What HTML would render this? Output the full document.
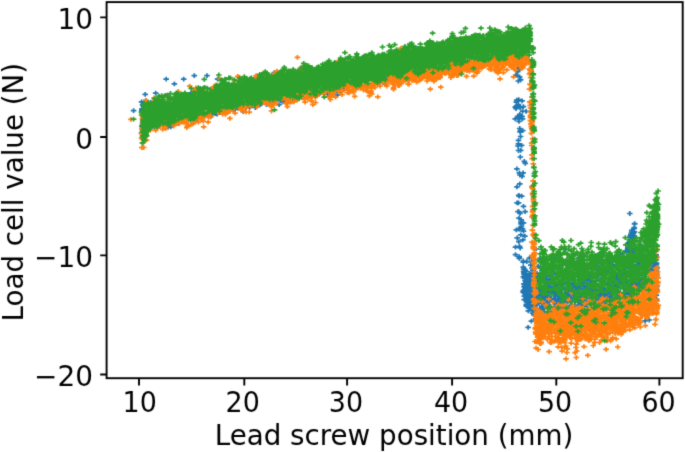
<!DOCTYPE html>
<html><head><meta charset="utf-8"><style>html,body{margin:0;padding:0;background:#fff}svg{display:block}</style></head>
<body><svg width="685" height="452" viewBox="0 0 685 452">
<defs><filter id="bl" color-interpolation-filters="sRGB" x="0" y="0" width="685" height="452" filterUnits="userSpaceOnUse"><feConvolveMatrix order="3" kernelMatrix="0.0169 0.0962 0.0169 0.0962 0.5476 0.0962 0.0169 0.0962 0.0169" edgeMode="duplicate"/></filter></defs>
<g filter="url(#bl)">
<rect width="685" height="452" fill="#fff"/>
<path d="M139.8 104.6h5.6m-2.8-2.4v4.8M168.0 126.9h5.6m-2.8-2.4v4.8M214.3 114.1h5.6m-2.8-2.4v4.8M139.6 126.2h5.6m-2.8-2.4v4.8M151.9 126.5h5.6m-2.8-2.4v4.8M300.8 97.7h5.6m-2.8-2.4v4.8M271.5 72.6h5.6m-2.8-2.4v4.8M252.1 80.3h5.6m-2.8-2.4v4.8M140.6 106.1h5.6m-2.8-2.4v4.8M173.4 123.2h5.6m-2.8-2.4v4.8M232.3 109.5h5.6m-2.8-2.4v4.8M230.9 109.3h5.6m-2.8-2.4v4.8M280.3 101.8h5.6m-2.8-2.4v4.8M240.5 111.7h5.6m-2.8-2.4v4.8M207.7 116.9h5.6m-2.8-2.4v4.8M272.1 101.5h5.6m-2.8-2.4v4.8M152.6 127.9h5.6m-2.8-2.4v4.8M169.8 124.4h5.6m-2.8-2.4v4.8M165.2 127.3h5.6m-2.8-2.4v4.8M246.9 107.3h5.6m-2.8-2.4v4.8M139.0 126.1h5.6m-2.8-2.4v4.8M377.6 82.4h5.6m-2.8-2.4v4.8M217.5 111.8h5.6m-2.8-2.4v4.8M189.1 93.3h5.6m-2.8-2.4v4.8M138.7 133.2h5.6m-2.8-2.4v4.8M324.9 94.3h5.6m-2.8-2.4v4.8M414.2 48.1h5.6m-2.8-2.4v4.8M258.1 103.8h5.6m-2.8-2.4v4.8M140.6 105.7h5.6m-2.8-2.4v4.8M143.0 100.4h5.6m-2.8-2.4v4.8M138.8 101.8h5.6m-2.8-2.4v4.8M334.5 95.1h5.6m-2.8-2.4v4.8M257.0 105.2h5.6m-2.8-2.4v4.8M296.3 71.0h5.6m-2.8-2.4v4.8M263.8 104.5h5.6m-2.8-2.4v4.8M433.6 45.7h5.6m-2.8-2.4v4.8M147.9 102.6h5.6m-2.8-2.4v4.8M382.3 84.5h5.6m-2.8-2.4v4.8M243.2 107.5h5.6m-2.8-2.4v4.8M178.6 95.0h5.6m-2.8-2.4v4.8M235.1 108.2h5.6m-2.8-2.4v4.8M141.9 103.2h5.6m-2.8-2.4v4.8M197.6 88.5h5.6m-2.8-2.4v4.8M280.7 100.1h5.6m-2.8-2.4v4.8M254.4 105.7h5.6m-2.8-2.4v4.8M140.8 106.2h5.6m-2.8-2.4v4.8M342.2 88.9h5.6m-2.8-2.4v4.8M337.7 91.4h5.6m-2.8-2.4v4.8M188.3 92.8h5.6m-2.8-2.4v4.8M164.6 95.1h5.6m-2.8-2.4v4.8M153.1 100.4h5.6m-2.8-2.4v4.8M248.8 105.5h5.6m-2.8-2.4v4.8M140.0 122.1h5.6m-2.8-2.4v4.8M199.7 115.8h5.6m-2.8-2.4v4.8M315.7 94.7h5.6m-2.8-2.4v4.8M152.1 127.2h5.6m-2.8-2.4v4.8M147.8 102.4h5.6m-2.8-2.4v4.8M276.3 104.7h5.6m-2.8-2.4v4.8M331.9 92.1h5.6m-2.8-2.4v4.8M186.9 95.3h5.6m-2.8-2.4v4.8M269.2 103.1h5.6m-2.8-2.4v4.8M208.8 114.6h5.6m-2.8-2.4v4.8M154.7 126.9h5.6m-2.8-2.4v4.8M231.7 108.3h5.6m-2.8-2.4v4.8M252.8 80.9h5.6m-2.8-2.4v4.8M275.3 99.1h5.6m-2.8-2.4v4.8M212.5 113.6h5.6m-2.8-2.4v4.8M280.5 98.9h5.6m-2.8-2.4v4.8M252.5 107.5h5.6m-2.8-2.4v4.8M194.4 118.8h5.6m-2.8-2.4v4.8M383.9 77.7h5.6m-2.8-2.4v4.8M248.7 79.3h5.6m-2.8-2.4v4.8M139.2 108.9h5.6m-2.8-2.4v4.8M335.6 88.7h5.6m-2.8-2.4v4.8M436.4 46.6h5.6m-2.8-2.4v4.8M232.4 107.0h5.6m-2.8-2.4v4.8M139.0 110.7h5.6m-2.8-2.4v4.8M260.8 76.7h5.6m-2.8-2.4v4.8M278.2 100.8h5.6m-2.8-2.4v4.8M289.7 100.9h5.6m-2.8-2.4v4.8M249.7 81.2h5.6m-2.8-2.4v4.8M334.9 90.2h5.6m-2.8-2.4v4.8M214.2 112.5h5.6m-2.8-2.4v4.8M163.4 79.2h5.6m-2.8-2.4v4.8M180.9 79.2h5.6m-2.8-2.4v4.8M191.5 75.7h5.6m-2.8-2.4v4.8M204.2 75.7h5.6m-2.8-2.4v4.8M171.6 83.9h5.6m-2.8-2.4v4.8M152.9 93.2h5.6m-2.8-2.4v4.8M142.4 94.4h5.6m-2.8-2.4v4.8M130.8 110.6h5.6m-2.8-2.4v4.8M214.8 79.2h5.6m-2.8-2.4v4.8M517.0 68.4h5.6m-2.8-2.4v4.8M514.9 71.6h5.6m-2.8-2.4v4.8M515.5 81.0h5.6m-2.8-2.4v4.8M516.2 67.4h5.6m-2.8-2.4v4.8M516.8 76.9h5.6m-2.8-2.4v4.8M517.8 79.6h5.6m-2.8-2.4v4.8M517.8 80.0h5.6m-2.8-2.4v4.8M513.2 75.2h5.6m-2.8-2.4v4.8M517.0 114.3h5.6m-2.8-2.4v4.8M514.0 100.2h5.6m-2.8-2.4v4.8M519.8 111.2h5.6m-2.8-2.4v4.8M523.3 111.3h5.6m-2.8-2.4v4.8M512.4 118.9h5.6m-2.8-2.4v4.8M517.8 130.8h5.6m-2.8-2.4v4.8M515.0 117.3h5.6m-2.8-2.4v4.8M516.2 121.4h5.6m-2.8-2.4v4.8M517.3 107.7h5.6m-2.8-2.4v4.8M513.2 108.6h5.6m-2.8-2.4v4.8M519.4 116.5h5.6m-2.8-2.4v4.8M516.9 128.5h5.6m-2.8-2.4v4.8M517.8 136.5h5.6m-2.8-2.4v4.8M520.6 106.6h5.6m-2.8-2.4v4.8M515.4 116.0h5.6m-2.8-2.4v4.8M512.5 106.8h5.6m-2.8-2.4v4.8M517.6 130.5h5.6m-2.8-2.4v4.8M515.6 104.5h5.6m-2.8-2.4v4.8M519.3 100.8h5.6m-2.8-2.4v4.8M514.0 106.1h5.6m-2.8-2.4v4.8M513.5 102.1h5.6m-2.8-2.4v4.8M515.5 117.9h5.6m-2.8-2.4v4.8M517.3 131.9h5.6m-2.8-2.4v4.8M515.9 99.6h5.6m-2.8-2.4v4.8M519.9 130.6h5.6m-2.8-2.4v4.8M519.7 118.8h5.6m-2.8-2.4v4.8M518.7 116.4h5.6m-2.8-2.4v4.8M516.7 117.5h5.6m-2.8-2.4v4.8M521.5 161.3h5.6m-2.8-2.4v4.8M522.5 163.4h5.6m-2.8-2.4v4.8M515.6 143.8h5.6m-2.8-2.4v4.8M515.7 140.4h5.6m-2.8-2.4v4.8M515.7 150.5h5.6m-2.8-2.4v4.8M515.2 146.0h5.6m-2.8-2.4v4.8M518.8 145.3h5.6m-2.8-2.4v4.8M517.5 157.0h5.6m-2.8-2.4v4.8M514.1 168.8h5.6m-2.8-2.4v4.8M517.9 150.3h5.6m-2.8-2.4v4.8M516.7 246.4h5.6m-2.8-2.4v4.8M522.3 211.6h5.6m-2.8-2.4v4.8M513.5 229.9h5.6m-2.8-2.4v4.8M517.4 248.0h5.6m-2.8-2.4v4.8M516.6 172.8h5.6m-2.8-2.4v4.8M520.7 222.8h5.6m-2.8-2.4v4.8M514.4 237.8h5.6m-2.8-2.4v4.8M518.3 223.8h5.6m-2.8-2.4v4.8M516.0 241.7h5.6m-2.8-2.4v4.8M518.9 196.2h5.6m-2.8-2.4v4.8M516.0 211.7h5.6m-2.8-2.4v4.8M518.4 219.9h5.6m-2.8-2.4v4.8M518.0 234.8h5.6m-2.8-2.4v4.8M517.0 183.9h5.6m-2.8-2.4v4.8M516.5 256.7h5.6m-2.8-2.4v4.8M517.0 229.0h5.6m-2.8-2.4v4.8M512.7 254.6h5.6m-2.8-2.4v4.8M518.2 222.1h5.6m-2.8-2.4v4.8M519.3 176.4h5.6m-2.8-2.4v4.8M519.7 228.8h5.6m-2.8-2.4v4.8M515.2 211.6h5.6m-2.8-2.4v4.8M514.2 186.8h5.6m-2.8-2.4v4.8M520.7 231.1h5.6m-2.8-2.4v4.8M515.7 202.9h5.6m-2.8-2.4v4.8M515.7 229.2h5.6m-2.8-2.4v4.8M512.7 247.1h5.6m-2.8-2.4v4.8M514.3 202.8h5.6m-2.8-2.4v4.8M516.5 258.3h5.6m-2.8-2.4v4.8M522.1 236.2h5.6m-2.8-2.4v4.8M516.2 218.2h5.6m-2.8-2.4v4.8M520.7 206.3h5.6m-2.8-2.4v4.8M515.9 195.3h5.6m-2.8-2.4v4.8M516.5 196.1h5.6m-2.8-2.4v4.8M517.2 213.4h5.6m-2.8-2.4v4.8M520.3 172.9h5.6m-2.8-2.4v4.8M517.1 175.0h5.6m-2.8-2.4v4.8M520.1 239.8h5.6m-2.8-2.4v4.8M518.6 226.3h5.6m-2.8-2.4v4.8M617.9 287.9h5.6m-2.8-2.4v4.8M521.5 296.1h5.6m-2.8-2.4v4.8M599.5 275.8h5.6m-2.8-2.4v4.8M584.6 280.7h5.6m-2.8-2.4v4.8M521.4 290.1h5.6m-2.8-2.4v4.8M551.9 303.7h5.6m-2.8-2.4v4.8M637.5 244.3h5.6m-2.8-2.4v4.8M522.5 287.6h5.6m-2.8-2.4v4.8M529.1 268.0h5.6m-2.8-2.4v4.8M533.3 248.9h5.6m-2.8-2.4v4.8M537.5 267.2h5.6m-2.8-2.4v4.8M607.8 262.1h5.6m-2.8-2.4v4.8M653.5 266.8h5.6m-2.8-2.4v4.8M531.7 287.7h5.6m-2.8-2.4v4.8M528.9 274.3h5.6m-2.8-2.4v4.8M597.0 253.3h5.6m-2.8-2.4v4.8M547.6 299.8h5.6m-2.8-2.4v4.8M595.8 272.3h5.6m-2.8-2.4v4.8M527.1 281.5h5.6m-2.8-2.4v4.8M626.6 293.5h5.6m-2.8-2.4v4.8M520.5 267.2h5.6m-2.8-2.4v4.8M525.5 310.8h5.6m-2.8-2.4v4.8M526.4 308.0h5.6m-2.8-2.4v4.8M522.5 270.4h5.6m-2.8-2.4v4.8M604.8 297.6h5.6m-2.8-2.4v4.8M526.7 308.2h5.6m-2.8-2.4v4.8M532.7 319.5h5.6m-2.8-2.4v4.8M626.3 259.5h5.6m-2.8-2.4v4.8M536.3 276.6h5.6m-2.8-2.4v4.8M555.0 299.4h5.6m-2.8-2.4v4.8M531.0 287.2h5.6m-2.8-2.4v4.8M653.8 299.3h5.6m-2.8-2.4v4.8M590.0 277.1h5.6m-2.8-2.4v4.8M556.4 300.1h5.6m-2.8-2.4v4.8M527.2 306.2h5.6m-2.8-2.4v4.8M575.1 271.9h5.6m-2.8-2.4v4.8M526.8 279.0h5.6m-2.8-2.4v4.8M597.4 295.1h5.6m-2.8-2.4v4.8M553.0 295.9h5.6m-2.8-2.4v4.8M624.6 293.9h5.6m-2.8-2.4v4.8M598.7 272.4h5.6m-2.8-2.4v4.8M528.3 281.6h5.6m-2.8-2.4v4.8M534.2 305.0h5.6m-2.8-2.4v4.8M526.8 276.2h5.6m-2.8-2.4v4.8M615.4 291.4h5.6m-2.8-2.4v4.8M528.0 285.1h5.6m-2.8-2.4v4.8M625.3 296.0h5.6m-2.8-2.4v4.8M535.3 266.4h5.6m-2.8-2.4v4.8M586.2 275.4h5.6m-2.8-2.4v4.8M604.9 293.2h5.6m-2.8-2.4v4.8M530.8 270.9h5.6m-2.8-2.4v4.8M558.2 265.8h5.6m-2.8-2.4v4.8M539.0 270.5h5.6m-2.8-2.4v4.8M647.6 263.7h5.6m-2.8-2.4v4.8M599.0 294.7h5.6m-2.8-2.4v4.8M533.3 304.0h5.6m-2.8-2.4v4.8M653.6 295.1h5.6m-2.8-2.4v4.8M651.1 265.8h5.6m-2.8-2.4v4.8M616.5 282.4h5.6m-2.8-2.4v4.8M525.3 327.3h5.6m-2.8-2.4v4.8M529.8 313.1h5.6m-2.8-2.4v4.8M631.8 253.7h5.6m-2.8-2.4v4.8M653.8 263.2h5.6m-2.8-2.4v4.8M522.2 275.9h5.6m-2.8-2.4v4.8M523.5 306.2h5.6m-2.8-2.4v4.8M522.9 294.8h5.6m-2.8-2.4v4.8M614.7 279.4h5.6m-2.8-2.4v4.8M576.4 296.7h5.6m-2.8-2.4v4.8M554.7 301.2h5.6m-2.8-2.4v4.8M520.8 271.3h5.6m-2.8-2.4v4.8M587.6 300.4h5.6m-2.8-2.4v4.8M625.2 292.2h5.6m-2.8-2.4v4.8M605.3 270.0h5.6m-2.8-2.4v4.8M543.5 276.7h5.6m-2.8-2.4v4.8M601.5 303.2h5.6m-2.8-2.4v4.8M554.9 294.7h5.6m-2.8-2.4v4.8M634.7 285.3h5.6m-2.8-2.4v4.8M521.4 287.0h5.6m-2.8-2.4v4.8M524.5 294.8h5.6m-2.8-2.4v4.8M571.4 261.6h5.6m-2.8-2.4v4.8M596.5 294.7h5.6m-2.8-2.4v4.8M613.0 277.4h5.6m-2.8-2.4v4.8M567.3 305.8h5.6m-2.8-2.4v4.8M524.0 281.5h5.6m-2.8-2.4v4.8M551.6 293.0h5.6m-2.8-2.4v4.8M601.4 301.1h5.6m-2.8-2.4v4.8M526.7 294.8h5.6m-2.8-2.4v4.8M521.7 293.4h5.6m-2.8-2.4v4.8M576.4 301.9h5.6m-2.8-2.4v4.8M520.9 269.0h5.6m-2.8-2.4v4.8M520.3 292.2h5.6m-2.8-2.4v4.8M523.2 283.0h5.6m-2.8-2.4v4.8M531.1 275.9h5.6m-2.8-2.4v4.8M551.6 306.7h5.6m-2.8-2.4v4.8M521.6 269.2h5.6m-2.8-2.4v4.8M540.5 298.1h5.6m-2.8-2.4v4.8M521.4 291.7h5.6m-2.8-2.4v4.8M637.1 312.9h5.6m-2.8-2.4v4.8M653.4 266.9h5.6m-2.8-2.4v4.8M557.5 307.0h5.6m-2.8-2.4v4.8M635.8 283.8h5.6m-2.8-2.4v4.8M532.7 318.9h5.6m-2.8-2.4v4.8M520.6 276.9h5.6m-2.8-2.4v4.8M604.6 273.4h5.6m-2.8-2.4v4.8M521.4 299.6h5.6m-2.8-2.4v4.8M521.4 286.7h5.6m-2.8-2.4v4.8M530.4 309.5h5.6m-2.8-2.4v4.8M546.5 296.7h5.6m-2.8-2.4v4.8M599.4 294.3h5.6m-2.8-2.4v4.8M615.2 284.6h5.6m-2.8-2.4v4.8M546.2 301.4h5.6m-2.8-2.4v4.8M524.2 294.1h5.6m-2.8-2.4v4.8M552.4 299.7h5.6m-2.8-2.4v4.8M653.4 254.8h5.6m-2.8-2.4v4.8M616.9 293.5h5.6m-2.8-2.4v4.8M637.3 287.8h5.6m-2.8-2.4v4.8M586.9 280.0h5.6m-2.8-2.4v4.8M597.5 293.4h5.6m-2.8-2.4v4.8M522.4 276.0h5.6m-2.8-2.4v4.8M598.0 292.0h5.6m-2.8-2.4v4.8M622.2 293.9h5.6m-2.8-2.4v4.8M555.9 294.5h5.6m-2.8-2.4v4.8M615.3 287.6h5.6m-2.8-2.4v4.8M549.0 291.6h5.6m-2.8-2.4v4.8M587.3 263.5h5.6m-2.8-2.4v4.8M607.2 286.7h5.6m-2.8-2.4v4.8M529.5 275.3h5.6m-2.8-2.4v4.8M601.2 294.0h5.6m-2.8-2.4v4.8M546.2 297.6h5.6m-2.8-2.4v4.8M568.1 307.2h5.6m-2.8-2.4v4.8M593.0 296.0h5.6m-2.8-2.4v4.8M527.4 286.2h5.6m-2.8-2.4v4.8M524.0 278.3h5.6m-2.8-2.4v4.8M540.9 295.7h5.6m-2.8-2.4v4.8M550.5 289.1h5.6m-2.8-2.4v4.8M544.9 296.6h5.6m-2.8-2.4v4.8M534.3 273.5h5.6m-2.8-2.4v4.8M602.8 273.0h5.6m-2.8-2.4v4.8M520.5 262.2h5.6m-2.8-2.4v4.8M557.2 295.5h5.6m-2.8-2.4v4.8M575.6 259.0h5.6m-2.8-2.4v4.8M550.3 268.8h5.6m-2.8-2.4v4.8M538.9 306.0h5.6m-2.8-2.4v4.8M650.2 272.4h5.6m-2.8-2.4v4.8M609.2 293.1h5.6m-2.8-2.4v4.8M530.8 306.3h5.6m-2.8-2.4v4.8M605.8 291.5h5.6m-2.8-2.4v4.8M539.6 309.5h5.6m-2.8-2.4v4.8M546.8 279.7h5.6m-2.8-2.4v4.8M587.6 282.9h5.6m-2.8-2.4v4.8M599.5 292.7h5.6m-2.8-2.4v4.8M520.6 290.5h5.6m-2.8-2.4v4.8M524.4 286.2h5.6m-2.8-2.4v4.8M592.5 305.8h5.6m-2.8-2.4v4.8M634.1 262.5h5.6m-2.8-2.4v4.8M606.2 262.2h5.6m-2.8-2.4v4.8M612.8 299.2h5.6m-2.8-2.4v4.8M599.4 298.5h5.6m-2.8-2.4v4.8M575.6 287.2h5.6m-2.8-2.4v4.8M602.0 294.8h5.6m-2.8-2.4v4.8M653.6 264.7h5.6m-2.8-2.4v4.8M528.8 280.5h5.6m-2.8-2.4v4.8M630.3 264.5h5.6m-2.8-2.4v4.8M524.7 301.1h5.6m-2.8-2.4v4.8M528.5 262.4h5.6m-2.8-2.4v4.8M533.6 302.9h5.6m-2.8-2.4v4.8M537.2 258.3h5.6m-2.8-2.4v4.8M598.0 291.8h5.6m-2.8-2.4v4.8M597.3 299.4h5.6m-2.8-2.4v4.8M604.0 294.1h5.6m-2.8-2.4v4.8M555.4 304.1h5.6m-2.8-2.4v4.8M543.5 302.3h5.6m-2.8-2.4v4.8M578.3 286.2h5.6m-2.8-2.4v4.8M651.6 268.3h5.6m-2.8-2.4v4.8M582.2 288.3h5.6m-2.8-2.4v4.8M541.3 308.1h5.6m-2.8-2.4v4.8M548.0 292.9h5.6m-2.8-2.4v4.8M545.1 304.4h5.6m-2.8-2.4v4.8M524.6 286.5h5.6m-2.8-2.4v4.8M572.4 286.7h5.6m-2.8-2.4v4.8M648.8 265.9h5.6m-2.8-2.4v4.8M651.6 269.9h5.6m-2.8-2.4v4.8M521.8 278.4h5.6m-2.8-2.4v4.8M532.4 307.8h5.6m-2.8-2.4v4.8M623.8 281.2h5.6m-2.8-2.4v4.8M541.1 296.9h5.6m-2.8-2.4v4.8M652.1 266.4h5.6m-2.8-2.4v4.8M633.5 287.3h5.6m-2.8-2.4v4.8M631.0 285.9h5.6m-2.8-2.4v4.8M594.5 293.0h5.6m-2.8-2.4v4.8M528.6 321.1h5.6m-2.8-2.4v4.8M601.6 289.5h5.6m-2.8-2.4v4.8M627.5 296.1h5.6m-2.8-2.4v4.8M526.6 258.2h5.6m-2.8-2.4v4.8M632.6 274.0h5.6m-2.8-2.4v4.8M549.9 270.7h5.6m-2.8-2.4v4.8M565.1 302.2h5.6m-2.8-2.4v4.8M623.4 290.2h5.6m-2.8-2.4v4.8M608.4 294.1h5.6m-2.8-2.4v4.8M653.9 273.5h5.6m-2.8-2.4v4.8M531.2 289.5h5.6m-2.8-2.4v4.8M608.2 283.5h5.6m-2.8-2.4v4.8M616.9 281.8h5.6m-2.8-2.4v4.8M526.5 277.9h5.6m-2.8-2.4v4.8M602.3 289.5h5.6m-2.8-2.4v4.8M530.7 310.9h5.6m-2.8-2.4v4.8M581.7 280.4h5.6m-2.8-2.4v4.8M563.7 299.0h5.6m-2.8-2.4v4.8M552.2 257.5h5.6m-2.8-2.4v4.8M539.7 303.5h5.6m-2.8-2.4v4.8M537.6 309.3h5.6m-2.8-2.4v4.8M597.7 288.0h5.6m-2.8-2.4v4.8M526.4 291.7h5.6m-2.8-2.4v4.8M602.7 300.3h5.6m-2.8-2.4v4.8M522.3 280.6h5.6m-2.8-2.4v4.8M598.6 290.9h5.6m-2.8-2.4v4.8M546.0 305.2h5.6m-2.8-2.4v4.8M569.2 305.3h5.6m-2.8-2.4v4.8M628.5 284.2h5.6m-2.8-2.4v4.8M521.3 274.5h5.6m-2.8-2.4v4.8M608.7 303.2h5.6m-2.8-2.4v4.8M549.3 279.7h5.6m-2.8-2.4v4.8M579.6 270.3h5.6m-2.8-2.4v4.8M643.5 285.7h5.6m-2.8-2.4v4.8M589.5 292.5h5.6m-2.8-2.4v4.8M561.8 302.1h5.6m-2.8-2.4v4.8M630.3 282.8h5.6m-2.8-2.4v4.8M596.5 298.5h5.6m-2.8-2.4v4.8M525.8 284.1h5.6m-2.8-2.4v4.8M534.7 312.6h5.6m-2.8-2.4v4.8M591.7 299.1h5.6m-2.8-2.4v4.8M523.3 283.5h5.6m-2.8-2.4v4.8M632.7 283.5h5.6m-2.8-2.4v4.8M561.3 298.2h5.6m-2.8-2.4v4.8M612.2 277.4h5.6m-2.8-2.4v4.8M521.1 272.8h5.6m-2.8-2.4v4.8M532.0 306.8h5.6m-2.8-2.4v4.8M562.7 249.4h5.6m-2.8-2.4v4.8M546.2 298.1h5.6m-2.8-2.4v4.8M572.1 301.3h5.6m-2.8-2.4v4.8M586.0 277.6h5.6m-2.8-2.4v4.8M618.9 282.4h5.6m-2.8-2.4v4.8M621.6 293.8h5.6m-2.8-2.4v4.8M560.4 301.6h5.6m-2.8-2.4v4.8M523.5 304.4h5.6m-2.8-2.4v4.8M598.1 291.1h5.6m-2.8-2.4v4.8M581.3 259.5h5.6m-2.8-2.4v4.8M539.9 309.2h5.6m-2.8-2.4v4.8M636.3 263.9h5.6m-2.8-2.4v4.8M563.9 291.9h5.6m-2.8-2.4v4.8M551.6 293.7h5.6m-2.8-2.4v4.8M582.5 288.5h5.6m-2.8-2.4v4.8M648.2 269.2h5.6m-2.8-2.4v4.8M529.9 270.2h5.6m-2.8-2.4v4.8M638.2 287.3h5.6m-2.8-2.4v4.8M575.5 293.7h5.6m-2.8-2.4v4.8M583.1 284.6h5.6m-2.8-2.4v4.8M557.0 297.4h5.6m-2.8-2.4v4.8M526.1 278.1h5.6m-2.8-2.4v4.8M653.6 270.6h5.6m-2.8-2.4v4.8M616.4 293.0h5.6m-2.8-2.4v4.8M523.1 298.1h5.6m-2.8-2.4v4.8M608.8 295.4h5.6m-2.8-2.4v4.8M592.8 289.5h5.6m-2.8-2.4v4.8M577.6 303.7h5.6m-2.8-2.4v4.8M544.1 298.9h5.6m-2.8-2.4v4.8M561.2 276.6h5.6m-2.8-2.4v4.8M602.5 297.2h5.6m-2.8-2.4v4.8M636.8 261.2h5.6m-2.8-2.4v4.8M624.4 282.0h5.6m-2.8-2.4v4.8M521.7 293.0h5.6m-2.8-2.4v4.8M585.9 289.0h5.6m-2.8-2.4v4.8M654.0 290.3h5.6m-2.8-2.4v4.8M570.3 287.2h5.6m-2.8-2.4v4.8M557.8 285.2h5.6m-2.8-2.4v4.8M535.4 274.8h5.6m-2.8-2.4v4.8M528.0 265.2h5.6m-2.8-2.4v4.8M563.1 293.3h5.6m-2.8-2.4v4.8M540.0 303.3h5.6m-2.8-2.4v4.8M532.4 279.5h5.6m-2.8-2.4v4.8M650.4 297.0h5.6m-2.8-2.4v4.8M646.5 263.1h5.6m-2.8-2.4v4.8M595.9 274.4h5.6m-2.8-2.4v4.8M602.6 297.7h5.6m-2.8-2.4v4.8M550.6 292.7h5.6m-2.8-2.4v4.8M523.4 286.4h5.6m-2.8-2.4v4.8M547.8 307.9h5.6m-2.8-2.4v4.8M627.4 286.2h5.6m-2.8-2.4v4.8M609.6 294.2h5.6m-2.8-2.4v4.8M546.4 298.6h5.6m-2.8-2.4v4.8M579.6 298.3h5.6m-2.8-2.4v4.8M554.8 292.3h5.6m-2.8-2.4v4.8M557.5 288.0h5.6m-2.8-2.4v4.8M572.1 279.5h5.6m-2.8-2.4v4.8M561.4 281.8h5.6m-2.8-2.4v4.8M526.6 294.6h5.6m-2.8-2.4v4.8M538.1 300.8h5.6m-2.8-2.4v4.8M595.7 291.7h5.6m-2.8-2.4v4.8M586.8 303.8h5.6m-2.8-2.4v4.8M622.2 252.2h5.6m-2.8-2.4v4.8M534.3 291.0h5.6m-2.8-2.4v4.8M594.7 265.1h5.6m-2.8-2.4v4.8M531.3 279.8h5.6m-2.8-2.4v4.8M536.4 295.2h5.6m-2.8-2.4v4.8M600.8 292.9h5.6m-2.8-2.4v4.8M529.4 273.5h5.6m-2.8-2.4v4.8M584.0 286.5h5.6m-2.8-2.4v4.8M522.1 278.3h5.6m-2.8-2.4v4.8M573.5 284.3h5.6m-2.8-2.4v4.8M564.1 277.3h5.6m-2.8-2.4v4.8M654.0 286.7h5.6m-2.8-2.4v4.8M598.2 257.8h5.6m-2.8-2.4v4.8M530.1 306.3h5.6m-2.8-2.4v4.8M567.7 307.5h5.6m-2.8-2.4v4.8M598.5 263.2h5.6m-2.8-2.4v4.8M565.1 286.1h5.6m-2.8-2.4v4.8M552.1 286.6h5.6m-2.8-2.4v4.8M559.5 287.6h5.6m-2.8-2.4v4.8M584.6 277.8h5.6m-2.8-2.4v4.8M610.2 265.1h5.6m-2.8-2.4v4.8M591.8 300.8h5.6m-2.8-2.4v4.8M566.5 283.5h5.6m-2.8-2.4v4.8M527.3 274.3h5.6m-2.8-2.4v4.8M592.9 290.8h5.6m-2.8-2.4v4.8M528.4 293.5h5.6m-2.8-2.4v4.8M571.5 284.1h5.6m-2.8-2.4v4.8M603.9 298.9h5.6m-2.8-2.4v4.8M523.3 274.3h5.6m-2.8-2.4v4.8M653.7 288.8h5.6m-2.8-2.4v4.8M536.9 292.8h5.6m-2.8-2.4v4.8M614.5 274.3h5.6m-2.8-2.4v4.8M570.3 283.0h5.6m-2.8-2.4v4.8M641.8 290.4h5.6m-2.8-2.4v4.8M570.4 280.2h5.6m-2.8-2.4v4.8M543.5 297.8h5.6m-2.8-2.4v4.8M651.9 269.9h5.6m-2.8-2.4v4.8M532.7 296.1h5.6m-2.8-2.4v4.8M537.1 308.3h5.6m-2.8-2.4v4.8M607.7 301.6h5.6m-2.8-2.4v4.8M533.1 297.9h5.6m-2.8-2.4v4.8M646.5 320.0h5.6m-2.8-2.4v4.8M571.0 295.5h5.6m-2.8-2.4v4.8M619.9 274.0h5.6m-2.8-2.4v4.8M630.5 273.9h5.6m-2.8-2.4v4.8M586.2 300.2h5.6m-2.8-2.4v4.8M521.6 286.8h5.6m-2.8-2.4v4.8M542.9 278.8h5.6m-2.8-2.4v4.8M561.2 283.7h5.6m-2.8-2.4v4.8M600.1 254.6h5.6m-2.8-2.4v4.8M654.0 257.3h5.6m-2.8-2.4v4.8M589.0 297.8h5.6m-2.8-2.4v4.8M525.5 288.5h5.6m-2.8-2.4v4.8M558.5 280.6h5.6m-2.8-2.4v4.8M569.4 298.8h5.6m-2.8-2.4v4.8M609.1 297.7h5.6m-2.8-2.4v4.8M537.7 289.5h5.6m-2.8-2.4v4.8M558.7 309.7h5.6m-2.8-2.4v4.8M529.7 280.6h5.6m-2.8-2.4v4.8M577.1 294.2h5.6m-2.8-2.4v4.8M545.2 282.8h5.6m-2.8-2.4v4.8M547.5 299.1h5.6m-2.8-2.4v4.8M526.0 300.0h5.6m-2.8-2.4v4.8M569.6 293.7h5.6m-2.8-2.4v4.8M619.1 275.5h5.6m-2.8-2.4v4.8M601.4 274.4h5.6m-2.8-2.4v4.8M528.2 291.5h5.6m-2.8-2.4v4.8M568.0 301.4h5.6m-2.8-2.4v4.8M642.3 320.8h5.6m-2.8-2.4v4.8M569.3 284.5h5.6m-2.8-2.4v4.8M526.1 305.2h5.6m-2.8-2.4v4.8M544.7 304.4h5.6m-2.8-2.4v4.8M524.8 286.9h5.6m-2.8-2.4v4.8M524.0 261.5h5.6m-2.8-2.4v4.8M582.8 306.4h5.6m-2.8-2.4v4.8M530.5 290.5h5.6m-2.8-2.4v4.8M564.1 291.3h5.6m-2.8-2.4v4.8M529.3 294.2h5.6m-2.8-2.4v4.8M616.4 294.5h5.6m-2.8-2.4v4.8M593.6 270.0h5.6m-2.8-2.4v4.8M552.7 290.8h5.6m-2.8-2.4v4.8M654.2 268.5h5.6m-2.8-2.4v4.8M536.3 281.1h5.6m-2.8-2.4v4.8M546.6 306.8h5.6m-2.8-2.4v4.8M553.9 307.9h5.6m-2.8-2.4v4.8M626.4 291.8h5.6m-2.8-2.4v4.8M566.2 294.9h5.6m-2.8-2.4v4.8M653.4 286.4h5.6m-2.8-2.4v4.8M562.7 302.5h5.6m-2.8-2.4v4.8M626.6 267.6h5.6m-2.8-2.4v4.8M531.1 314.9h5.6m-2.8-2.4v4.8M524.2 302.1h5.6m-2.8-2.4v4.8M526.7 273.5h5.6m-2.8-2.4v4.8M555.7 302.7h5.6m-2.8-2.4v4.8M527.5 300.4h5.6m-2.8-2.4v4.8M527.1 297.1h5.6m-2.8-2.4v4.8M603.7 304.7h5.6m-2.8-2.4v4.8M542.1 304.6h5.6m-2.8-2.4v4.8M632.8 286.5h5.6m-2.8-2.4v4.8M562.4 263.9h5.6m-2.8-2.4v4.8M638.9 278.0h5.6m-2.8-2.4v4.8M631.6 288.9h5.6m-2.8-2.4v4.8M546.6 287.5h5.6m-2.8-2.4v4.8M545.7 286.1h5.6m-2.8-2.4v4.8M579.4 296.3h5.6m-2.8-2.4v4.8M565.1 292.0h5.6m-2.8-2.4v4.8M564.9 295.8h5.6m-2.8-2.4v4.8M530.6 305.7h5.6m-2.8-2.4v4.8M520.5 261.0h5.6m-2.8-2.4v4.8M526.8 296.6h5.6m-2.8-2.4v4.8M597.1 281.0h5.6m-2.8-2.4v4.8M591.3 288.6h5.6m-2.8-2.4v4.8M538.2 293.6h5.6m-2.8-2.4v4.8M551.2 298.4h5.6m-2.8-2.4v4.8M598.4 302.1h5.6m-2.8-2.4v4.8M544.0 279.1h5.6m-2.8-2.4v4.8M539.8 312.8h5.6m-2.8-2.4v4.8M535.6 277.2h5.6m-2.8-2.4v4.8M580.3 276.1h5.6m-2.8-2.4v4.8M578.2 282.9h5.6m-2.8-2.4v4.8M578.7 293.5h5.6m-2.8-2.4v4.8M607.0 271.8h5.6m-2.8-2.4v4.8M521.1 283.9h5.6m-2.8-2.4v4.8M533.0 293.1h5.6m-2.8-2.4v4.8M565.8 291.4h5.6m-2.8-2.4v4.8M628.2 280.9h5.6m-2.8-2.4v4.8M560.5 282.8h5.6m-2.8-2.4v4.8M618.9 295.7h5.6m-2.8-2.4v4.8M542.1 294.5h5.6m-2.8-2.4v4.8M538.3 290.2h5.6m-2.8-2.4v4.8M547.0 275.7h5.6m-2.8-2.4v4.8M569.2 307.1h5.6m-2.8-2.4v4.8M577.4 300.1h5.6m-2.8-2.4v4.8M554.5 273.6h5.6m-2.8-2.4v4.8M564.3 289.2h5.6m-2.8-2.4v4.8M595.4 299.6h5.6m-2.8-2.4v4.8M604.3 290.5h5.6m-2.8-2.4v4.8M576.7 271.8h5.6m-2.8-2.4v4.8M611.7 285.9h5.6m-2.8-2.4v4.8M564.9 291.2h5.6m-2.8-2.4v4.8M618.6 296.2h5.6m-2.8-2.4v4.8M651.9 262.8h5.6m-2.8-2.4v4.8M537.7 279.7h5.6m-2.8-2.4v4.8M608.6 287.3h5.6m-2.8-2.4v4.8M527.9 284.0h5.6m-2.8-2.4v4.8M551.3 286.1h5.6m-2.8-2.4v4.8M608.3 297.5h5.6m-2.8-2.4v4.8M578.3 288.8h5.6m-2.8-2.4v4.8M530.5 298.0h5.6m-2.8-2.4v4.8M544.3 291.8h5.6m-2.8-2.4v4.8M525.3 306.2h5.6m-2.8-2.4v4.8M621.6 304.8h5.6m-2.8-2.4v4.8M610.1 282.4h5.6m-2.8-2.4v4.8M582.4 287.0h5.6m-2.8-2.4v4.8M588.9 281.9h5.6m-2.8-2.4v4.8M573.1 299.5h5.6m-2.8-2.4v4.8M538.1 293.1h5.6m-2.8-2.4v4.8M545.9 283.1h5.6m-2.8-2.4v4.8M524.6 301.8h5.6m-2.8-2.4v4.8M624.3 276.7h5.6m-2.8-2.4v4.8M587.0 279.3h5.6m-2.8-2.4v4.8M551.4 310.9h5.6m-2.8-2.4v4.8M541.6 299.0h5.6m-2.8-2.4v4.8M613.9 287.5h5.6m-2.8-2.4v4.8M571.9 305.8h5.6m-2.8-2.4v4.8M550.4 272.7h5.6m-2.8-2.4v4.8M581.4 300.7h5.6m-2.8-2.4v4.8M564.8 308.4h5.6m-2.8-2.4v4.8M654.2 275.7h5.6m-2.8-2.4v4.8M589.0 290.8h5.6m-2.8-2.4v4.8M611.9 266.2h5.6m-2.8-2.4v4.8M544.1 301.5h5.6m-2.8-2.4v4.8M578.3 305.2h5.6m-2.8-2.4v4.8M607.6 297.9h5.6m-2.8-2.4v4.8M522.3 278.0h5.6m-2.8-2.4v4.8M554.9 307.3h5.6m-2.8-2.4v4.8M523.1 281.2h5.6m-2.8-2.4v4.8M587.4 290.6h5.6m-2.8-2.4v4.8M526.4 302.2h5.6m-2.8-2.4v4.8M606.3 298.1h5.6m-2.8-2.4v4.8M561.0 307.7h5.6m-2.8-2.4v4.8M527.7 294.6h5.6m-2.8-2.4v4.8M630.0 295.1h5.6m-2.8-2.4v4.8M622.9 293.5h5.6m-2.8-2.4v4.8M635.6 281.3h5.6m-2.8-2.4v4.8M579.5 294.5h5.6m-2.8-2.4v4.8M565.3 289.1h5.6m-2.8-2.4v4.8M522.3 285.0h5.6m-2.8-2.4v4.8M633.1 266.5h5.6m-2.8-2.4v4.8M647.0 272.6h5.6m-2.8-2.4v4.8M604.4 289.8h5.6m-2.8-2.4v4.8M547.9 312.8h5.6m-2.8-2.4v4.8M523.4 271.5h5.6m-2.8-2.4v4.8M637.3 281.0h5.6m-2.8-2.4v4.8M651.3 276.8h5.6m-2.8-2.4v4.8M530.9 260.1h5.6m-2.8-2.4v4.8M618.1 254.2h5.6m-2.8-2.4v4.8M556.4 291.2h5.6m-2.8-2.4v4.8M535.1 290.4h5.6m-2.8-2.4v4.8M614.9 295.4h5.6m-2.8-2.4v4.8M569.0 290.4h5.6m-2.8-2.4v4.8M605.0 283.4h5.6m-2.8-2.4v4.8M575.2 305.1h5.6m-2.8-2.4v4.8M652.6 270.5h5.6m-2.8-2.4v4.8M576.0 287.4h5.6m-2.8-2.4v4.8M639.9 280.0h5.6m-2.8-2.4v4.8M623.4 273.1h5.6m-2.8-2.4v4.8M530.8 291.7h5.6m-2.8-2.4v4.8M538.3 295.4h5.6m-2.8-2.4v4.8M568.1 298.4h5.6m-2.8-2.4v4.8M560.2 288.6h5.6m-2.8-2.4v4.8M587.9 287.4h5.6m-2.8-2.4v4.8M553.9 301.5h5.6m-2.8-2.4v4.8M555.4 310.7h5.6m-2.8-2.4v4.8M639.1 287.9h5.6m-2.8-2.4v4.8M542.2 274.9h5.6m-2.8-2.4v4.8M627.7 266.5h5.6m-2.8-2.4v4.8M583.8 303.7h5.6m-2.8-2.4v4.8M650.4 276.7h5.6m-2.8-2.4v4.8M556.6 292.8h5.6m-2.8-2.4v4.8M553.6 284.8h5.6m-2.8-2.4v4.8M629.4 273.8h5.6m-2.8-2.4v4.8M532.0 287.0h5.6m-2.8-2.4v4.8M580.7 293.2h5.6m-2.8-2.4v4.8M553.0 274.7h5.6m-2.8-2.4v4.8M603.3 305.6h5.6m-2.8-2.4v4.8M621.3 288.4h5.6m-2.8-2.4v4.8M551.9 284.1h5.6m-2.8-2.4v4.8M616.8 297.7h5.6m-2.8-2.4v4.8M586.3 273.2h5.6m-2.8-2.4v4.8M600.4 284.9h5.6m-2.8-2.4v4.8M536.9 299.4h5.6m-2.8-2.4v4.8M557.7 296.0h5.6m-2.8-2.4v4.8M537.5 290.7h5.6m-2.8-2.4v4.8M610.7 279.3h5.6m-2.8-2.4v4.8M579.8 283.4h5.6m-2.8-2.4v4.8M533.2 301.3h5.6m-2.8-2.4v4.8M534.9 303.1h5.6m-2.8-2.4v4.8M584.1 297.5h5.6m-2.8-2.4v4.8M590.5 295.7h5.6m-2.8-2.4v4.8M570.2 290.2h5.6m-2.8-2.4v4.8M541.5 311.9h5.6m-2.8-2.4v4.8M629.6 299.8h5.6m-2.8-2.4v4.8M527.5 304.5h5.6m-2.8-2.4v4.8M596.9 289.7h5.6m-2.8-2.4v4.8M639.4 285.8h5.6m-2.8-2.4v4.8M599.4 289.0h5.6m-2.8-2.4v4.8M545.8 300.1h5.6m-2.8-2.4v4.8M623.5 284.8h5.6m-2.8-2.4v4.8M622.7 268.5h5.6m-2.8-2.4v4.8M592.8 280.5h5.6m-2.8-2.4v4.8M584.2 289.9h5.6m-2.8-2.4v4.8M526.4 289.1h5.6m-2.8-2.4v4.8M522.1 289.4h5.6m-2.8-2.4v4.8M550.9 292.5h5.6m-2.8-2.4v4.8M537.1 277.7h5.6m-2.8-2.4v4.8M523.9 289.6h5.6m-2.8-2.4v4.8M528.4 300.9h5.6m-2.8-2.4v4.8M588.5 288.6h5.6m-2.8-2.4v4.8M585.2 291.8h5.6m-2.8-2.4v4.8M638.5 280.7h5.6m-2.8-2.4v4.8M573.9 289.7h5.6m-2.8-2.4v4.8M557.5 298.6h5.6m-2.8-2.4v4.8M593.2 283.5h5.6m-2.8-2.4v4.8M631.9 223.9h5.6m-2.8-2.4v4.8M629.0 230.4h5.6m-2.8-2.4v4.8M630.8 250.8h5.6m-2.8-2.4v4.8M631.7 224.0h5.6m-2.8-2.4v4.8M629.3 230.4h5.6m-2.8-2.4v4.8M628.2 235.8h5.6m-2.8-2.4v4.8M626.0 242.8h5.6m-2.8-2.4v4.8M624.7 244.1h5.6m-2.8-2.4v4.8M631.8 241.2h5.6m-2.8-2.4v4.8M630.3 250.5h5.6m-2.8-2.4v4.8M625.0 247.6h5.6m-2.8-2.4v4.8M627.4 236.4h5.6m-2.8-2.4v4.8M626.8 241.7h5.6m-2.8-2.4v4.8M631.2 228.6h5.6m-2.8-2.4v4.8M629.2 251.3h5.6m-2.8-2.4v4.8M631.6 241.7h5.6m-2.8-2.4v4.8M627.3 243.8h5.6m-2.8-2.4v4.8M626.5 250.9h5.6m-2.8-2.4v4.8M629.4 248.3h5.6m-2.8-2.4v4.8M624.3 250.7h5.6m-2.8-2.4v4.8M627.3 237.3h5.6m-2.8-2.4v4.8M631.2 235.9h5.6m-2.8-2.4v4.8M628.1 240.4h5.6m-2.8-2.4v4.8M631.6 231.9h5.6m-2.8-2.4v4.8M628.0 234.3h5.6m-2.8-2.4v4.8M625.9 244.2h5.6m-2.8-2.4v4.8M630.7 233.2h5.6m-2.8-2.4v4.8M630.8 237.4h5.6m-2.8-2.4v4.8M624.9 248.9h5.6m-2.8-2.4v4.8M629.4 250.9h5.6m-2.8-2.4v4.8M630.7 232.3h5.6m-2.8-2.4v4.8M629.3 249.1h5.6m-2.8-2.4v4.8M631.9 223.7h5.6m-2.8-2.4v4.8M631.5 227.6h5.6m-2.8-2.4v4.8M626.7 247.2h5.6m-2.8-2.4v4.8M630.4 237.9h5.6m-2.8-2.4v4.8M625.9 248.6h5.6m-2.8-2.4v4.8M628.9 236.7h5.6m-2.8-2.4v4.8M630.2 234.0h5.6m-2.8-2.4v4.8M629.7 237.5h5.6m-2.8-2.4v4.8M628.8 232.4h5.6m-2.8-2.4v4.8M625.3 250.1h5.6m-2.8-2.4v4.8M627.0 213.5h5.6m-2.8-2.4v4.8" stroke="#1f77b4" stroke-width="1.7" fill="none"/>
<path d="M164.3 126.0h5.6m-2.8-2.4v4.8M190.9 90.4h5.6m-2.8-2.4v4.8M279.6 99.2h5.6m-2.8-2.4v4.8M242.0 106.5h5.6m-2.8-2.4v4.8M312.4 97.3h5.6m-2.8-2.4v4.8M261.5 102.5h5.6m-2.8-2.4v4.8M195.6 122.2h5.6m-2.8-2.4v4.8M451.1 64.2h5.6m-2.8-2.4v4.8M236.7 107.7h5.6m-2.8-2.4v4.8M232.2 113.1h5.6m-2.8-2.4v4.8M500.2 66.8h5.6m-2.8-2.4v4.8M195.0 116.1h5.6m-2.8-2.4v4.8M498.9 65.1h5.6m-2.8-2.4v4.8M360.7 90.0h5.6m-2.8-2.4v4.8M479.2 68.2h5.6m-2.8-2.4v4.8M245.4 106.5h5.6m-2.8-2.4v4.8M464.1 70.7h5.6m-2.8-2.4v4.8M192.9 90.9h5.6m-2.8-2.4v4.8M522.8 53.2h5.6m-2.8-2.4v4.8M413.7 81.0h5.6m-2.8-2.4v4.8M270.8 74.4h5.6m-2.8-2.4v4.8M446.0 73.3h5.6m-2.8-2.4v4.8M320.9 93.8h5.6m-2.8-2.4v4.8M232.6 80.9h5.6m-2.8-2.4v4.8M184.6 126.1h5.6m-2.8-2.4v4.8M415.5 77.2h5.6m-2.8-2.4v4.8M383.9 86.2h5.6m-2.8-2.4v4.8M339.1 90.4h5.6m-2.8-2.4v4.8M217.2 79.2h5.6m-2.8-2.4v4.8M175.1 123.7h5.6m-2.8-2.4v4.8M427.5 89.1h5.6m-2.8-2.4v4.8M457.9 72.1h5.6m-2.8-2.4v4.8M167.2 97.7h5.6m-2.8-2.4v4.8M205.3 122.1h5.6m-2.8-2.4v4.8M406.0 84.1h5.6m-2.8-2.4v4.8M328.8 95.3h5.6m-2.8-2.4v4.8M231.8 107.2h5.6m-2.8-2.4v4.8M446.4 73.9h5.6m-2.8-2.4v4.8M291.5 72.8h5.6m-2.8-2.4v4.8M380.5 78.7h5.6m-2.8-2.4v4.8M351.9 96.3h5.6m-2.8-2.4v4.8M314.0 96.2h5.6m-2.8-2.4v4.8M390.4 83.1h5.6m-2.8-2.4v4.8M461.9 70.0h5.6m-2.8-2.4v4.8M286.0 100.0h5.6m-2.8-2.4v4.8M434.0 76.3h5.6m-2.8-2.4v4.8M302.3 102.2h5.6m-2.8-2.4v4.8M200.6 115.0h5.6m-2.8-2.4v4.8M268.7 111.0h5.6m-2.8-2.4v4.8M438.9 73.9h5.6m-2.8-2.4v4.8M176.4 123.7h5.6m-2.8-2.4v4.8M441.4 72.9h5.6m-2.8-2.4v4.8M288.6 101.9h5.6m-2.8-2.4v4.8M496.2 64.5h5.6m-2.8-2.4v4.8M396.4 83.7h5.6m-2.8-2.4v4.8M240.5 110.9h5.6m-2.8-2.4v4.8M439.9 72.4h5.6m-2.8-2.4v4.8M454.2 66.9h5.6m-2.8-2.4v4.8M242.5 105.6h5.6m-2.8-2.4v4.8M230.7 108.1h5.6m-2.8-2.4v4.8M449.1 76.2h5.6m-2.8-2.4v4.8M140.9 147.5h5.6m-2.8-2.4v4.8M344.7 92.6h5.6m-2.8-2.4v4.8M139.6 118.5h5.6m-2.8-2.4v4.8M285.8 99.2h5.6m-2.8-2.4v4.8M159.9 129.3h5.6m-2.8-2.4v4.8M374.8 84.2h5.6m-2.8-2.4v4.8M428.6 79.3h5.6m-2.8-2.4v4.8M283.4 99.0h5.6m-2.8-2.4v4.8M482.8 65.6h5.6m-2.8-2.4v4.8M198.0 119.7h5.6m-2.8-2.4v4.8M403.7 80.0h5.6m-2.8-2.4v4.8M260.3 102.4h5.6m-2.8-2.4v4.8M413.7 82.0h5.6m-2.8-2.4v4.8M238.1 109.8h5.6m-2.8-2.4v4.8M503.0 63.7h5.6m-2.8-2.4v4.8M344.5 89.4h5.6m-2.8-2.4v4.8M346.9 91.4h5.6m-2.8-2.4v4.8M413.5 76.7h5.6m-2.8-2.4v4.8M139.4 132.8h5.6m-2.8-2.4v4.8M264.7 103.9h5.6m-2.8-2.4v4.8M284.4 100.2h5.6m-2.8-2.4v4.8M199.8 118.9h5.6m-2.8-2.4v4.8M423.7 70.3h5.6m-2.8-2.4v4.8M455.2 75.3h5.6m-2.8-2.4v4.8M253.7 77.6h5.6m-2.8-2.4v4.8M291.2 101.3h5.6m-2.8-2.4v4.8M440.8 72.5h5.6m-2.8-2.4v4.8M501.1 63.4h5.6m-2.8-2.4v4.8M190.0 123.8h5.6m-2.8-2.4v4.8M509.4 62.9h5.6m-2.8-2.4v4.8M344.7 89.9h5.6m-2.8-2.4v4.8M282.1 97.0h5.6m-2.8-2.4v4.8M308.4 100.8h5.6m-2.8-2.4v4.8M297.8 68.0h5.6m-2.8-2.4v4.8M262.3 78.4h5.6m-2.8-2.4v4.8M272.0 100.9h5.6m-2.8-2.4v4.8M274.2 71.1h5.6m-2.8-2.4v4.8M255.2 78.8h5.6m-2.8-2.4v4.8M364.3 90.9h5.6m-2.8-2.4v4.8M139.6 123.5h5.6m-2.8-2.4v4.8M523.2 63.6h5.6m-2.8-2.4v4.8M151.4 125.6h5.6m-2.8-2.4v4.8M468.7 70.0h5.6m-2.8-2.4v4.8M175.5 91.5h5.6m-2.8-2.4v4.8M509.3 58.3h5.6m-2.8-2.4v4.8M510.8 76.9h5.6m-2.8-2.4v4.8M193.2 88.0h5.6m-2.8-2.4v4.8M475.2 68.5h5.6m-2.8-2.4v4.8M424.0 78.3h5.6m-2.8-2.4v4.8M470.9 76.2h5.6m-2.8-2.4v4.8M384.1 75.3h5.6m-2.8-2.4v4.8M336.4 60.3h5.6m-2.8-2.4v4.8M398.0 82.0h5.6m-2.8-2.4v4.8M345.2 90.1h5.6m-2.8-2.4v4.8M144.8 102.2h5.6m-2.8-2.4v4.8M260.8 73.2h5.6m-2.8-2.4v4.8M197.8 113.1h5.6m-2.8-2.4v4.8M502.5 62.5h5.6m-2.8-2.4v4.8M226.9 111.5h5.6m-2.8-2.4v4.8M520.4 65.4h5.6m-2.8-2.4v4.8M339.2 94.6h5.6m-2.8-2.4v4.8M181.2 122.4h5.6m-2.8-2.4v4.8M443.4 72.9h5.6m-2.8-2.4v4.8M400.5 79.9h5.6m-2.8-2.4v4.8M240.8 108.5h5.6m-2.8-2.4v4.8M238.4 108.1h5.6m-2.8-2.4v4.8M503.9 62.3h5.6m-2.8-2.4v4.8M143.4 135.6h5.6m-2.8-2.4v4.8M225.2 111.9h5.6m-2.8-2.4v4.8M162.9 128.5h5.6m-2.8-2.4v4.8M396.5 85.7h5.6m-2.8-2.4v4.8M377.0 82.7h5.6m-2.8-2.4v4.8M236.3 77.2h5.6m-2.8-2.4v4.8M171.0 126.0h5.6m-2.8-2.4v4.8M222.6 114.3h5.6m-2.8-2.4v4.8M512.9 70.0h5.6m-2.8-2.4v4.8M500.6 62.5h5.6m-2.8-2.4v4.8M379.3 81.8h5.6m-2.8-2.4v4.8M418.9 77.4h5.6m-2.8-2.4v4.8M294.2 100.3h5.6m-2.8-2.4v4.8M475.7 71.4h5.6m-2.8-2.4v4.8M284.6 106.7h5.6m-2.8-2.4v4.8M299.0 92.6h5.6m-2.8-2.4v4.8M430.8 76.8h5.6m-2.8-2.4v4.8M501.3 61.7h5.6m-2.8-2.4v4.8M449.1 64.0h5.6m-2.8-2.4v4.8M205.7 117.2h5.6m-2.8-2.4v4.8M380.8 82.4h5.6m-2.8-2.4v4.8M236.1 106.9h5.6m-2.8-2.4v4.8M308.9 97.5h5.6m-2.8-2.4v4.8M250.1 104.6h5.6m-2.8-2.4v4.8M406.3 80.7h5.6m-2.8-2.4v4.8M462.8 66.8h5.6m-2.8-2.4v4.8M289.0 96.2h5.6m-2.8-2.4v4.8M456.7 68.4h5.6m-2.8-2.4v4.8M201.8 117.3h5.6m-2.8-2.4v4.8M448.8 74.6h5.6m-2.8-2.4v4.8M211.2 86.9h5.6m-2.8-2.4v4.8M506.3 65.5h5.6m-2.8-2.4v4.8M490.2 60.1h5.6m-2.8-2.4v4.8M339.2 91.6h5.6m-2.8-2.4v4.8M152.8 130.4h5.6m-2.8-2.4v4.8M140.6 120.8h5.6m-2.8-2.4v4.8M392.1 85.4h5.6m-2.8-2.4v4.8M315.0 94.3h5.6m-2.8-2.4v4.8M430.3 79.1h5.6m-2.8-2.4v4.8M254.0 106.9h5.6m-2.8-2.4v4.8M292.1 97.9h5.6m-2.8-2.4v4.8M486.2 65.3h5.6m-2.8-2.4v4.8M522.9 57.0h5.6m-2.8-2.4v4.8M355.5 88.1h5.6m-2.8-2.4v4.8M229.8 83.9h5.6m-2.8-2.4v4.8M156.9 126.7h5.6m-2.8-2.4v4.8M223.6 112.9h5.6m-2.8-2.4v4.8M161.2 125.2h5.6m-2.8-2.4v4.8M410.9 80.1h5.6m-2.8-2.4v4.8M417.8 79.8h5.6m-2.8-2.4v4.8M503.3 61.3h5.6m-2.8-2.4v4.8M497.2 61.2h5.6m-2.8-2.4v4.8M277.9 72.0h5.6m-2.8-2.4v4.8M488.1 62.8h5.6m-2.8-2.4v4.8M200.4 121.1h5.6m-2.8-2.4v4.8M351.0 86.0h5.6m-2.8-2.4v4.8M518.1 59.1h5.6m-2.8-2.4v4.8M284.4 96.9h5.6m-2.8-2.4v4.8M307.5 97.0h5.6m-2.8-2.4v4.8M327.2 96.7h5.6m-2.8-2.4v4.8M390.5 82.2h5.6m-2.8-2.4v4.8M432.3 72.9h5.6m-2.8-2.4v4.8M524.1 57.9h5.6m-2.8-2.4v4.8M168.2 97.9h5.6m-2.8-2.4v4.8M304.4 95.9h5.6m-2.8-2.4v4.8M456.1 72.1h5.6m-2.8-2.4v4.8M474.2 73.1h5.6m-2.8-2.4v4.8M188.0 124.8h5.6m-2.8-2.4v4.8M171.9 123.0h5.6m-2.8-2.4v4.8M332.8 97.1h5.6m-2.8-2.4v4.8M491.7 69.1h5.6m-2.8-2.4v4.8M430.9 79.0h5.6m-2.8-2.4v4.8M504.9 61.1h5.6m-2.8-2.4v4.8M221.8 112.1h5.6m-2.8-2.4v4.8M358.0 88.2h5.6m-2.8-2.4v4.8M391.1 81.1h5.6m-2.8-2.4v4.8M497.4 70.0h5.6m-2.8-2.4v4.8M420.6 77.1h5.6m-2.8-2.4v4.8M273.8 103.6h5.6m-2.8-2.4v4.8M365.1 90.9h5.6m-2.8-2.4v4.8M516.5 60.7h5.6m-2.8-2.4v4.8M520.1 58.2h5.6m-2.8-2.4v4.8M359.9 85.7h5.6m-2.8-2.4v4.8M255.7 104.0h5.6m-2.8-2.4v4.8M492.6 57.7h5.6m-2.8-2.4v4.8M171.8 124.2h5.6m-2.8-2.4v4.8M398.2 48.1h5.6m-2.8-2.4v4.8M320.1 92.6h5.6m-2.8-2.4v4.8M325.9 96.8h5.6m-2.8-2.4v4.8M373.0 83.7h5.6m-2.8-2.4v4.8M363.1 87.9h5.6m-2.8-2.4v4.8M224.3 112.2h5.6m-2.8-2.4v4.8M215.3 112.9h5.6m-2.8-2.4v4.8M234.9 76.4h5.6m-2.8-2.4v4.8M434.2 70.1h5.6m-2.8-2.4v4.8M139.0 147.6h5.6m-2.8-2.4v4.8M302.7 97.1h5.6m-2.8-2.4v4.8M463.0 62.9h5.6m-2.8-2.4v4.8M395.0 82.4h5.6m-2.8-2.4v4.8M285.3 98.9h5.6m-2.8-2.4v4.8M154.8 99.4h5.6m-2.8-2.4v4.8M385.9 76.6h5.6m-2.8-2.4v4.8M451.4 75.3h5.6m-2.8-2.4v4.8M197.5 112.6h5.6m-2.8-2.4v4.8M428.1 78.6h5.6m-2.8-2.4v4.8M284.0 103.7h5.6m-2.8-2.4v4.8M518.7 68.5h5.6m-2.8-2.4v4.8M487.9 69.3h5.6m-2.8-2.4v4.8M336.6 91.4h5.6m-2.8-2.4v4.8M493.0 70.6h5.6m-2.8-2.4v4.8M457.9 65.8h5.6m-2.8-2.4v4.8M301.7 98.7h5.6m-2.8-2.4v4.8M463.2 67.3h5.6m-2.8-2.4v4.8M518.6 68.0h5.6m-2.8-2.4v4.8M328.9 92.4h5.6m-2.8-2.4v4.8M430.8 70.7h5.6m-2.8-2.4v4.8M140.2 123.8h5.6m-2.8-2.4v4.8M140.0 143.0h5.6m-2.8-2.4v4.8M365.1 87.6h5.6m-2.8-2.4v4.8M447.1 61.9h5.6m-2.8-2.4v4.8M466.6 71.4h5.6m-2.8-2.4v4.8M386.4 81.4h5.6m-2.8-2.4v4.8M500.6 63.1h5.6m-2.8-2.4v4.8M394.4 80.3h5.6m-2.8-2.4v4.8M430.1 71.0h5.6m-2.8-2.4v4.8M392.7 81.7h5.6m-2.8-2.4v4.8M515.4 60.9h5.6m-2.8-2.4v4.8M488.5 65.9h5.6m-2.8-2.4v4.8M274.3 73.1h5.6m-2.8-2.4v4.8M323.4 91.6h5.6m-2.8-2.4v4.8M262.1 100.9h5.6m-2.8-2.4v4.8M227.1 118.4h5.6m-2.8-2.4v4.8M265.9 104.2h5.6m-2.8-2.4v4.8M410.9 79.0h5.6m-2.8-2.4v4.8M466.5 63.3h5.6m-2.8-2.4v4.8M212.6 85.1h5.6m-2.8-2.4v4.8M205.5 115.9h5.6m-2.8-2.4v4.8M409.4 80.7h5.6m-2.8-2.4v4.8M370.7 83.0h5.6m-2.8-2.4v4.8M523.9 55.5h5.6m-2.8-2.4v4.8M409.1 79.0h5.6m-2.8-2.4v4.8M368.1 92.2h5.6m-2.8-2.4v4.8M418.6 78.5h5.6m-2.8-2.4v4.8M335.6 91.0h5.6m-2.8-2.4v4.8M395.0 81.3h5.6m-2.8-2.4v4.8M290.9 101.9h5.6m-2.8-2.4v4.8M395.0 79.1h5.6m-2.8-2.4v4.8M495.2 64.8h5.6m-2.8-2.4v4.8M191.7 119.4h5.6m-2.8-2.4v4.8M253.3 75.6h5.6m-2.8-2.4v4.8M295.6 97.4h5.6m-2.8-2.4v4.8M487.1 66.4h5.6m-2.8-2.4v4.8M139.7 119.5h5.6m-2.8-2.4v4.8M368.7 88.2h5.6m-2.8-2.4v4.8M277.5 72.1h5.6m-2.8-2.4v4.8M445.8 62.9h5.6m-2.8-2.4v4.8M172.0 121.6h5.6m-2.8-2.4v4.8M254.9 103.6h5.6m-2.8-2.4v4.8M219.9 114.2h5.6m-2.8-2.4v4.8M497.2 78.9h5.6m-2.8-2.4v4.8M344.5 88.6h5.6m-2.8-2.4v4.8M420.7 76.3h5.6m-2.8-2.4v4.8M368.2 90.5h5.6m-2.8-2.4v4.8M488.7 69.6h5.6m-2.8-2.4v4.8M433.5 79.4h5.6m-2.8-2.4v4.8M457.9 71.4h5.6m-2.8-2.4v4.8M254.0 76.9h5.6m-2.8-2.4v4.8M375.5 82.2h5.6m-2.8-2.4v4.8M398.4 53.6h5.6m-2.8-2.4v4.8M487.6 65.6h5.6m-2.8-2.4v4.8M523.6 59.2h5.6m-2.8-2.4v4.8M351.2 88.5h5.6m-2.8-2.4v4.8M327.2 97.1h5.6m-2.8-2.4v4.8M155.1 127.2h5.6m-2.8-2.4v4.8M411.1 76.1h5.6m-2.8-2.4v4.8M241.0 104.7h5.6m-2.8-2.4v4.8M310.5 95.6h5.6m-2.8-2.4v4.8M444.9 70.9h5.6m-2.8-2.4v4.8M517.0 66.2h5.6m-2.8-2.4v4.8M468.3 67.9h5.6m-2.8-2.4v4.8M412.4 77.2h5.6m-2.8-2.4v4.8M452.0 70.5h5.6m-2.8-2.4v4.8M218.8 108.9h5.6m-2.8-2.4v4.8M294.6 57.4h5.6m-2.8-2.4v4.8M208.1 89.0h5.6m-2.8-2.4v4.8M382.4 82.2h5.6m-2.8-2.4v4.8M279.9 98.0h5.6m-2.8-2.4v4.8M306.5 93.0h5.6m-2.8-2.4v4.8M424.2 81.0h5.6m-2.8-2.4v4.8M265.5 99.3h5.6m-2.8-2.4v4.8M143.7 140.2h5.6m-2.8-2.4v4.8M246.4 112.1h5.6m-2.8-2.4v4.8M352.9 89.7h5.6m-2.8-2.4v4.8M479.5 65.2h5.6m-2.8-2.4v4.8M264.2 103.2h5.6m-2.8-2.4v4.8M442.1 72.0h5.6m-2.8-2.4v4.8M444.7 72.2h5.6m-2.8-2.4v4.8M440.7 71.3h5.6m-2.8-2.4v4.8M500.6 72.7h5.6m-2.8-2.4v4.8M463.7 76.3h5.6m-2.8-2.4v4.8M492.3 59.9h5.6m-2.8-2.4v4.8M139.1 113.0h5.6m-2.8-2.4v4.8M473.9 72.1h5.6m-2.8-2.4v4.8M493.7 61.9h5.6m-2.8-2.4v4.8M139.2 128.5h5.6m-2.8-2.4v4.8M185.7 120.1h5.6m-2.8-2.4v4.8M513.2 64.8h5.6m-2.8-2.4v4.8M307.0 91.6h5.6m-2.8-2.4v4.8M205.4 113.1h5.6m-2.8-2.4v4.8M506.4 56.7h5.6m-2.8-2.4v4.8M395.3 85.6h5.6m-2.8-2.4v4.8M367.8 85.2h5.6m-2.8-2.4v4.8M425.5 73.5h5.6m-2.8-2.4v4.8M408.6 76.0h5.6m-2.8-2.4v4.8M228.9 108.4h5.6m-2.8-2.4v4.8M449.2 65.3h5.6m-2.8-2.4v4.8M445.8 69.2h5.6m-2.8-2.4v4.8M405.0 78.1h5.6m-2.8-2.4v4.8M183.8 123.5h5.6m-2.8-2.4v4.8M299.2 97.8h5.6m-2.8-2.4v4.8M331.8 90.8h5.6m-2.8-2.4v4.8M380.3 78.3h5.6m-2.8-2.4v4.8M385.3 76.2h5.6m-2.8-2.4v4.8M509.1 55.8h5.6m-2.8-2.4v4.8M519.9 57.5h5.6m-2.8-2.4v4.8M515.5 58.2h5.6m-2.8-2.4v4.8M177.8 121.5h5.6m-2.8-2.4v4.8M435.9 77.0h5.6m-2.8-2.4v4.8M488.2 67.0h5.6m-2.8-2.4v4.8M437.2 77.7h5.6m-2.8-2.4v4.8M139.0 133.7h5.6m-2.8-2.4v4.8M193.0 121.9h5.6m-2.8-2.4v4.8M315.7 94.2h5.6m-2.8-2.4v4.8M268.8 106.9h5.6m-2.8-2.4v4.8M492.6 64.1h5.6m-2.8-2.4v4.8M481.1 66.7h5.6m-2.8-2.4v4.8M400.6 78.4h5.6m-2.8-2.4v4.8M402.1 80.4h5.6m-2.8-2.4v4.8M483.0 63.1h5.6m-2.8-2.4v4.8M518.3 63.6h5.6m-2.8-2.4v4.8M441.7 72.6h5.6m-2.8-2.4v4.8M140.0 116.7h5.6m-2.8-2.4v4.8M512.0 60.2h5.6m-2.8-2.4v4.8M372.2 87.3h5.6m-2.8-2.4v4.8M209.5 90.5h5.6m-2.8-2.4v4.8M139.9 116.5h5.6m-2.8-2.4v4.8M448.0 77.5h5.6m-2.8-2.4v4.8M467.6 67.3h5.6m-2.8-2.4v4.8M220.1 111.2h5.6m-2.8-2.4v4.8M429.4 74.8h5.6m-2.8-2.4v4.8M451.2 73.6h5.6m-2.8-2.4v4.8M408.7 70.7h5.6m-2.8-2.4v4.8M487.2 64.5h5.6m-2.8-2.4v4.8M175.1 119.9h5.6m-2.8-2.4v4.8M457.4 69.6h5.6m-2.8-2.4v4.8M188.1 119.7h5.6m-2.8-2.4v4.8M163.5 96.2h5.6m-2.8-2.4v4.8M304.1 94.1h5.6m-2.8-2.4v4.8M471.6 65.6h5.6m-2.8-2.4v4.8M370.5 84.5h5.6m-2.8-2.4v4.8M213.3 88.1h5.6m-2.8-2.4v4.8M425.4 77.2h5.6m-2.8-2.4v4.8M192.9 91.6h5.6m-2.8-2.4v4.8M507.1 54.7h5.6m-2.8-2.4v4.8M140.2 135.2h5.6m-2.8-2.4v4.8M376.7 81.5h5.6m-2.8-2.4v4.8M343.7 87.7h5.6m-2.8-2.4v4.8M423.8 72.3h5.6m-2.8-2.4v4.8M179.6 121.6h5.6m-2.8-2.4v4.8M470.9 68.0h5.6m-2.8-2.4v4.8M431.4 73.4h5.6m-2.8-2.4v4.8M229.5 109.4h5.6m-2.8-2.4v4.8M287.7 102.2h5.6m-2.8-2.4v4.8M504.0 69.9h5.6m-2.8-2.4v4.8M393.2 79.8h5.6m-2.8-2.4v4.8M457.9 64.9h5.6m-2.8-2.4v4.8M476.1 61.9h5.6m-2.8-2.4v4.8M260.4 99.2h5.6m-2.8-2.4v4.8M450.4 74.2h5.6m-2.8-2.4v4.8M307.2 97.2h5.6m-2.8-2.4v4.8M369.5 81.2h5.6m-2.8-2.4v4.8M388.6 76.4h5.6m-2.8-2.4v4.8M243.2 112.1h5.6m-2.8-2.4v4.8M434.6 78.1h5.6m-2.8-2.4v4.8M139.2 129.3h5.6m-2.8-2.4v4.8M510.2 53.1h5.6m-2.8-2.4v4.8M326.2 91.7h5.6m-2.8-2.4v4.8M454.8 72.7h5.6m-2.8-2.4v4.8M467.8 66.5h5.6m-2.8-2.4v4.8M429.4 72.2h5.6m-2.8-2.4v4.8M517.2 63.6h5.6m-2.8-2.4v4.8M403.1 79.0h5.6m-2.8-2.4v4.8M516.3 64.3h5.6m-2.8-2.4v4.8M350.4 89.6h5.6m-2.8-2.4v4.8M364.5 86.9h5.6m-2.8-2.4v4.8M399.7 77.1h5.6m-2.8-2.4v4.8M522.6 60.6h5.6m-2.8-2.4v4.8M138.8 138.5h5.6m-2.8-2.4v4.8M185.8 119.2h5.6m-2.8-2.4v4.8M348.0 84.9h5.6m-2.8-2.4v4.8M520.2 57.3h5.6m-2.8-2.4v4.8M403.8 73.1h5.6m-2.8-2.4v4.8M511.7 54.0h5.6m-2.8-2.4v4.8M437.5 73.0h5.6m-2.8-2.4v4.8M502.9 58.9h5.6m-2.8-2.4v4.8M442.5 73.6h5.6m-2.8-2.4v4.8M484.9 64.0h5.6m-2.8-2.4v4.8M365.8 79.9h5.6m-2.8-2.4v4.8M506.4 62.4h5.6m-2.8-2.4v4.8M459.2 70.5h5.6m-2.8-2.4v4.8M160.6 124.7h5.6m-2.8-2.4v4.8M301.4 99.0h5.6m-2.8-2.4v4.8M434.9 73.9h5.6m-2.8-2.4v4.8M289.7 95.8h5.6m-2.8-2.4v4.8M500.0 68.0h5.6m-2.8-2.4v4.8M162.3 123.5h5.6m-2.8-2.4v4.8M517.0 62.3h5.6m-2.8-2.4v4.8M224.6 111.6h5.6m-2.8-2.4v4.8M352.6 85.5h5.6m-2.8-2.4v4.8M468.5 62.0h5.6m-2.8-2.4v4.8M380.4 79.6h5.6m-2.8-2.4v4.8M225.3 108.5h5.6m-2.8-2.4v4.8M472.3 71.9h5.6m-2.8-2.4v4.8M508.6 67.4h5.6m-2.8-2.4v4.8M332.0 90.6h5.6m-2.8-2.4v4.8M319.1 88.6h5.6m-2.8-2.4v4.8M323.6 90.4h5.6m-2.8-2.4v4.8M283.0 102.9h5.6m-2.8-2.4v4.8M373.9 82.6h5.6m-2.8-2.4v4.8M408.0 72.7h5.6m-2.8-2.4v4.8M495.6 63.7h5.6m-2.8-2.4v4.8M392.1 77.6h5.6m-2.8-2.4v4.8M397.3 77.1h5.6m-2.8-2.4v4.8M456.7 63.9h5.6m-2.8-2.4v4.8M390.6 87.8h5.6m-2.8-2.4v4.8M425.6 78.0h5.6m-2.8-2.4v4.8M415.8 81.1h5.6m-2.8-2.4v4.8M369.6 85.6h5.6m-2.8-2.4v4.8M218.7 107.9h5.6m-2.8-2.4v4.8M465.7 65.1h5.6m-2.8-2.4v4.8M470.2 63.8h5.6m-2.8-2.4v4.8M406.2 73.8h5.6m-2.8-2.4v4.8M249.7 104.8h5.6m-2.8-2.4v4.8M424.0 69.6h5.6m-2.8-2.4v4.8M450.4 75.7h5.6m-2.8-2.4v4.8M452.1 64.4h5.6m-2.8-2.4v4.8M495.3 73.2h5.6m-2.8-2.4v4.8M426.2 75.7h5.6m-2.8-2.4v4.8M475.1 69.1h5.6m-2.8-2.4v4.8M179.4 122.2h5.6m-2.8-2.4v4.8M219.9 107.7h5.6m-2.8-2.4v4.8M366.6 95.8h5.6m-2.8-2.4v4.8M418.2 75.8h5.6m-2.8-2.4v4.8M470.1 68.7h5.6m-2.8-2.4v4.8M342.6 85.9h5.6m-2.8-2.4v4.8M184.0 127.7h5.6m-2.8-2.4v4.8M180.8 121.5h5.6m-2.8-2.4v4.8M190.7 122.8h5.6m-2.8-2.4v4.8M391.7 82.5h5.6m-2.8-2.4v4.8M389.4 82.0h5.6m-2.8-2.4v4.8M476.2 59.4h5.6m-2.8-2.4v4.8M492.6 63.4h5.6m-2.8-2.4v4.8M381.7 80.4h5.6m-2.8-2.4v4.8M359.2 84.0h5.6m-2.8-2.4v4.8M480.8 62.8h5.6m-2.8-2.4v4.8M410.1 73.1h5.6m-2.8-2.4v4.8M470.9 62.1h5.6m-2.8-2.4v4.8M507.4 60.1h5.6m-2.8-2.4v4.8M344.8 86.0h5.6m-2.8-2.4v4.8M459.2 68.0h5.6m-2.8-2.4v4.8M450.3 60.3h5.6m-2.8-2.4v4.8M452.4 65.8h5.6m-2.8-2.4v4.8M159.8 121.0h5.6m-2.8-2.4v4.8M508.7 65.1h5.6m-2.8-2.4v4.8M416.2 71.5h5.6m-2.8-2.4v4.8M421.2 73.9h5.6m-2.8-2.4v4.8M519.9 63.7h5.6m-2.8-2.4v4.8M271.5 103.8h5.6m-2.8-2.4v4.8M304.6 91.0h5.6m-2.8-2.4v4.8M439.7 71.2h5.6m-2.8-2.4v4.8M486.8 62.8h5.6m-2.8-2.4v4.8M350.6 92.4h5.6m-2.8-2.4v4.8M450.4 69.4h5.6m-2.8-2.4v4.8M437.2 73.7h5.6m-2.8-2.4v4.8M511.9 64.3h5.6m-2.8-2.4v4.8M205.2 114.0h5.6m-2.8-2.4v4.8M331.5 89.9h5.6m-2.8-2.4v4.8M461.0 67.6h5.6m-2.8-2.4v4.8M473.9 61.4h5.6m-2.8-2.4v4.8M466.5 60.4h5.6m-2.8-2.4v4.8M248.3 105.4h5.6m-2.8-2.4v4.8M404.3 76.7h5.6m-2.8-2.4v4.8M183.5 122.9h5.6m-2.8-2.4v4.8M377.1 86.2h5.6m-2.8-2.4v4.8M494.1 67.1h5.6m-2.8-2.4v4.8M413.0 76.1h5.6m-2.8-2.4v4.8M417.7 69.3h5.6m-2.8-2.4v4.8M509.8 58.1h5.6m-2.8-2.4v4.8M437.4 76.9h5.6m-2.8-2.4v4.8M398.4 83.7h5.6m-2.8-2.4v4.8M329.2 91.4h5.6m-2.8-2.4v4.8M391.5 82.8h5.6m-2.8-2.4v4.8M511.3 69.1h5.6m-2.8-2.4v4.8M511.0 57.2h5.6m-2.8-2.4v4.8M513.6 63.5h5.6m-2.8-2.4v4.8M183.4 118.3h5.6m-2.8-2.4v4.8M142.2 136.4h5.6m-2.8-2.4v4.8M198.4 118.5h5.6m-2.8-2.4v4.8M238.9 104.2h5.6m-2.8-2.4v4.8M513.6 56.6h5.6m-2.8-2.4v4.8M495.0 68.7h5.6m-2.8-2.4v4.8M521.7 64.9h5.6m-2.8-2.4v4.8M337.3 86.8h5.6m-2.8-2.4v4.8M448.8 71.1h5.6m-2.8-2.4v4.8M248.4 106.0h5.6m-2.8-2.4v4.8M139.0 137.7h5.6m-2.8-2.4v4.8M519.6 62.5h5.6m-2.8-2.4v4.8M348.5 87.2h5.6m-2.8-2.4v4.8M448.3 67.5h5.6m-2.8-2.4v4.8M151.8 101.1h5.6m-2.8-2.4v4.8M475.4 67.3h5.6m-2.8-2.4v4.8M422.5 68.3h5.6m-2.8-2.4v4.8M310.3 92.3h5.6m-2.8-2.4v4.8M439.6 70.4h5.6m-2.8-2.4v4.8M147.4 130.4h5.6m-2.8-2.4v4.8M252.7 104.1h5.6m-2.8-2.4v4.8M167.7 122.6h5.6m-2.8-2.4v4.8M465.9 70.2h5.6m-2.8-2.4v4.8M223.8 113.0h5.6m-2.8-2.4v4.8M334.7 61.8h5.6m-2.8-2.4v4.8M391.8 73.8h5.6m-2.8-2.4v4.8M461.3 65.9h5.6m-2.8-2.4v4.8M395.5 76.4h5.6m-2.8-2.4v4.8M309.5 96.9h5.6m-2.8-2.4v4.8M278.2 97.2h5.6m-2.8-2.4v4.8M446.6 70.5h5.6m-2.8-2.4v4.8M151.6 97.8h5.6m-2.8-2.4v4.8M449.9 74.3h5.6m-2.8-2.4v4.8M371.2 83.8h5.6m-2.8-2.4v4.8M470.0 62.8h5.6m-2.8-2.4v4.8M445.3 65.4h5.6m-2.8-2.4v4.8M446.7 69.6h5.6m-2.8-2.4v4.8M463.0 69.0h5.6m-2.8-2.4v4.8M507.9 63.8h5.6m-2.8-2.4v4.8M330.0 93.4h5.6m-2.8-2.4v4.8M304.6 94.3h5.6m-2.8-2.4v4.8M461.1 67.8h5.6m-2.8-2.4v4.8M411.4 73.2h5.6m-2.8-2.4v4.8M193.0 93.2h5.6m-2.8-2.4v4.8M259.5 98.9h5.6m-2.8-2.4v4.8M440.5 68.9h5.6m-2.8-2.4v4.8M346.5 92.9h5.6m-2.8-2.4v4.8M203.1 108.2h5.6m-2.8-2.4v4.8M454.0 75.7h5.6m-2.8-2.4v4.8M405.2 76.3h5.6m-2.8-2.4v4.8M405.3 84.1h5.6m-2.8-2.4v4.8M327.6 99.5h5.6m-2.8-2.4v4.8M424.8 74.8h5.6m-2.8-2.4v4.8M264.2 103.6h5.6m-2.8-2.4v4.8M390.8 89.3h5.6m-2.8-2.4v4.8M357.8 88.3h5.6m-2.8-2.4v4.8M345.6 85.8h5.6m-2.8-2.4v4.8M195.3 117.7h5.6m-2.8-2.4v4.8M395.6 82.5h5.6m-2.8-2.4v4.8M304.9 98.7h5.6m-2.8-2.4v4.8M329.0 91.7h5.6m-2.8-2.4v4.8M330.8 87.6h5.6m-2.8-2.4v4.8M499.4 60.4h5.6m-2.8-2.4v4.8M309.7 90.0h5.6m-2.8-2.4v4.8M345.1 84.1h5.6m-2.8-2.4v4.8M451.4 60.9h5.6m-2.8-2.4v4.8M298.1 71.0h5.6m-2.8-2.4v4.8M522.4 59.8h5.6m-2.8-2.4v4.8M195.6 89.9h5.6m-2.8-2.4v4.8M353.3 87.4h5.6m-2.8-2.4v4.8M399.0 55.5h5.6m-2.8-2.4v4.8M390.2 74.6h5.6m-2.8-2.4v4.8M179.6 119.9h5.6m-2.8-2.4v4.8M486.5 68.8h5.6m-2.8-2.4v4.8M384.2 84.0h5.6m-2.8-2.4v4.8M399.9 74.6h5.6m-2.8-2.4v4.8M419.3 75.7h5.6m-2.8-2.4v4.8M450.1 66.4h5.6m-2.8-2.4v4.8M184.1 118.1h5.6m-2.8-2.4v4.8M321.5 89.9h5.6m-2.8-2.4v4.8M495.7 69.6h5.6m-2.8-2.4v4.8M452.7 70.2h5.6m-2.8-2.4v4.8M475.8 63.7h5.6m-2.8-2.4v4.8M390.2 84.5h5.6m-2.8-2.4v4.8M507.4 62.9h5.6m-2.8-2.4v4.8M438.0 87.1h5.6m-2.8-2.4v4.8M230.1 108.1h5.6m-2.8-2.4v4.8M478.1 65.5h5.6m-2.8-2.4v4.8M400.5 78.2h5.6m-2.8-2.4v4.8M396.9 83.6h5.6m-2.8-2.4v4.8M387.4 79.8h5.6m-2.8-2.4v4.8M513.8 49.0h5.6m-2.8-2.4v4.8M479.1 68.1h5.6m-2.8-2.4v4.8M390.1 77.4h5.6m-2.8-2.4v4.8M512.3 59.4h5.6m-2.8-2.4v4.8M435.1 70.0h5.6m-2.8-2.4v4.8M306.4 97.2h5.6m-2.8-2.4v4.8M428.4 70.2h5.6m-2.8-2.4v4.8M415.1 76.1h5.6m-2.8-2.4v4.8M271.8 75.2h5.6m-2.8-2.4v4.8M492.1 56.1h5.6m-2.8-2.4v4.8M470.6 61.8h5.6m-2.8-2.4v4.8M271.9 99.6h5.6m-2.8-2.4v4.8M357.2 83.5h5.6m-2.8-2.4v4.8M500.6 59.2h5.6m-2.8-2.4v4.8M455.2 61.4h5.6m-2.8-2.4v4.8M446.5 64.9h5.6m-2.8-2.4v4.8M457.4 69.8h5.6m-2.8-2.4v4.8M341.3 85.5h5.6m-2.8-2.4v4.8M200.9 126.8h5.6m-2.8-2.4v4.8M375.0 96.8h5.6m-2.8-2.4v4.8M482.3 63.5h5.6m-2.8-2.4v4.8M313.7 92.8h5.6m-2.8-2.4v4.8M182.7 117.5h5.6m-2.8-2.4v4.8M510.2 63.3h5.6m-2.8-2.4v4.8M510.1 65.9h5.6m-2.8-2.4v4.8M431.3 73.2h5.6m-2.8-2.4v4.8M363.9 80.9h5.6m-2.8-2.4v4.8M214.2 85.9h5.6m-2.8-2.4v4.8M489.9 59.7h5.6m-2.8-2.4v4.8M208.0 116.3h5.6m-2.8-2.4v4.8M425.1 75.6h5.6m-2.8-2.4v4.8M431.2 81.3h5.6m-2.8-2.4v4.8M256.2 77.9h5.6m-2.8-2.4v4.8M186.9 86.1h5.6m-2.8-2.4v4.8M502.7 59.8h5.6m-2.8-2.4v4.8M158.2 122.4h5.6m-2.8-2.4v4.8M472.7 66.8h5.6m-2.8-2.4v4.8M434.5 73.0h5.6m-2.8-2.4v4.8M310.1 104.7h5.6m-2.8-2.4v4.8M293.5 94.6h5.6m-2.8-2.4v4.8M399.5 75.1h5.6m-2.8-2.4v4.8M493.9 71.8h5.6m-2.8-2.4v4.8M504.6 57.2h5.6m-2.8-2.4v4.8M429.8 68.7h5.6m-2.8-2.4v4.8M243.5 105.9h5.6m-2.8-2.4v4.8M474.4 66.2h5.6m-2.8-2.4v4.8M493.9 66.0h5.6m-2.8-2.4v4.8M386.7 77.2h5.6m-2.8-2.4v4.8M499.3 58.5h5.6m-2.8-2.4v4.8M362.9 86.4h5.6m-2.8-2.4v4.8M300.4 94.1h5.6m-2.8-2.4v4.8M472.4 57.9h5.6m-2.8-2.4v4.8M456.6 70.7h5.6m-2.8-2.4v4.8M352.7 87.4h5.6m-2.8-2.4v4.8M411.9 74.8h5.6m-2.8-2.4v4.8M496.8 69.3h5.6m-2.8-2.4v4.8M247.0 100.1h5.6m-2.8-2.4v4.8M478.0 59.7h5.6m-2.8-2.4v4.8M365.2 91.8h5.6m-2.8-2.4v4.8M285.4 97.4h5.6m-2.8-2.4v4.8M151.3 98.6h5.6m-2.8-2.4v4.8M268.7 105.2h5.6m-2.8-2.4v4.8M241.3 103.2h5.6m-2.8-2.4v4.8M323.3 89.1h5.6m-2.8-2.4v4.8M342.4 83.8h5.6m-2.8-2.4v4.8M330.5 92.9h5.6m-2.8-2.4v4.8M515.8 47.1h5.6m-2.8-2.4v4.8M520.2 67.7h5.6m-2.8-2.4v4.8M368.9 93.8h5.6m-2.8-2.4v4.8M219.7 113.1h5.6m-2.8-2.4v4.8M312.7 102.5h5.6m-2.8-2.4v4.8M202.2 91.7h5.6m-2.8-2.4v4.8M269.2 101.7h5.6m-2.8-2.4v4.8M504.4 57.9h5.6m-2.8-2.4v4.8M527.6 64.4h5.6m-2.8-2.4v4.8M527.8 77.5h5.6m-2.8-2.4v4.8M527.2 73.3h5.6m-2.8-2.4v4.8M525.7 61.7h5.6m-2.8-2.4v4.8M526.6 69.0h5.6m-2.8-2.4v4.8M527.1 61.6h5.6m-2.8-2.4v4.8M526.7 73.9h5.6m-2.8-2.4v4.8M528.6 71.5h5.6m-2.8-2.4v4.8M528.3 70.0h5.6m-2.8-2.4v4.8M527.8 84.7h5.6m-2.8-2.4v4.8M527.2 84.1h5.6m-2.8-2.4v4.8M527.3 70.5h5.6m-2.8-2.4v4.8M528.2 72.8h5.6m-2.8-2.4v4.8M527.6 102.4h5.6m-2.8-2.4v4.8M529.3 114.7h5.6m-2.8-2.4v4.8M527.0 101.8h5.6m-2.8-2.4v4.8M527.7 108.0h5.6m-2.8-2.4v4.8M528.1 123.8h5.6m-2.8-2.4v4.8M529.2 122.3h5.6m-2.8-2.4v4.8M529.5 125.2h5.6m-2.8-2.4v4.8M529.2 120.9h5.6m-2.8-2.4v4.8M529.6 121.4h5.6m-2.8-2.4v4.8M529.0 97.1h5.6m-2.8-2.4v4.8M529.4 128.9h5.6m-2.8-2.4v4.8M528.6 101.9h5.6m-2.8-2.4v4.8M527.6 120.6h5.6m-2.8-2.4v4.8M528.9 128.4h5.6m-2.8-2.4v4.8M527.5 105.4h5.6m-2.8-2.4v4.8M528.8 107.9h5.6m-2.8-2.4v4.8M527.8 117.6h5.6m-2.8-2.4v4.8M527.1 112.0h5.6m-2.8-2.4v4.8M527.9 115.3h5.6m-2.8-2.4v4.8M528.2 89.1h5.6m-2.8-2.4v4.8M527.6 116.0h5.6m-2.8-2.4v4.8M528.5 126.3h5.6m-2.8-2.4v4.8M526.7 89.1h5.6m-2.8-2.4v4.8M528.0 102.3h5.6m-2.8-2.4v4.8M530.5 163.9h5.6m-2.8-2.4v4.8M528.9 143.2h5.6m-2.8-2.4v4.8M529.2 154.8h5.6m-2.8-2.4v4.8M530.6 148.8h5.6m-2.8-2.4v4.8M529.4 158.6h5.6m-2.8-2.4v4.8M528.6 133.4h5.6m-2.8-2.4v4.8M529.9 138.7h5.6m-2.8-2.4v4.8M530.4 180.8h5.6m-2.8-2.4v4.8M529.5 130.3h5.6m-2.8-2.4v4.8M528.9 145.5h5.6m-2.8-2.4v4.8M530.7 201.5h5.6m-2.8-2.4v4.8M530.3 195.0h5.6m-2.8-2.4v4.8M530.1 209.8h5.6m-2.8-2.4v4.8M530.9 286.0h5.6m-2.8-2.4v4.8M531.9 237.0h5.6m-2.8-2.4v4.8M530.1 256.4h5.6m-2.8-2.4v4.8M531.8 248.8h5.6m-2.8-2.4v4.8M531.1 254.4h5.6m-2.8-2.4v4.8M529.9 215.0h5.6m-2.8-2.4v4.8M529.2 255.3h5.6m-2.8-2.4v4.8M531.3 217.3h5.6m-2.8-2.4v4.8M531.9 302.3h5.6m-2.8-2.4v4.8M530.3 257.5h5.6m-2.8-2.4v4.8M529.7 230.1h5.6m-2.8-2.4v4.8M530.5 248.7h5.6m-2.8-2.4v4.8M533.8 293.0h5.6m-2.8-2.4v4.8M530.1 194.7h5.6m-2.8-2.4v4.8M531.3 268.7h5.6m-2.8-2.4v4.8M530.9 300.1h5.6m-2.8-2.4v4.8M531.6 269.0h5.6m-2.8-2.4v4.8M531.3 255.6h5.6m-2.8-2.4v4.8M531.3 248.1h5.6m-2.8-2.4v4.8M531.7 274.8h5.6m-2.8-2.4v4.8M532.9 291.4h5.6m-2.8-2.4v4.8M532.0 258.9h5.6m-2.8-2.4v4.8M531.3 308.3h5.6m-2.8-2.4v4.8M529.8 206.3h5.6m-2.8-2.4v4.8M531.5 271.9h5.6m-2.8-2.4v4.8M531.7 285.2h5.6m-2.8-2.4v4.8M531.7 286.5h5.6m-2.8-2.4v4.8M531.9 204.7h5.6m-2.8-2.4v4.8M529.7 212.0h5.6m-2.8-2.4v4.8M529.2 242.2h5.6m-2.8-2.4v4.8M532.2 289.9h5.6m-2.8-2.4v4.8M531.2 234.1h5.6m-2.8-2.4v4.8M530.9 298.8h5.6m-2.8-2.4v4.8M531.6 243.7h5.6m-2.8-2.4v4.8M529.4 187.4h5.6m-2.8-2.4v4.8M530.3 215.6h5.6m-2.8-2.4v4.8M530.8 283.7h5.6m-2.8-2.4v4.8M529.7 193.4h5.6m-2.8-2.4v4.8M530.2 246.6h5.6m-2.8-2.4v4.8M531.2 293.2h5.6m-2.8-2.4v4.8M529.3 216.9h5.6m-2.8-2.4v4.8M531.3 284.3h5.6m-2.8-2.4v4.8M530.2 234.6h5.6m-2.8-2.4v4.8M532.2 283.0h5.6m-2.8-2.4v4.8M530.5 256.6h5.6m-2.8-2.4v4.8M530.1 188.8h5.6m-2.8-2.4v4.8M530.7 258.7h5.6m-2.8-2.4v4.8M530.8 299.7h5.6m-2.8-2.4v4.8M531.5 279.3h5.6m-2.8-2.4v4.8M530.2 225.3h5.6m-2.8-2.4v4.8M531.7 278.5h5.6m-2.8-2.4v4.8M529.0 187.1h5.6m-2.8-2.4v4.8M530.6 198.4h5.6m-2.8-2.4v4.8M530.6 217.3h5.6m-2.8-2.4v4.8M531.6 252.8h5.6m-2.8-2.4v4.8M529.6 186.2h5.6m-2.8-2.4v4.8M530.5 262.3h5.6m-2.8-2.4v4.8M529.5 230.2h5.6m-2.8-2.4v4.8M532.5 283.5h5.6m-2.8-2.4v4.8M531.8 262.9h5.6m-2.8-2.4v4.8M531.8 303.7h5.6m-2.8-2.4v4.8M531.4 282.4h5.6m-2.8-2.4v4.8M531.2 281.6h5.6m-2.8-2.4v4.8M531.2 264.0h5.6m-2.8-2.4v4.8M531.1 244.3h5.6m-2.8-2.4v4.8M532.2 294.6h5.6m-2.8-2.4v4.8M530.7 244.0h5.6m-2.8-2.4v4.8M530.9 267.2h5.6m-2.8-2.4v4.8M531.1 235.8h5.6m-2.8-2.4v4.8M532.5 292.7h5.6m-2.8-2.4v4.8M532.5 301.9h5.6m-2.8-2.4v4.8M530.3 211.5h5.6m-2.8-2.4v4.8M530.7 199.7h5.6m-2.8-2.4v4.8M530.9 278.1h5.6m-2.8-2.4v4.8M532.1 294.0h5.6m-2.8-2.4v4.8M531.6 241.7h5.6m-2.8-2.4v4.8M645.3 288.9h5.6m-2.8-2.4v4.8M574.1 334.4h5.6m-2.8-2.4v4.8M596.9 334.4h5.6m-2.8-2.4v4.8M534.4 311.8h5.6m-2.8-2.4v4.8M548.3 317.6h5.6m-2.8-2.4v4.8M532.9 313.5h5.6m-2.8-2.4v4.8M650.2 308.4h5.6m-2.8-2.4v4.8M561.4 309.5h5.6m-2.8-2.4v4.8M534.4 314.7h5.6m-2.8-2.4v4.8M650.1 313.5h5.6m-2.8-2.4v4.8M587.4 303.5h5.6m-2.8-2.4v4.8M637.7 298.9h5.6m-2.8-2.4v4.8M573.6 344.1h5.6m-2.8-2.4v4.8M619.4 304.1h5.6m-2.8-2.4v4.8M647.0 274.7h5.6m-2.8-2.4v4.8M615.0 319.2h5.6m-2.8-2.4v4.8M555.3 312.8h5.6m-2.8-2.4v4.8M618.1 294.3h5.6m-2.8-2.4v4.8M581.8 329.4h5.6m-2.8-2.4v4.8M654.0 292.2h5.6m-2.8-2.4v4.8M572.2 337.6h5.6m-2.8-2.4v4.8M567.4 312.4h5.6m-2.8-2.4v4.8M633.0 289.4h5.6m-2.8-2.4v4.8M640.4 300.1h5.6m-2.8-2.4v4.8M618.9 320.7h5.6m-2.8-2.4v4.8M588.4 311.2h5.6m-2.8-2.4v4.8M599.7 298.2h5.6m-2.8-2.4v4.8M591.7 312.9h5.6m-2.8-2.4v4.8M632.2 305.0h5.6m-2.8-2.4v4.8M548.7 342.6h5.6m-2.8-2.4v4.8M532.4 316.2h5.6m-2.8-2.4v4.8M605.0 316.5h5.6m-2.8-2.4v4.8M542.3 336.6h5.6m-2.8-2.4v4.8M562.2 340.2h5.6m-2.8-2.4v4.8M577.3 324.0h5.6m-2.8-2.4v4.8M546.2 333.6h5.6m-2.8-2.4v4.8M581.3 335.5h5.6m-2.8-2.4v4.8M624.7 305.6h5.6m-2.8-2.4v4.8M600.5 305.0h5.6m-2.8-2.4v4.8M644.4 288.7h5.6m-2.8-2.4v4.8M651.8 296.1h5.6m-2.8-2.4v4.8M606.5 328.3h5.6m-2.8-2.4v4.8M566.4 313.1h5.6m-2.8-2.4v4.8M651.6 288.6h5.6m-2.8-2.4v4.8M584.7 309.4h5.6m-2.8-2.4v4.8M597.5 328.2h5.6m-2.8-2.4v4.8M649.0 307.7h5.6m-2.8-2.4v4.8M568.9 293.0h5.6m-2.8-2.4v4.8M533.4 308.8h5.6m-2.8-2.4v4.8M597.5 305.9h5.6m-2.8-2.4v4.8M646.3 314.8h5.6m-2.8-2.4v4.8M585.0 355.3h5.6m-2.8-2.4v4.8M549.3 340.5h5.6m-2.8-2.4v4.8M551.9 319.2h5.6m-2.8-2.4v4.8M621.2 299.9h5.6m-2.8-2.4v4.8M581.1 321.7h5.6m-2.8-2.4v4.8M595.5 331.6h5.6m-2.8-2.4v4.8M571.9 310.8h5.6m-2.8-2.4v4.8M540.3 337.8h5.6m-2.8-2.4v4.8M608.2 313.3h5.6m-2.8-2.4v4.8M577.7 339.6h5.6m-2.8-2.4v4.8M562.8 322.6h5.6m-2.8-2.4v4.8M590.5 325.8h5.6m-2.8-2.4v4.8M551.3 331.9h5.6m-2.8-2.4v4.8M572.2 320.9h5.6m-2.8-2.4v4.8M555.6 304.5h5.6m-2.8-2.4v4.8M561.9 342.3h5.6m-2.8-2.4v4.8M598.7 308.6h5.6m-2.8-2.4v4.8M608.6 309.5h5.6m-2.8-2.4v4.8M650.3 310.4h5.6m-2.8-2.4v4.8M604.1 340.8h5.6m-2.8-2.4v4.8M537.5 338.9h5.6m-2.8-2.4v4.8M651.7 275.7h5.6m-2.8-2.4v4.8M614.0 319.0h5.6m-2.8-2.4v4.8M646.0 309.9h5.6m-2.8-2.4v4.8M628.0 306.7h5.6m-2.8-2.4v4.8M570.3 309.0h5.6m-2.8-2.4v4.8M604.3 334.6h5.6m-2.8-2.4v4.8M533.8 341.8h5.6m-2.8-2.4v4.8M583.5 329.3h5.6m-2.8-2.4v4.8M632.6 322.9h5.6m-2.8-2.4v4.8M625.5 297.6h5.6m-2.8-2.4v4.8M569.5 315.8h5.6m-2.8-2.4v4.8M538.6 312.3h5.6m-2.8-2.4v4.8M611.5 328.5h5.6m-2.8-2.4v4.8M630.1 327.1h5.6m-2.8-2.4v4.8M602.8 326.9h5.6m-2.8-2.4v4.8M538.2 313.5h5.6m-2.8-2.4v4.8M576.2 322.3h5.6m-2.8-2.4v4.8M552.8 307.8h5.6m-2.8-2.4v4.8M605.2 333.4h5.6m-2.8-2.4v4.8M588.2 307.3h5.6m-2.8-2.4v4.8M591.8 342.3h5.6m-2.8-2.4v4.8M603.5 300.4h5.6m-2.8-2.4v4.8M550.2 302.3h5.6m-2.8-2.4v4.8M575.3 310.0h5.6m-2.8-2.4v4.8M576.2 323.2h5.6m-2.8-2.4v4.8M642.5 308.4h5.6m-2.8-2.4v4.8M605.3 304.7h5.6m-2.8-2.4v4.8M635.3 318.4h5.6m-2.8-2.4v4.8M577.0 307.1h5.6m-2.8-2.4v4.8M534.9 313.1h5.6m-2.8-2.4v4.8M538.5 313.3h5.6m-2.8-2.4v4.8M536.3 300.4h5.6m-2.8-2.4v4.8M586.4 340.6h5.6m-2.8-2.4v4.8M574.7 307.7h5.6m-2.8-2.4v4.8M590.5 345.5h5.6m-2.8-2.4v4.8M627.0 323.2h5.6m-2.8-2.4v4.8M556.1 313.2h5.6m-2.8-2.4v4.8M644.0 289.2h5.6m-2.8-2.4v4.8M647.1 295.1h5.6m-2.8-2.4v4.8M608.1 304.5h5.6m-2.8-2.4v4.8M612.9 305.8h5.6m-2.8-2.4v4.8M559.3 351.2h5.6m-2.8-2.4v4.8M634.5 303.4h5.6m-2.8-2.4v4.8M634.4 299.2h5.6m-2.8-2.4v4.8M585.7 340.0h5.6m-2.8-2.4v4.8M613.4 306.8h5.6m-2.8-2.4v4.8M549.2 315.8h5.6m-2.8-2.4v4.8M544.7 305.9h5.6m-2.8-2.4v4.8M643.4 311.2h5.6m-2.8-2.4v4.8M649.5 291.9h5.6m-2.8-2.4v4.8M627.1 329.8h5.6m-2.8-2.4v4.8M583.3 318.0h5.6m-2.8-2.4v4.8M622.8 308.6h5.6m-2.8-2.4v4.8M550.5 313.0h5.6m-2.8-2.4v4.8M607.2 333.2h5.6m-2.8-2.4v4.8M643.6 306.4h5.6m-2.8-2.4v4.8M595.5 327.6h5.6m-2.8-2.4v4.8M566.7 335.0h5.6m-2.8-2.4v4.8M581.7 309.5h5.6m-2.8-2.4v4.8M565.0 322.6h5.6m-2.8-2.4v4.8M581.7 327.2h5.6m-2.8-2.4v4.8M603.7 298.7h5.6m-2.8-2.4v4.8M571.0 333.7h5.6m-2.8-2.4v4.8M562.4 305.2h5.6m-2.8-2.4v4.8M614.1 317.7h5.6m-2.8-2.4v4.8M643.5 285.2h5.6m-2.8-2.4v4.8M644.1 317.8h5.6m-2.8-2.4v4.8M595.9 330.9h5.6m-2.8-2.4v4.8M643.1 314.8h5.6m-2.8-2.4v4.8M534.8 337.1h5.6m-2.8-2.4v4.8M533.8 322.9h5.6m-2.8-2.4v4.8M546.9 339.2h5.6m-2.8-2.4v4.8M616.4 332.4h5.6m-2.8-2.4v4.8M566.0 315.5h5.6m-2.8-2.4v4.8M586.1 315.6h5.6m-2.8-2.4v4.8M647.7 311.8h5.6m-2.8-2.4v4.8M633.0 296.2h5.6m-2.8-2.4v4.8M603.4 329.8h5.6m-2.8-2.4v4.8M625.8 289.6h5.6m-2.8-2.4v4.8M614.9 310.4h5.6m-2.8-2.4v4.8M587.1 339.2h5.6m-2.8-2.4v4.8M575.6 324.7h5.6m-2.8-2.4v4.8M584.7 302.8h5.6m-2.8-2.4v4.8M649.7 280.1h5.6m-2.8-2.4v4.8M566.3 310.1h5.6m-2.8-2.4v4.8M558.7 312.2h5.6m-2.8-2.4v4.8M593.6 309.2h5.6m-2.8-2.4v4.8M596.8 342.5h5.6m-2.8-2.4v4.8M541.6 333.9h5.6m-2.8-2.4v4.8M626.5 317.8h5.6m-2.8-2.4v4.8M566.5 299.8h5.6m-2.8-2.4v4.8M646.7 272.5h5.6m-2.8-2.4v4.8M585.6 330.0h5.6m-2.8-2.4v4.8M628.8 324.2h5.6m-2.8-2.4v4.8M568.5 332.5h5.6m-2.8-2.4v4.8M547.4 342.6h5.6m-2.8-2.4v4.8M630.9 291.9h5.6m-2.8-2.4v4.8M630.4 315.3h5.6m-2.8-2.4v4.8M545.4 316.3h5.6m-2.8-2.4v4.8M610.0 304.5h5.6m-2.8-2.4v4.8M635.4 324.9h5.6m-2.8-2.4v4.8M561.9 313.2h5.6m-2.8-2.4v4.8M588.0 331.9h5.6m-2.8-2.4v4.8M532.2 341.5h5.6m-2.8-2.4v4.8M561.0 312.2h5.6m-2.8-2.4v4.8M612.7 325.5h5.6m-2.8-2.4v4.8M577.5 314.2h5.6m-2.8-2.4v4.8M595.3 334.5h5.6m-2.8-2.4v4.8M603.3 349.4h5.6m-2.8-2.4v4.8M615.3 310.9h5.6m-2.8-2.4v4.8M571.1 331.0h5.6m-2.8-2.4v4.8M549.8 308.5h5.6m-2.8-2.4v4.8M622.6 298.7h5.6m-2.8-2.4v4.8M533.1 328.8h5.6m-2.8-2.4v4.8M571.6 334.8h5.6m-2.8-2.4v4.8M654.2 267.7h5.6m-2.8-2.4v4.8M628.7 296.5h5.6m-2.8-2.4v4.8M637.5 327.0h5.6m-2.8-2.4v4.8M593.2 317.5h5.6m-2.8-2.4v4.8M621.1 327.6h5.6m-2.8-2.4v4.8M613.2 330.4h5.6m-2.8-2.4v4.8M652.0 272.5h5.6m-2.8-2.4v4.8M570.4 324.0h5.6m-2.8-2.4v4.8M534.3 340.6h5.6m-2.8-2.4v4.8M630.7 308.5h5.6m-2.8-2.4v4.8M608.6 339.3h5.6m-2.8-2.4v4.8M563.8 311.2h5.6m-2.8-2.4v4.8M615.8 310.1h5.6m-2.8-2.4v4.8M562.3 311.6h5.6m-2.8-2.4v4.8M578.0 320.0h5.6m-2.8-2.4v4.8M557.7 324.6h5.6m-2.8-2.4v4.8M642.2 300.1h5.6m-2.8-2.4v4.8M648.3 280.5h5.6m-2.8-2.4v4.8M609.9 331.6h5.6m-2.8-2.4v4.8M596.9 316.4h5.6m-2.8-2.4v4.8M636.2 320.9h5.6m-2.8-2.4v4.8M587.6 335.5h5.6m-2.8-2.4v4.8M600.4 305.1h5.6m-2.8-2.4v4.8M538.1 326.3h5.6m-2.8-2.4v4.8M564.1 352.5h5.6m-2.8-2.4v4.8M542.6 332.9h5.6m-2.8-2.4v4.8M539.6 301.9h5.6m-2.8-2.4v4.8M584.5 337.1h5.6m-2.8-2.4v4.8M562.8 334.3h5.6m-2.8-2.4v4.8M569.2 309.5h5.6m-2.8-2.4v4.8M580.7 319.4h5.6m-2.8-2.4v4.8M558.3 325.5h5.6m-2.8-2.4v4.8M545.7 313.1h5.6m-2.8-2.4v4.8M542.7 319.8h5.6m-2.8-2.4v4.8M651.6 310.5h5.6m-2.8-2.4v4.8M552.9 332.0h5.6m-2.8-2.4v4.8M642.6 325.7h5.6m-2.8-2.4v4.8M567.1 337.6h5.6m-2.8-2.4v4.8M617.2 315.7h5.6m-2.8-2.4v4.8M613.0 306.7h5.6m-2.8-2.4v4.8M603.2 329.0h5.6m-2.8-2.4v4.8M558.2 316.2h5.6m-2.8-2.4v4.8M618.5 334.4h5.6m-2.8-2.4v4.8M634.5 311.8h5.6m-2.8-2.4v4.8M535.6 317.6h5.6m-2.8-2.4v4.8M593.8 324.5h5.6m-2.8-2.4v4.8M561.4 339.0h5.6m-2.8-2.4v4.8M618.1 328.8h5.6m-2.8-2.4v4.8M600.5 337.3h5.6m-2.8-2.4v4.8M539.0 321.3h5.6m-2.8-2.4v4.8M606.2 314.7h5.6m-2.8-2.4v4.8M632.6 303.4h5.6m-2.8-2.4v4.8M647.0 285.5h5.6m-2.8-2.4v4.8M586.6 326.0h5.6m-2.8-2.4v4.8M542.9 322.8h5.6m-2.8-2.4v4.8M604.8 340.3h5.6m-2.8-2.4v4.8M572.2 316.9h5.6m-2.8-2.4v4.8M612.5 333.7h5.6m-2.8-2.4v4.8M631.4 310.0h5.6m-2.8-2.4v4.8M652.7 271.8h5.6m-2.8-2.4v4.8M652.6 305.5h5.6m-2.8-2.4v4.8M629.0 321.4h5.6m-2.8-2.4v4.8M646.3 281.1h5.6m-2.8-2.4v4.8M567.0 333.4h5.6m-2.8-2.4v4.8M600.7 314.1h5.6m-2.8-2.4v4.8M635.3 289.3h5.6m-2.8-2.4v4.8M596.3 315.9h5.6m-2.8-2.4v4.8M631.9 327.9h5.6m-2.8-2.4v4.8M633.8 318.2h5.6m-2.8-2.4v4.8M640.4 288.9h5.6m-2.8-2.4v4.8M557.5 321.7h5.6m-2.8-2.4v4.8M568.4 313.4h5.6m-2.8-2.4v4.8M598.5 340.2h5.6m-2.8-2.4v4.8M652.8 277.5h5.6m-2.8-2.4v4.8M577.5 318.1h5.6m-2.8-2.4v4.8M566.1 320.4h5.6m-2.8-2.4v4.8M642.3 298.1h5.6m-2.8-2.4v4.8M634.8 303.9h5.6m-2.8-2.4v4.8M651.6 302.1h5.6m-2.8-2.4v4.8M639.4 302.9h5.6m-2.8-2.4v4.8M533.3 348.2h5.6m-2.8-2.4v4.8M640.6 282.3h5.6m-2.8-2.4v4.8M563.5 310.9h5.6m-2.8-2.4v4.8M608.9 306.1h5.6m-2.8-2.4v4.8M600.0 332.9h5.6m-2.8-2.4v4.8M574.2 322.7h5.6m-2.8-2.4v4.8M611.1 321.4h5.6m-2.8-2.4v4.8M545.6 315.3h5.6m-2.8-2.4v4.8M629.9 297.1h5.6m-2.8-2.4v4.8M554.5 315.9h5.6m-2.8-2.4v4.8M534.3 309.0h5.6m-2.8-2.4v4.8M604.4 319.3h5.6m-2.8-2.4v4.8M631.5 297.4h5.6m-2.8-2.4v4.8M585.3 324.5h5.6m-2.8-2.4v4.8M571.3 331.9h5.6m-2.8-2.4v4.8M568.7 337.8h5.6m-2.8-2.4v4.8M570.0 305.6h5.6m-2.8-2.4v4.8M620.2 329.4h5.6m-2.8-2.4v4.8M613.4 338.8h5.6m-2.8-2.4v4.8M575.8 321.7h5.6m-2.8-2.4v4.8M553.2 328.8h5.6m-2.8-2.4v4.8M615.3 333.4h5.6m-2.8-2.4v4.8M552.3 336.6h5.6m-2.8-2.4v4.8M580.4 322.9h5.6m-2.8-2.4v4.8M646.2 299.4h5.6m-2.8-2.4v4.8M596.6 316.2h5.6m-2.8-2.4v4.8M578.1 332.3h5.6m-2.8-2.4v4.8M544.0 314.9h5.6m-2.8-2.4v4.8M606.4 314.0h5.6m-2.8-2.4v4.8M558.8 347.2h5.6m-2.8-2.4v4.8M555.7 339.0h5.6m-2.8-2.4v4.8M611.4 303.6h5.6m-2.8-2.4v4.8M533.0 333.8h5.6m-2.8-2.4v4.8M618.5 313.4h5.6m-2.8-2.4v4.8M650.3 299.9h5.6m-2.8-2.4v4.8M551.6 310.5h5.6m-2.8-2.4v4.8M589.2 332.7h5.6m-2.8-2.4v4.8M581.7 314.5h5.6m-2.8-2.4v4.8M653.7 292.5h5.6m-2.8-2.4v4.8M630.7 325.5h5.6m-2.8-2.4v4.8M652.1 290.2h5.6m-2.8-2.4v4.8M633.7 301.0h5.6m-2.8-2.4v4.8M576.4 308.6h5.6m-2.8-2.4v4.8M560.7 339.9h5.6m-2.8-2.4v4.8M584.1 334.8h5.6m-2.8-2.4v4.8M640.7 302.4h5.6m-2.8-2.4v4.8M601.0 337.1h5.6m-2.8-2.4v4.8M533.7 314.1h5.6m-2.8-2.4v4.8M641.4 293.1h5.6m-2.8-2.4v4.8M640.5 301.5h5.6m-2.8-2.4v4.8M537.9 322.7h5.6m-2.8-2.4v4.8M649.9 300.3h5.6m-2.8-2.4v4.8M589.7 300.1h5.6m-2.8-2.4v4.8M538.6 317.3h5.6m-2.8-2.4v4.8M592.7 305.7h5.6m-2.8-2.4v4.8M609.7 320.1h5.6m-2.8-2.4v4.8M550.4 318.2h5.6m-2.8-2.4v4.8M614.9 317.0h5.6m-2.8-2.4v4.8M599.4 336.2h5.6m-2.8-2.4v4.8M633.2 302.5h5.6m-2.8-2.4v4.8M563.0 346.0h5.6m-2.8-2.4v4.8M559.6 341.3h5.6m-2.8-2.4v4.8M603.6 337.2h5.6m-2.8-2.4v4.8M541.7 317.8h5.6m-2.8-2.4v4.8M623.7 326.2h5.6m-2.8-2.4v4.8M582.3 327.6h5.6m-2.8-2.4v4.8M628.2 307.0h5.6m-2.8-2.4v4.8M572.1 322.8h5.6m-2.8-2.4v4.8M635.7 312.6h5.6m-2.8-2.4v4.8M576.1 319.2h5.6m-2.8-2.4v4.8M609.0 322.6h5.6m-2.8-2.4v4.8M648.0 292.9h5.6m-2.8-2.4v4.8M558.2 320.1h5.6m-2.8-2.4v4.8M632.6 318.1h5.6m-2.8-2.4v4.8M540.6 322.5h5.6m-2.8-2.4v4.8M564.6 313.1h5.6m-2.8-2.4v4.8M596.6 301.9h5.6m-2.8-2.4v4.8M609.9 327.7h5.6m-2.8-2.4v4.8M591.8 329.9h5.6m-2.8-2.4v4.8M619.9 318.8h5.6m-2.8-2.4v4.8M648.9 304.3h5.6m-2.8-2.4v4.8M542.5 322.4h5.6m-2.8-2.4v4.8M634.5 309.1h5.6m-2.8-2.4v4.8M599.0 332.0h5.6m-2.8-2.4v4.8M652.2 324.3h5.6m-2.8-2.4v4.8M594.6 303.0h5.6m-2.8-2.4v4.8M534.7 317.8h5.6m-2.8-2.4v4.8M600.1 329.1h5.6m-2.8-2.4v4.8M607.1 328.1h5.6m-2.8-2.4v4.8M591.1 304.9h5.6m-2.8-2.4v4.8M567.5 324.0h5.6m-2.8-2.4v4.8M639.5 305.3h5.6m-2.8-2.4v4.8M614.7 329.7h5.6m-2.8-2.4v4.8M624.0 297.3h5.6m-2.8-2.4v4.8M648.9 308.1h5.6m-2.8-2.4v4.8M648.8 274.2h5.6m-2.8-2.4v4.8M607.7 329.6h5.6m-2.8-2.4v4.8M582.1 303.7h5.6m-2.8-2.4v4.8M625.8 320.0h5.6m-2.8-2.4v4.8M572.3 352.7h5.6m-2.8-2.4v4.8M579.6 318.4h5.6m-2.8-2.4v4.8M632.0 310.5h5.6m-2.8-2.4v4.8M588.3 313.5h5.6m-2.8-2.4v4.8M651.5 296.4h5.6m-2.8-2.4v4.8M561.9 324.5h5.6m-2.8-2.4v4.8M576.6 318.4h5.6m-2.8-2.4v4.8M603.4 315.8h5.6m-2.8-2.4v4.8M583.2 324.3h5.6m-2.8-2.4v4.8M569.7 320.4h5.6m-2.8-2.4v4.8M576.7 327.7h5.6m-2.8-2.4v4.8M624.2 316.3h5.6m-2.8-2.4v4.8M573.5 328.1h5.6m-2.8-2.4v4.8M587.4 315.0h5.6m-2.8-2.4v4.8M606.1 318.9h5.6m-2.8-2.4v4.8M645.9 286.7h5.6m-2.8-2.4v4.8M621.5 308.4h5.6m-2.8-2.4v4.8M633.7 297.2h5.6m-2.8-2.4v4.8M550.9 331.6h5.6m-2.8-2.4v4.8M636.2 303.4h5.6m-2.8-2.4v4.8M594.4 324.3h5.6m-2.8-2.4v4.8M642.6 297.0h5.6m-2.8-2.4v4.8M587.8 324.2h5.6m-2.8-2.4v4.8M587.4 339.3h5.6m-2.8-2.4v4.8M608.9 309.6h5.6m-2.8-2.4v4.8M544.1 307.3h5.6m-2.8-2.4v4.8M616.8 325.9h5.6m-2.8-2.4v4.8M588.3 331.0h5.6m-2.8-2.4v4.8M588.2 337.0h5.6m-2.8-2.4v4.8M560.6 315.3h5.6m-2.8-2.4v4.8M592.1 339.1h5.6m-2.8-2.4v4.8M653.9 312.4h5.6m-2.8-2.4v4.8M574.1 326.6h5.6m-2.8-2.4v4.8M643.7 293.3h5.6m-2.8-2.4v4.8M560.1 304.8h5.6m-2.8-2.4v4.8M637.7 318.4h5.6m-2.8-2.4v4.8M540.5 335.1h5.6m-2.8-2.4v4.8M546.8 330.3h5.6m-2.8-2.4v4.8M557.5 329.0h5.6m-2.8-2.4v4.8M533.6 325.0h5.6m-2.8-2.4v4.8M620.2 303.6h5.6m-2.8-2.4v4.8M637.4 311.7h5.6m-2.8-2.4v4.8M638.4 313.6h5.6m-2.8-2.4v4.8M556.2 342.7h5.6m-2.8-2.4v4.8M539.4 327.9h5.6m-2.8-2.4v4.8M577.3 326.2h5.6m-2.8-2.4v4.8M597.5 322.3h5.6m-2.8-2.4v4.8M560.2 330.3h5.6m-2.8-2.4v4.8M532.8 332.1h5.6m-2.8-2.4v4.8M559.4 334.0h5.6m-2.8-2.4v4.8M596.8 320.1h5.6m-2.8-2.4v4.8M568.1 308.5h5.6m-2.8-2.4v4.8M595.6 307.2h5.6m-2.8-2.4v4.8M555.7 316.0h5.6m-2.8-2.4v4.8M568.3 343.2h5.6m-2.8-2.4v4.8M636.8 291.0h5.6m-2.8-2.4v4.8M553.3 312.1h5.6m-2.8-2.4v4.8M573.8 320.8h5.6m-2.8-2.4v4.8M535.3 319.7h5.6m-2.8-2.4v4.8M572.3 327.2h5.6m-2.8-2.4v4.8M616.5 309.6h5.6m-2.8-2.4v4.8M541.2 318.4h5.6m-2.8-2.4v4.8M566.6 318.9h5.6m-2.8-2.4v4.8M637.9 322.4h5.6m-2.8-2.4v4.8M631.5 300.2h5.6m-2.8-2.4v4.8M626.7 316.8h5.6m-2.8-2.4v4.8M574.1 351.0h5.6m-2.8-2.4v4.8M535.0 321.5h5.6m-2.8-2.4v4.8M589.8 315.7h5.6m-2.8-2.4v4.8M602.6 310.5h5.6m-2.8-2.4v4.8M596.5 309.6h5.6m-2.8-2.4v4.8M617.9 312.0h5.6m-2.8-2.4v4.8M629.7 320.5h5.6m-2.8-2.4v4.8M577.2 337.9h5.6m-2.8-2.4v4.8M553.3 332.8h5.6m-2.8-2.4v4.8M617.9 321.5h5.6m-2.8-2.4v4.8M628.9 313.4h5.6m-2.8-2.4v4.8M564.7 334.4h5.6m-2.8-2.4v4.8M640.0 302.9h5.6m-2.8-2.4v4.8M648.8 285.1h5.6m-2.8-2.4v4.8M602.6 316.6h5.6m-2.8-2.4v4.8M638.9 308.3h5.6m-2.8-2.4v4.8M634.5 305.7h5.6m-2.8-2.4v4.8M647.6 280.7h5.6m-2.8-2.4v4.8M629.0 310.1h5.6m-2.8-2.4v4.8M543.3 331.5h5.6m-2.8-2.4v4.8M612.8 330.2h5.6m-2.8-2.4v4.8M562.1 337.9h5.6m-2.8-2.4v4.8M546.6 328.0h5.6m-2.8-2.4v4.8M570.7 329.5h5.6m-2.8-2.4v4.8M555.3 346.8h5.6m-2.8-2.4v4.8M609.9 337.7h5.6m-2.8-2.4v4.8M642.4 315.3h5.6m-2.8-2.4v4.8M609.3 313.4h5.6m-2.8-2.4v4.8M553.8 322.2h5.6m-2.8-2.4v4.8M625.2 307.9h5.6m-2.8-2.4v4.8M572.4 320.4h5.6m-2.8-2.4v4.8M545.6 334.0h5.6m-2.8-2.4v4.8M578.8 338.4h5.6m-2.8-2.4v4.8M588.9 336.2h5.6m-2.8-2.4v4.8M622.8 323.5h5.6m-2.8-2.4v4.8M570.8 309.3h5.6m-2.8-2.4v4.8M617.4 315.7h5.6m-2.8-2.4v4.8M634.6 309.4h5.6m-2.8-2.4v4.8M650.2 283.2h5.6m-2.8-2.4v4.8M644.0 304.8h5.6m-2.8-2.4v4.8M574.4 314.8h5.6m-2.8-2.4v4.8M588.1 329.1h5.6m-2.8-2.4v4.8M555.2 330.9h5.6m-2.8-2.4v4.8M575.7 317.9h5.6m-2.8-2.4v4.8M629.7 319.7h5.6m-2.8-2.4v4.8M648.8 273.4h5.6m-2.8-2.4v4.8M621.7 322.4h5.6m-2.8-2.4v4.8M615.9 326.8h5.6m-2.8-2.4v4.8M559.5 322.5h5.6m-2.8-2.4v4.8M647.9 291.3h5.6m-2.8-2.4v4.8M556.6 334.4h5.6m-2.8-2.4v4.8M627.3 304.4h5.6m-2.8-2.4v4.8M553.7 322.8h5.6m-2.8-2.4v4.8M537.1 324.4h5.6m-2.8-2.4v4.8M590.9 317.2h5.6m-2.8-2.4v4.8M583.5 333.9h5.6m-2.8-2.4v4.8M627.2 305.4h5.6m-2.8-2.4v4.8M597.2 312.2h5.6m-2.8-2.4v4.8M648.0 305.6h5.6m-2.8-2.4v4.8M533.7 319.1h5.6m-2.8-2.4v4.8M592.4 293.1h5.6m-2.8-2.4v4.8M614.9 347.0h5.6m-2.8-2.4v4.8M614.9 311.1h5.6m-2.8-2.4v4.8M615.8 303.5h5.6m-2.8-2.4v4.8M543.5 327.7h5.6m-2.8-2.4v4.8M604.1 310.4h5.6m-2.8-2.4v4.8M580.5 308.0h5.6m-2.8-2.4v4.8M542.9 305.1h5.6m-2.8-2.4v4.8M643.0 312.9h5.6m-2.8-2.4v4.8M644.7 284.6h5.6m-2.8-2.4v4.8M643.1 302.1h5.6m-2.8-2.4v4.8M589.8 312.8h5.6m-2.8-2.4v4.8M541.3 327.8h5.6m-2.8-2.4v4.8M559.0 321.8h5.6m-2.8-2.4v4.8M612.6 324.7h5.6m-2.8-2.4v4.8M593.5 313.4h5.6m-2.8-2.4v4.8M624.3 310.7h5.6m-2.8-2.4v4.8M654.0 301.1h5.6m-2.8-2.4v4.8M639.6 308.5h5.6m-2.8-2.4v4.8M630.6 301.2h5.6m-2.8-2.4v4.8M620.9 301.7h5.6m-2.8-2.4v4.8M566.0 318.7h5.6m-2.8-2.4v4.8M532.3 328.3h5.6m-2.8-2.4v4.8M620.1 312.1h5.6m-2.8-2.4v4.8M538.3 342.2h5.6m-2.8-2.4v4.8M643.0 316.1h5.6m-2.8-2.4v4.8M538.2 343.6h5.6m-2.8-2.4v4.8M565.5 300.0h5.6m-2.8-2.4v4.8M581.5 315.4h5.6m-2.8-2.4v4.8M555.8 325.0h5.6m-2.8-2.4v4.8M652.7 268.7h5.6m-2.8-2.4v4.8M598.9 327.7h5.6m-2.8-2.4v4.8M581.2 346.6h5.6m-2.8-2.4v4.8M570.6 326.7h5.6m-2.8-2.4v4.8M625.7 325.7h5.6m-2.8-2.4v4.8M578.7 331.1h5.6m-2.8-2.4v4.8M629.8 317.6h5.6m-2.8-2.4v4.8M601.1 309.8h5.6m-2.8-2.4v4.8M544.0 314.3h5.6m-2.8-2.4v4.8M545.6 324.6h5.6m-2.8-2.4v4.8M565.5 317.5h5.6m-2.8-2.4v4.8M572.6 313.6h5.6m-2.8-2.4v4.8M595.6 330.0h5.6m-2.8-2.4v4.8M554.3 338.1h5.6m-2.8-2.4v4.8M567.4 325.1h5.6m-2.8-2.4v4.8M578.0 329.8h5.6m-2.8-2.4v4.8M538.6 332.6h5.6m-2.8-2.4v4.8M549.0 327.2h5.6m-2.8-2.4v4.8M589.2 328.6h5.6m-2.8-2.4v4.8M639.1 296.5h5.6m-2.8-2.4v4.8M635.1 323.1h5.6m-2.8-2.4v4.8M556.3 334.3h5.6m-2.8-2.4v4.8M603.8 307.1h5.6m-2.8-2.4v4.8M602.7 316.0h5.6m-2.8-2.4v4.8M565.4 327.0h5.6m-2.8-2.4v4.8M618.0 311.4h5.6m-2.8-2.4v4.8M640.6 297.7h5.6m-2.8-2.4v4.8M533.4 329.4h5.6m-2.8-2.4v4.8M572.4 319.1h5.6m-2.8-2.4v4.8M591.0 332.3h5.6m-2.8-2.4v4.8M600.1 318.4h5.6m-2.8-2.4v4.8M614.8 316.7h5.6m-2.8-2.4v4.8M537.2 311.7h5.6m-2.8-2.4v4.8M613.8 300.3h5.6m-2.8-2.4v4.8M613.9 301.9h5.6m-2.8-2.4v4.8M537.1 343.7h5.6m-2.8-2.4v4.8M604.6 314.1h5.6m-2.8-2.4v4.8M582.5 339.0h5.6m-2.8-2.4v4.8M568.9 338.5h5.6m-2.8-2.4v4.8M633.3 298.3h5.6m-2.8-2.4v4.8M575.2 311.5h5.6m-2.8-2.4v4.8M556.7 315.8h5.6m-2.8-2.4v4.8M589.2 320.8h5.6m-2.8-2.4v4.8M613.1 314.7h5.6m-2.8-2.4v4.8M563.8 326.8h5.6m-2.8-2.4v4.8M629.4 301.7h5.6m-2.8-2.4v4.8M543.0 330.8h5.6m-2.8-2.4v4.8M552.3 340.8h5.6m-2.8-2.4v4.8M579.9 317.6h5.6m-2.8-2.4v4.8M585.8 312.2h5.6m-2.8-2.4v4.8M568.3 323.3h5.6m-2.8-2.4v4.8M532.8 327.7h5.6m-2.8-2.4v4.8M607.9 340.8h5.6m-2.8-2.4v4.8M562.0 321.5h5.6m-2.8-2.4v4.8M581.5 322.9h5.6m-2.8-2.4v4.8M558.9 318.8h5.6m-2.8-2.4v4.8M563.7 333.2h5.6m-2.8-2.4v4.8M648.5 303.1h5.6m-2.8-2.4v4.8M639.8 296.3h5.6m-2.8-2.4v4.8M636.1 307.2h5.6m-2.8-2.4v4.8M577.8 335.1h5.6m-2.8-2.4v4.8M533.5 328.1h5.6m-2.8-2.4v4.8M580.0 298.5h5.6m-2.8-2.4v4.8M552.5 316.0h5.6m-2.8-2.4v4.8M554.5 328.6h5.6m-2.8-2.4v4.8M574.4 332.0h5.6m-2.8-2.4v4.8M568.2 331.7h5.6m-2.8-2.4v4.8M602.4 308.4h5.6m-2.8-2.4v4.8M644.3 311.8h5.6m-2.8-2.4v4.8M597.3 331.0h5.6m-2.8-2.4v4.8M595.5 318.9h5.6m-2.8-2.4v4.8M649.1 296.9h5.6m-2.8-2.4v4.8M564.1 330.1h5.6m-2.8-2.4v4.8M562.1 310.9h5.6m-2.8-2.4v4.8M635.6 299.1h5.6m-2.8-2.4v4.8M645.6 311.6h5.6m-2.8-2.4v4.8M599.4 329.1h5.6m-2.8-2.4v4.8M564.3 307.4h5.6m-2.8-2.4v4.8M570.9 313.5h5.6m-2.8-2.4v4.8M650.2 297.7h5.6m-2.8-2.4v4.8M619.8 332.1h5.6m-2.8-2.4v4.8M605.8 321.3h5.6m-2.8-2.4v4.8M545.7 328.8h5.6m-2.8-2.4v4.8M594.1 309.1h5.6m-2.8-2.4v4.8M577.6 331.5h5.6m-2.8-2.4v4.8M622.6 325.2h5.6m-2.8-2.4v4.8M619.2 326.4h5.6m-2.8-2.4v4.8M535.9 328.5h5.6m-2.8-2.4v4.8M563.7 322.8h5.6m-2.8-2.4v4.8M583.8 321.9h5.6m-2.8-2.4v4.8M590.9 294.5h5.6m-2.8-2.4v4.8M596.8 320.8h5.6m-2.8-2.4v4.8M636.4 295.0h5.6m-2.8-2.4v4.8M589.7 319.9h5.6m-2.8-2.4v4.8M598.9 325.3h5.6m-2.8-2.4v4.8M621.7 314.2h5.6m-2.8-2.4v4.8M593.4 328.0h5.6m-2.8-2.4v4.8M618.0 324.0h5.6m-2.8-2.4v4.8M602.4 331.2h5.6m-2.8-2.4v4.8M532.9 321.0h5.6m-2.8-2.4v4.8M612.1 307.0h5.6m-2.8-2.4v4.8M613.1 322.5h5.6m-2.8-2.4v4.8M555.5 318.3h5.6m-2.8-2.4v4.8M548.5 333.1h5.6m-2.8-2.4v4.8M556.7 314.8h5.6m-2.8-2.4v4.8M652.2 293.4h5.6m-2.8-2.4v4.8M611.8 303.9h5.6m-2.8-2.4v4.8M540.1 317.2h5.6m-2.8-2.4v4.8M631.4 286.6h5.6m-2.8-2.4v4.8M559.1 340.2h5.6m-2.8-2.4v4.8M560.6 337.5h5.6m-2.8-2.4v4.8M596.3 323.8h5.6m-2.8-2.4v4.8M582.1 322.4h5.6m-2.8-2.4v4.8M614.7 321.9h5.6m-2.8-2.4v4.8M610.3 300.7h5.6m-2.8-2.4v4.8M643.4 302.7h5.6m-2.8-2.4v4.8M571.8 334.9h5.6m-2.8-2.4v4.8M623.2 312.3h5.6m-2.8-2.4v4.8M564.7 328.1h5.6m-2.8-2.4v4.8M569.0 322.9h5.6m-2.8-2.4v4.8M637.4 304.3h5.6m-2.8-2.4v4.8M623.3 319.5h5.6m-2.8-2.4v4.8M547.1 323.9h5.6m-2.8-2.4v4.8M646.6 292.2h5.6m-2.8-2.4v4.8M638.2 297.7h5.6m-2.8-2.4v4.8M598.9 300.2h5.6m-2.8-2.4v4.8M594.2 314.7h5.6m-2.8-2.4v4.8M649.8 301.3h5.6m-2.8-2.4v4.8M627.2 309.3h5.6m-2.8-2.4v4.8M618.6 303.0h5.6m-2.8-2.4v4.8M614.3 321.6h5.6m-2.8-2.4v4.8M572.4 323.8h5.6m-2.8-2.4v4.8M645.8 284.7h5.6m-2.8-2.4v4.8M583.9 328.8h5.6m-2.8-2.4v4.8M567.5 332.3h5.6m-2.8-2.4v4.8M610.2 319.3h5.6m-2.8-2.4v4.8M642.8 306.5h5.6m-2.8-2.4v4.8M627.2 313.6h5.6m-2.8-2.4v4.8M639.4 315.6h5.6m-2.8-2.4v4.8M592.7 328.0h5.6m-2.8-2.4v4.8M595.6 320.5h5.6m-2.8-2.4v4.8M590.1 309.7h5.6m-2.8-2.4v4.8M605.4 308.6h5.6m-2.8-2.4v4.8M544.1 325.5h5.6m-2.8-2.4v4.8M561.4 316.5h5.6m-2.8-2.4v4.8M563.6 325.5h5.6m-2.8-2.4v4.8M557.2 330.0h5.6m-2.8-2.4v4.8M563.4 332.3h5.6m-2.8-2.4v4.8M616.6 313.1h5.6m-2.8-2.4v4.8M594.6 302.8h5.6m-2.8-2.4v4.8M556.3 319.8h5.6m-2.8-2.4v4.8M542.0 329.1h5.6m-2.8-2.4v4.8M648.8 295.5h5.6m-2.8-2.4v4.8M572.2 328.5h5.6m-2.8-2.4v4.8M547.1 313.2h5.6m-2.8-2.4v4.8M647.6 292.7h5.6m-2.8-2.4v4.8M586.1 324.5h5.6m-2.8-2.4v4.8M550.2 320.0h5.6m-2.8-2.4v4.8M598.0 331.7h5.6m-2.8-2.4v4.8M609.2 318.4h5.6m-2.8-2.4v4.8M626.9 324.0h5.6m-2.8-2.4v4.8M641.6 303.8h5.6m-2.8-2.4v4.8M650.5 288.3h5.6m-2.8-2.4v4.8M640.6 293.2h5.6m-2.8-2.4v4.8M564.1 318.8h5.6m-2.8-2.4v4.8M562.9 315.1h5.6m-2.8-2.4v4.8M650.0 277.5h5.6m-2.8-2.4v4.8M597.0 321.5h5.6m-2.8-2.4v4.8M645.8 267.0h5.6m-2.8-2.4v4.8M604.1 320.8h5.6m-2.8-2.4v4.8M585.1 318.0h5.6m-2.8-2.4v4.8M544.4 339.3h5.6m-2.8-2.4v4.8M622.6 298.7h5.6m-2.8-2.4v4.8M619.4 321.7h5.6m-2.8-2.4v4.8M607.7 307.7h5.6m-2.8-2.4v4.8M614.3 321.9h5.6m-2.8-2.4v4.8M613.0 319.3h5.6m-2.8-2.4v4.8M563.2 358.8h5.6m-2.8-2.4v4.8M558.2 331.9h5.6m-2.8-2.4v4.8M646.5 273.9h5.6m-2.8-2.4v4.8M643.3 294.7h5.6m-2.8-2.4v4.8M586.9 320.4h5.6m-2.8-2.4v4.8M621.4 324.4h5.6m-2.8-2.4v4.8M571.2 317.2h5.6m-2.8-2.4v4.8M589.2 330.2h5.6m-2.8-2.4v4.8M599.7 318.7h5.6m-2.8-2.4v4.8M591.6 308.0h5.6m-2.8-2.4v4.8M573.5 357.5h5.6m-2.8-2.4v4.8M584.6 312.0h5.6m-2.8-2.4v4.8M575.5 319.4h5.6m-2.8-2.4v4.8M535.4 336.4h5.6m-2.8-2.4v4.8M575.4 314.3h5.6m-2.8-2.4v4.8M569.2 328.8h5.6m-2.8-2.4v4.8M574.7 340.9h5.6m-2.8-2.4v4.8M562.9 326.8h5.6m-2.8-2.4v4.8M630.1 312.7h5.6m-2.8-2.4v4.8M635.9 296.5h5.6m-2.8-2.4v4.8M564.6 348.9h5.6m-2.8-2.4v4.8M635.0 322.0h5.6m-2.8-2.4v4.8M536.8 326.9h5.6m-2.8-2.4v4.8M607.5 325.1h5.6m-2.8-2.4v4.8M537.1 317.2h5.6m-2.8-2.4v4.8M623.1 312.0h5.6m-2.8-2.4v4.8M605.4 325.5h5.6m-2.8-2.4v4.8M610.5 314.1h5.6m-2.8-2.4v4.8M576.4 309.3h5.6m-2.8-2.4v4.8M617.9 311.1h5.6m-2.8-2.4v4.8M573.3 320.3h5.6m-2.8-2.4v4.8M550.7 331.3h5.6m-2.8-2.4v4.8M559.5 327.7h5.6m-2.8-2.4v4.8M538.9 331.2h5.6m-2.8-2.4v4.8M647.3 292.3h5.6m-2.8-2.4v4.8M544.8 314.7h5.6m-2.8-2.4v4.8M566.5 336.7h5.6m-2.8-2.4v4.8M582.8 336.2h5.6m-2.8-2.4v4.8M558.7 310.1h5.6m-2.8-2.4v4.8M635.7 304.9h5.6m-2.8-2.4v4.8M562.1 322.3h5.6m-2.8-2.4v4.8M567.9 330.0h5.6m-2.8-2.4v4.8M544.8 318.9h5.6m-2.8-2.4v4.8M623.8 302.7h5.6m-2.8-2.4v4.8M562.4 327.0h5.6m-2.8-2.4v4.8M568.0 323.9h5.6m-2.8-2.4v4.8M630.3 310.1h5.6m-2.8-2.4v4.8M547.5 314.3h5.6m-2.8-2.4v4.8M612.3 317.1h5.6m-2.8-2.4v4.8M534.0 323.1h5.6m-2.8-2.4v4.8M638.8 307.0h5.6m-2.8-2.4v4.8M610.2 326.5h5.6m-2.8-2.4v4.8M537.3 326.8h5.6m-2.8-2.4v4.8M568.5 313.1h5.6m-2.8-2.4v4.8M642.5 303.5h5.6m-2.8-2.4v4.8M592.6 334.2h5.6m-2.8-2.4v4.8M576.9 333.8h5.6m-2.8-2.4v4.8M645.5 305.9h5.6m-2.8-2.4v4.8M556.6 314.5h5.6m-2.8-2.4v4.8M550.4 325.7h5.6m-2.8-2.4v4.8M590.6 315.3h5.6m-2.8-2.4v4.8M626.6 303.1h5.6m-2.8-2.4v4.8M553.8 325.0h5.6m-2.8-2.4v4.8M599.9 328.6h5.6m-2.8-2.4v4.8M628.8 310.4h5.6m-2.8-2.4v4.8M561.6 347.6h5.6m-2.8-2.4v4.8M576.3 316.8h5.6m-2.8-2.4v4.8M577.8 330.6h5.6m-2.8-2.4v4.8M546.3 351.6h5.6m-2.8-2.4v4.8M561.9 324.8h5.6m-2.8-2.4v4.8M611.2 321.0h5.6m-2.8-2.4v4.8M650.1 277.4h5.6m-2.8-2.4v4.8M575.9 335.2h5.6m-2.8-2.4v4.8M555.5 337.8h5.6m-2.8-2.4v4.8M581.1 329.1h5.6m-2.8-2.4v4.8M585.4 328.0h5.6m-2.8-2.4v4.8M646.0 297.4h5.6m-2.8-2.4v4.8M621.7 318.0h5.6m-2.8-2.4v4.8M623.9 314.4h5.6m-2.8-2.4v4.8M592.8 324.4h5.6m-2.8-2.4v4.8M617.3 308.7h5.6m-2.8-2.4v4.8M540.3 328.9h5.6m-2.8-2.4v4.8M582.0 333.8h5.6m-2.8-2.4v4.8M621.1 318.1h5.6m-2.8-2.4v4.8M549.1 336.4h5.6m-2.8-2.4v4.8M630.7 293.8h5.6m-2.8-2.4v4.8M638.4 295.6h5.6m-2.8-2.4v4.8M533.5 332.1h5.6m-2.8-2.4v4.8M539.7 316.9h5.6m-2.8-2.4v4.8M610.4 321.1h5.6m-2.8-2.4v4.8M545.2 325.6h5.6m-2.8-2.4v4.8M601.9 310.3h5.6m-2.8-2.4v4.8M653.4 280.6h5.6m-2.8-2.4v4.8M625.0 299.0h5.6m-2.8-2.4v4.8M631.5 316.3h5.6m-2.8-2.4v4.8M647.8 297.8h5.6m-2.8-2.4v4.8M587.2 319.0h5.6m-2.8-2.4v4.8M599.6 329.4h5.6m-2.8-2.4v4.8M641.2 308.9h5.6m-2.8-2.4v4.8M599.2 316.7h5.6m-2.8-2.4v4.8M584.8 325.7h5.6m-2.8-2.4v4.8M535.3 349.5h5.6m-2.8-2.4v4.8M552.7 314.0h5.6m-2.8-2.4v4.8M596.6 311.2h5.6m-2.8-2.4v4.8M533.2 332.5h5.6m-2.8-2.4v4.8M625.3 326.2h5.6m-2.8-2.4v4.8M622.7 330.4h5.6m-2.8-2.4v4.8M555.2 328.9h5.6m-2.8-2.4v4.8M602.2 324.1h5.6m-2.8-2.4v4.8M572.1 313.8h5.6m-2.8-2.4v4.8M587.3 318.8h5.6m-2.8-2.4v4.8M551.2 329.2h5.6m-2.8-2.4v4.8M569.0 337.7h5.6m-2.8-2.4v4.8M591.1 327.9h5.6m-2.8-2.4v4.8M650.0 313.5h5.6m-2.8-2.4v4.8M566.7 330.9h5.6m-2.8-2.4v4.8M582.2 328.4h5.6m-2.8-2.4v4.8M586.6 318.5h5.6m-2.8-2.4v4.8M600.6 309.4h5.6m-2.8-2.4v4.8M621.5 316.4h5.6m-2.8-2.4v4.8M590.4 314.8h5.6m-2.8-2.4v4.8M551.0 323.7h5.6m-2.8-2.4v4.8M633.5 300.6h5.6m-2.8-2.4v4.8M535.2 330.4h5.6m-2.8-2.4v4.8M556.8 306.0h5.6m-2.8-2.4v4.8M629.6 309.6h5.6m-2.8-2.4v4.8M546.0 299.2h5.6m-2.8-2.4v4.8M561.1 329.2h5.6m-2.8-2.4v4.8M597.9 330.8h5.6m-2.8-2.4v4.8M564.5 324.9h5.6m-2.8-2.4v4.8M536.5 334.3h5.6m-2.8-2.4v4.8M583.6 312.4h5.6m-2.8-2.4v4.8M560.3 335.2h5.6m-2.8-2.4v4.8M631.7 312.8h5.6m-2.8-2.4v4.8M558.9 325.1h5.6m-2.8-2.4v4.8M623.6 317.3h5.6m-2.8-2.4v4.8M641.2 313.9h5.6m-2.8-2.4v4.8M557.7 342.3h5.6m-2.8-2.4v4.8M540.5 323.3h5.6m-2.8-2.4v4.8M620.7 313.0h5.6m-2.8-2.4v4.8M587.2 300.2h5.6m-2.8-2.4v4.8M639.5 289.8h5.6m-2.8-2.4v4.8M635.2 311.1h5.6m-2.8-2.4v4.8M603.8 310.0h5.6m-2.8-2.4v4.8M619.5 297.0h5.6m-2.8-2.4v4.8M562.2 316.8h5.6m-2.8-2.4v4.8M546.4 308.4h5.6m-2.8-2.4v4.8M573.1 347.5h5.6m-2.8-2.4v4.8M534.9 320.8h5.6m-2.8-2.4v4.8M551.3 341.3h5.6m-2.8-2.4v4.8M594.5 336.9h5.6m-2.8-2.4v4.8M602.4 318.9h5.6m-2.8-2.4v4.8M561.3 335.2h5.6m-2.8-2.4v4.8M578.2 314.8h5.6m-2.8-2.4v4.8M538.9 335.0h5.6m-2.8-2.4v4.8M539.8 324.6h5.6m-2.8-2.4v4.8M545.6 336.7h5.6m-2.8-2.4v4.8M555.5 334.7h5.6m-2.8-2.4v4.8M577.1 336.3h5.6m-2.8-2.4v4.8M632.1 311.6h5.6m-2.8-2.4v4.8M621.7 315.5h5.6m-2.8-2.4v4.8M590.3 321.1h5.6m-2.8-2.4v4.8M574.7 339.0h5.6m-2.8-2.4v4.8M128.2 119.3h5.6m-2.8-2.4v4.8M143.0 100.5h5.6m-2.8-2.4v4.8M143.0 104.0h5.6m-2.8-2.4v4.8M653.4 300.7h5.6m-2.8-2.4v4.8M653.3 284.9h5.6m-2.8-2.4v4.8M653.9 310.4h5.6m-2.8-2.4v4.8M654.5 285.5h5.6m-2.8-2.4v4.8M653.0 257.5h5.6m-2.8-2.4v4.8M653.6 306.4h5.6m-2.8-2.4v4.8M654.7 285.4h5.6m-2.8-2.4v4.8M655.1 282.9h5.6m-2.8-2.4v4.8M654.3 312.5h5.6m-2.8-2.4v4.8M655.4 277.9h5.6m-2.8-2.4v4.8M654.6 291.1h5.6m-2.8-2.4v4.8M653.5 256.8h5.6m-2.8-2.4v4.8M654.2 300.6h5.6m-2.8-2.4v4.8M654.5 306.6h5.6m-2.8-2.4v4.8M653.8 274.7h5.6m-2.8-2.4v4.8M653.8 290.4h5.6m-2.8-2.4v4.8M655.5 305.3h5.6m-2.8-2.4v4.8M654.5 267.6h5.6m-2.8-2.4v4.8M653.7 259.6h5.6m-2.8-2.4v4.8M653.5 251.5h5.6m-2.8-2.4v4.8M652.9 319.6h5.6m-2.8-2.4v4.8M655.0 281.8h5.6m-2.8-2.4v4.8M653.2 319.3h5.6m-2.8-2.4v4.8M654.5 290.5h5.6m-2.8-2.4v4.8M653.2 288.2h5.6m-2.8-2.4v4.8M654.7 271.9h5.6m-2.8-2.4v4.8M653.7 304.4h5.6m-2.8-2.4v4.8M653.7 249.4h5.6m-2.8-2.4v4.8M654.7 308.4h5.6m-2.8-2.4v4.8M653.7 314.1h5.6m-2.8-2.4v4.8" stroke="#ff7f0e" stroke-width="1.7" fill="none"/>
<path d="M143.0 109.0 146.0 109.1 149.0 108.6 152.0 107.3 155.0 105.1 158.0 102.9 161.0 101.8 164.0 102.0 167.0 102.8 170.0 103.0 173.0 101.8 176.0 99.6 179.0 97.5 182.0 96.5 185.0 96.8 188.0 97.6 191.0 97.7 194.0 96.5 197.0 94.3 200.0 92.2 203.0 91.3 206.0 91.8 209.0 92.6 212.0 92.6 215.0 91.3 218.0 89.1 221.0 87.1 224.0 86.3 227.0 86.8 230.0 87.7 233.0 87.7 236.0 86.3 239.0 84.1 242.0 82.2 245.0 81.7 248.0 82.4 251.0 83.3 254.0 83.3 257.0 82.0 260.0 79.8 263.0 78.1 266.0 77.7 269.0 78.5 272.0 79.4 275.0 79.3 278.0 77.9 281.0 75.8 284.0 74.2 287.0 73.9 290.0 74.7 293.0 75.6 296.0 75.5 299.0 74.0 302.0 71.9 305.0 70.2 308.0 69.9 311.0 70.7 314.0 71.5 317.0 71.2 320.0 69.6 323.0 67.4 326.0 65.9 329.0 65.7 332.0 66.5 335.0 67.3 338.0 67.0 341.0 65.3 344.0 63.1 347.0 61.7 350.0 61.6 353.0 62.5 356.0 63.3 359.0 62.8 362.0 61.1 365.0 59.0 368.0 57.7 371.0 57.7 374.0 58.7 377.0 59.4 380.0 58.9 383.0 57.0 386.0 54.9 389.0 53.6 392.0 53.7 395.0 54.6 398.0 55.2 401.0 54.6 404.0 52.7 407.0 50.6 410.0 49.4 413.0 49.6 416.0 50.6 419.0 51.2 422.0 50.5 425.0 48.6 428.0 46.5 431.0 45.4 434.0 45.7 437.0 46.8 440.0 47.3 443.0 46.5 446.0 44.6 449.0 42.6 452.0 41.6 455.0 42.0 458.0 43.0 461.0 43.5 464.0 42.7 467.0 40.7 470.0 38.8 473.0 37.9 476.0 38.4 479.0 39.5 482.0 39.9 485.0 39.1 488.0 37.2 491.0 35.3 494.0 34.7 497.0 35.3 500.0 36.4 503.0 36.9 506.0 35.9 509.0 34.0 512.0 32.3 515.0 31.7 518.0 32.4 521.0 33.6 524.0 33.9 527.0 32.9 527.0 49.9 524.0 50.9 521.0 50.6 518.0 49.4 515.0 48.7 512.0 49.3 509.0 51.0 506.0 52.9 503.0 53.9 500.0 53.4 497.0 52.3 494.0 51.7 491.0 52.3 488.0 54.2 485.0 56.1 482.0 56.9 479.0 56.5 476.0 55.4 473.0 54.9 470.0 55.8 467.0 57.7 464.0 59.7 461.0 60.5 458.0 60.0 455.0 59.0 452.0 58.6 449.0 59.6 446.0 61.6 443.0 63.5 440.0 64.3 437.0 63.8 434.0 62.7 431.0 62.4 428.0 63.5 425.0 65.6 422.0 67.5 419.0 68.2 416.0 67.6 413.0 66.6 410.0 66.4 407.0 67.6 404.0 69.7 401.0 71.6 398.0 72.2 395.0 71.6 392.0 70.7 389.0 70.6 386.0 71.9 383.0 74.0 380.0 75.9 377.0 76.4 374.0 75.7 371.0 74.7 368.0 74.7 365.0 76.0 362.0 78.1 359.0 79.8 356.0 80.3 353.0 79.5 350.0 78.6 347.0 78.7 344.0 80.1 341.0 82.3 338.0 84.0 335.0 84.3 332.0 83.5 329.0 82.7 326.0 82.9 323.0 84.4 320.0 86.6 317.0 88.2 314.0 88.5 311.0 87.7 308.0 86.9 305.0 87.2 302.0 88.9 299.0 91.0 296.0 92.5 293.0 92.6 290.0 91.7 287.0 90.9 284.0 91.2 281.0 92.8 278.0 94.9 275.0 96.3 272.0 96.4 269.0 95.5 266.0 94.7 263.0 95.1 260.0 96.8 257.0 99.0 254.0 100.3 251.0 100.3 248.0 99.4 245.0 98.7 242.0 99.2 239.0 101.1 236.0 103.3 233.0 104.7 230.0 104.7 227.0 103.8 224.0 103.3 221.0 104.1 218.0 106.1 215.0 108.3 212.0 109.6 209.0 109.6 206.0 108.8 203.0 108.3 200.0 109.2 197.0 111.3 194.0 113.5 191.0 114.7 188.0 114.6 185.0 113.8 182.0 113.5 179.0 114.5 176.0 116.6 173.0 118.8 170.0 120.0 167.0 119.8 164.0 119.0 161.0 118.8 158.0 119.9 155.0 122.1 152.0 124.3 149.0 127.0 146.0 131.7 143.0 135.9Z" fill="#2ca02c"/>
<path d="M194.8 93.3h5.6m-2.8-2.4v4.8M460.7 62.1h5.6m-2.8-2.4v4.8M348.0 83.1h5.6m-2.8-2.4v4.8M520.2 30.0h5.6m-2.8-2.4v4.8M201.2 87.8h5.6m-2.8-2.4v4.8M516.0 55.5h5.6m-2.8-2.4v4.8M183.8 111.3h5.6m-2.8-2.4v4.8M495.5 58.8h5.6m-2.8-2.4v4.8M154.1 106.3h5.6m-2.8-2.4v4.8M344.3 75.9h5.6m-2.8-2.4v4.8M388.2 46.9h5.6m-2.8-2.4v4.8M465.4 40.7h5.6m-2.8-2.4v4.8M457.5 38.3h5.6m-2.8-2.4v4.8M444.9 57.1h5.6m-2.8-2.4v4.8M471.4 41.3h5.6m-2.8-2.4v4.8M141.5 119.4h5.6m-2.8-2.4v4.8M418.7 65.5h5.6m-2.8-2.4v4.8M222.4 102.0h5.6m-2.8-2.4v4.8M483.2 39.6h5.6m-2.8-2.4v4.8M240.8 79.6h5.6m-2.8-2.4v4.8M302.5 91.7h5.6m-2.8-2.4v4.8M385.0 56.6h5.6m-2.8-2.4v4.8M271.7 109.9h5.6m-2.8-2.4v4.8M350.2 64.9h5.6m-2.8-2.4v4.8M526.2 37.1h5.6m-2.8-2.4v4.8M410.2 52.1h5.6m-2.8-2.4v4.8M285.1 88.2h5.6m-2.8-2.4v4.8M280.7 93.7h5.6m-2.8-2.4v4.8M434.1 43.1h5.6m-2.8-2.4v4.8M190.3 111.9h5.6m-2.8-2.4v4.8M196.7 93.5h5.6m-2.8-2.4v4.8M253.5 96.7h5.6m-2.8-2.4v4.8M468.2 57.1h5.6m-2.8-2.4v4.8M424.1 43.1h5.6m-2.8-2.4v4.8M228.9 85.3h5.6m-2.8-2.4v4.8M290.4 78.2h5.6m-2.8-2.4v4.8M381.9 75.9h5.6m-2.8-2.4v4.8M258.9 92.9h5.6m-2.8-2.4v4.8M433.7 46.7h5.6m-2.8-2.4v4.8M330.7 89.4h5.6m-2.8-2.4v4.8M516.7 47.6h5.6m-2.8-2.4v4.8M249.7 98.8h5.6m-2.8-2.4v4.8M429.8 33.2h5.6m-2.8-2.4v4.8M256.8 101.3h5.6m-2.8-2.4v4.8M527.3 32.9h5.6m-2.8-2.4v4.8M434.6 48.2h5.6m-2.8-2.4v4.8M324.3 79.4h5.6m-2.8-2.4v4.8M289.5 73.4h5.6m-2.8-2.4v4.8M374.1 73.7h5.6m-2.8-2.4v4.8M236.4 80.3h5.6m-2.8-2.4v4.8M168.0 98.8h5.6m-2.8-2.4v4.8M513.3 29.1h5.6m-2.8-2.4v4.8M360.6 63.0h5.6m-2.8-2.4v4.8M337.2 85.7h5.6m-2.8-2.4v4.8M194.7 108.2h5.6m-2.8-2.4v4.8M417.8 53.5h5.6m-2.8-2.4v4.8M190.9 92.7h5.6m-2.8-2.4v4.8M314.2 73.8h5.6m-2.8-2.4v4.8M511.1 49.9h5.6m-2.8-2.4v4.8M147.5 123.6h5.6m-2.8-2.4v4.8M250.9 97.4h5.6m-2.8-2.4v4.8M374.6 82.6h5.6m-2.8-2.4v4.8M151.9 98.7h5.6m-2.8-2.4v4.8M405.2 52.4h5.6m-2.8-2.4v4.8M199.5 106.3h5.6m-2.8-2.4v4.8M146.4 111.2h5.6m-2.8-2.4v4.8M261.9 97.7h5.6m-2.8-2.4v4.8M147.0 128.6h5.6m-2.8-2.4v4.8M162.8 95.3h5.6m-2.8-2.4v4.8M289.1 71.4h5.6m-2.8-2.4v4.8M478.9 54.7h5.6m-2.8-2.4v4.8M170.6 100.4h5.6m-2.8-2.4v4.8M499.2 39.7h5.6m-2.8-2.4v4.8M184.1 113.3h5.6m-2.8-2.4v4.8M174.5 114.7h5.6m-2.8-2.4v4.8M151.2 102.8h5.6m-2.8-2.4v4.8M452.8 64.4h5.6m-2.8-2.4v4.8M399.4 73.4h5.6m-2.8-2.4v4.8M164.2 123.5h5.6m-2.8-2.4v4.8M389.9 68.2h5.6m-2.8-2.4v4.8M464.5 56.5h5.6m-2.8-2.4v4.8M160.4 99.5h5.6m-2.8-2.4v4.8M356.7 85.3h5.6m-2.8-2.4v4.8M380.0 76.0h5.6m-2.8-2.4v4.8M507.1 50.7h5.6m-2.8-2.4v4.8M192.3 93.4h5.6m-2.8-2.4v4.8M139.8 135.9h5.6m-2.8-2.4v4.8M281.0 69.3h5.6m-2.8-2.4v4.8M161.4 115.8h5.6m-2.8-2.4v4.8M165.3 124.6h5.6m-2.8-2.4v4.8M248.9 104.1h5.6m-2.8-2.4v4.8M462.1 56.2h5.6m-2.8-2.4v4.8M215.2 108.4h5.6m-2.8-2.4v4.8M233.4 106.3h5.6m-2.8-2.4v4.8M341.8 81.6h5.6m-2.8-2.4v4.8M349.2 79.0h5.6m-2.8-2.4v4.8M285.1 76.5h5.6m-2.8-2.4v4.8M153.1 106.1h5.6m-2.8-2.4v4.8M462.8 55.4h5.6m-2.8-2.4v4.8M201.2 114.3h5.6m-2.8-2.4v4.8M384.7 68.9h5.6m-2.8-2.4v4.8M287.0 77.2h5.6m-2.8-2.4v4.8M514.4 46.7h5.6m-2.8-2.4v4.8M506.3 32.9h5.6m-2.8-2.4v4.8M454.7 56.8h5.6m-2.8-2.4v4.8M215.5 102.8h5.6m-2.8-2.4v4.8M377.5 80.6h5.6m-2.8-2.4v4.8M288.1 89.1h5.6m-2.8-2.4v4.8M455.3 44.6h5.6m-2.8-2.4v4.8M320.2 81.5h5.6m-2.8-2.4v4.8M512.8 28.9h5.6m-2.8-2.4v4.8M390.1 56.8h5.6m-2.8-2.4v4.8M223.0 101.2h5.6m-2.8-2.4v4.8M153.7 118.5h5.6m-2.8-2.4v4.8M300.7 69.4h5.6m-2.8-2.4v4.8M346.2 76.4h5.6m-2.8-2.4v4.8M302.2 71.3h5.6m-2.8-2.4v4.8M361.8 56.1h5.6m-2.8-2.4v4.8M189.9 100.4h5.6m-2.8-2.4v4.8M203.5 106.1h5.6m-2.8-2.4v4.8M494.8 36.1h5.6m-2.8-2.4v4.8M260.3 74.3h5.6m-2.8-2.4v4.8M279.2 89.2h5.6m-2.8-2.4v4.8M139.5 132.0h5.6m-2.8-2.4v4.8M250.7 81.5h5.6m-2.8-2.4v4.8M416.5 52.6h5.6m-2.8-2.4v4.8M451.9 55.6h5.6m-2.8-2.4v4.8M244.2 78.6h5.6m-2.8-2.4v4.8M485.6 59.8h5.6m-2.8-2.4v4.8M202.9 95.0h5.6m-2.8-2.4v4.8M259.7 93.2h5.6m-2.8-2.4v4.8M482.0 60.4h5.6m-2.8-2.4v4.8M357.2 77.4h5.6m-2.8-2.4v4.8M191.4 110.9h5.6m-2.8-2.4v4.8M401.4 54.9h5.6m-2.8-2.4v4.8M172.6 101.2h5.6m-2.8-2.4v4.8M417.6 44.2h5.6m-2.8-2.4v4.8M348.2 75.9h5.6m-2.8-2.4v4.8M484.0 41.3h5.6m-2.8-2.4v4.8M371.3 73.1h5.6m-2.8-2.4v4.8M266.8 99.9h5.6m-2.8-2.4v4.8M189.5 94.7h5.6m-2.8-2.4v4.8M489.6 51.0h5.6m-2.8-2.4v4.8M401.5 72.5h5.6m-2.8-2.4v4.8M226.6 90.2h5.6m-2.8-2.4v4.8M432.3 44.7h5.6m-2.8-2.4v4.8M167.7 93.5h5.6m-2.8-2.4v4.8M500.6 58.3h5.6m-2.8-2.4v4.8M520.3 48.7h5.6m-2.8-2.4v4.8M458.3 46.0h5.6m-2.8-2.4v4.8M406.9 44.1h5.6m-2.8-2.4v4.8M152.3 118.8h5.6m-2.8-2.4v4.8M273.9 93.4h5.6m-2.8-2.4v4.8M368.1 78.1h5.6m-2.8-2.4v4.8M334.1 81.4h5.6m-2.8-2.4v4.8M140.2 130.8h5.6m-2.8-2.4v4.8M434.3 60.6h5.6m-2.8-2.4v4.8M249.8 86.4h5.6m-2.8-2.4v4.8M464.1 55.2h5.6m-2.8-2.4v4.8M311.8 71.4h5.6m-2.8-2.4v4.8M364.5 72.3h5.6m-2.8-2.4v4.8M332.1 62.4h5.6m-2.8-2.4v4.8M176.8 94.6h5.6m-2.8-2.4v4.8M527.1 45.9h5.6m-2.8-2.4v4.8M323.7 88.2h5.6m-2.8-2.4v4.8M364.1 60.7h5.6m-2.8-2.4v4.8M342.7 58.6h5.6m-2.8-2.4v4.8M230.0 107.1h5.6m-2.8-2.4v4.8M458.5 32.7h5.6m-2.8-2.4v4.8M233.5 102.7h5.6m-2.8-2.4v4.8M279.5 95.0h5.6m-2.8-2.4v4.8M306.9 84.6h5.6m-2.8-2.4v4.8M422.7 50.1h5.6m-2.8-2.4v4.8M392.3 57.4h5.6m-2.8-2.4v4.8M438.9 42.8h5.6m-2.8-2.4v4.8M413.0 52.6h5.6m-2.8-2.4v4.8M474.6 42.2h5.6m-2.8-2.4v4.8M272.2 76.8h5.6m-2.8-2.4v4.8M171.3 121.8h5.6m-2.8-2.4v4.8M418.6 66.2h5.6m-2.8-2.4v4.8M152.4 119.0h5.6m-2.8-2.4v4.8M262.7 98.5h5.6m-2.8-2.4v4.8M254.4 97.1h5.6m-2.8-2.4v4.8M204.1 113.0h5.6m-2.8-2.4v4.8M474.3 42.0h5.6m-2.8-2.4v4.8M290.7 92.7h5.6m-2.8-2.4v4.8M430.6 43.0h5.6m-2.8-2.4v4.8M413.2 52.0h5.6m-2.8-2.4v4.8M210.8 106.1h5.6m-2.8-2.4v4.8M312.0 70.7h5.6m-2.8-2.4v4.8M381.7 54.2h5.6m-2.8-2.4v4.8M365.1 83.3h5.6m-2.8-2.4v4.8M380.5 59.1h5.6m-2.8-2.4v4.8M214.0 85.2h5.6m-2.8-2.4v4.8M415.5 73.4h5.6m-2.8-2.4v4.8M397.4 77.1h5.6m-2.8-2.4v4.8M499.0 40.1h5.6m-2.8-2.4v4.8M458.0 58.4h5.6m-2.8-2.4v4.8M450.3 35.9h5.6m-2.8-2.4v4.8M166.4 122.3h5.6m-2.8-2.4v4.8M494.0 49.1h5.6m-2.8-2.4v4.8M485.7 33.6h5.6m-2.8-2.4v4.8M142.5 117.9h5.6m-2.8-2.4v4.8M500.9 37.1h5.6m-2.8-2.4v4.8M472.5 41.2h5.6m-2.8-2.4v4.8M258.3 81.0h5.6m-2.8-2.4v4.8M512.0 29.8h5.6m-2.8-2.4v4.8M514.5 29.8h5.6m-2.8-2.4v4.8M303.9 68.4h5.6m-2.8-2.4v4.8M322.7 80.3h5.6m-2.8-2.4v4.8M484.1 37.7h5.6m-2.8-2.4v4.8M501.8 37.2h5.6m-2.8-2.4v4.8M327.8 81.3h5.6m-2.8-2.4v4.8M159.5 97.2h5.6m-2.8-2.4v4.8M516.5 47.7h5.6m-2.8-2.4v4.8M141.5 121.8h5.6m-2.8-2.4v4.8M180.6 110.1h5.6m-2.8-2.4v4.8M271.4 93.4h5.6m-2.8-2.4v4.8M452.2 61.2h5.6m-2.8-2.4v4.8M374.4 80.3h5.6m-2.8-2.4v4.8M400.6 49.6h5.6m-2.8-2.4v4.8M140.8 108.2h5.6m-2.8-2.4v4.8M497.4 34.0h5.6m-2.8-2.4v4.8M300.1 85.3h5.6m-2.8-2.4v4.8M209.1 108.3h5.6m-2.8-2.4v4.8M427.1 40.9h5.6m-2.8-2.4v4.8M282.9 94.3h5.6m-2.8-2.4v4.8M216.7 111.2h5.6m-2.8-2.4v4.8M390.8 57.1h5.6m-2.8-2.4v4.8M187.5 114.4h5.6m-2.8-2.4v4.8M322.0 88.0h5.6m-2.8-2.4v4.8M270.5 99.6h5.6m-2.8-2.4v4.8M257.7 75.5h5.6m-2.8-2.4v4.8M153.8 103.8h5.6m-2.8-2.4v4.8M364.1 80.5h5.6m-2.8-2.4v4.8M527.3 41.4h5.6m-2.8-2.4v4.8M255.3 83.4h5.6m-2.8-2.4v4.8M382.8 74.2h5.6m-2.8-2.4v4.8M221.2 87.9h5.6m-2.8-2.4v4.8M350.4 64.4h5.6m-2.8-2.4v4.8M394.9 69.2h5.6m-2.8-2.4v4.8M183.4 112.6h5.6m-2.8-2.4v4.8M458.2 64.6h5.6m-2.8-2.4v4.8M512.4 49.7h5.6m-2.8-2.4v4.8M297.0 92.8h5.6m-2.8-2.4v4.8M497.4 36.2h5.6m-2.8-2.4v4.8M481.4 42.0h5.6m-2.8-2.4v4.8M325.7 80.2h5.6m-2.8-2.4v4.8M337.8 68.8h5.6m-2.8-2.4v4.8M316.4 84.9h5.6m-2.8-2.4v4.8M527.4 38.6h5.6m-2.8-2.4v4.8M398.4 53.3h5.6m-2.8-2.4v4.8M383.0 69.9h5.6m-2.8-2.4v4.8M274.2 98.3h5.6m-2.8-2.4v4.8M192.1 98.2h5.6m-2.8-2.4v4.8M465.8 37.8h5.6m-2.8-2.4v4.8M315.5 73.9h5.6m-2.8-2.4v4.8M510.0 52.0h5.6m-2.8-2.4v4.8M394.2 69.8h5.6m-2.8-2.4v4.8M460.8 32.1h5.6m-2.8-2.4v4.8M231.4 83.7h5.6m-2.8-2.4v4.8M387.1 51.4h5.6m-2.8-2.4v4.8M343.8 80.5h5.6m-2.8-2.4v4.8M433.4 66.8h5.6m-2.8-2.4v4.8M156.8 100.2h5.6m-2.8-2.4v4.8M508.6 28.4h5.6m-2.8-2.4v4.8M219.6 89.3h5.6m-2.8-2.4v4.8M496.9 32.2h5.6m-2.8-2.4v4.8M490.5 35.5h5.6m-2.8-2.4v4.8M345.7 80.9h5.6m-2.8-2.4v4.8M162.4 105.7h5.6m-2.8-2.4v4.8M236.6 97.8h5.6m-2.8-2.4v4.8M256.4 82.4h5.6m-2.8-2.4v4.8M236.8 86.9h5.6m-2.8-2.4v4.8M355.3 77.0h5.6m-2.8-2.4v4.8M146.0 111.3h5.6m-2.8-2.4v4.8M412.9 47.8h5.6m-2.8-2.4v4.8M319.1 67.4h5.6m-2.8-2.4v4.8M417.0 68.7h5.6m-2.8-2.4v4.8M229.5 89.8h5.6m-2.8-2.4v4.8M245.7 85.9h5.6m-2.8-2.4v4.8M527.5 35.6h5.6m-2.8-2.4v4.8M372.5 80.1h5.6m-2.8-2.4v4.8M292.8 78.8h5.6m-2.8-2.4v4.8M144.7 105.8h5.6m-2.8-2.4v4.8M256.5 77.5h5.6m-2.8-2.4v4.8M485.1 35.2h5.6m-2.8-2.4v4.8M168.8 105.7h5.6m-2.8-2.4v4.8M472.0 52.6h5.6m-2.8-2.4v4.8M514.0 56.1h5.6m-2.8-2.4v4.8M495.1 31.2h5.6m-2.8-2.4v4.8M276.6 90.7h5.6m-2.8-2.4v4.8M300.8 91.0h5.6m-2.8-2.4v4.8M282.4 75.8h5.6m-2.8-2.4v4.8M460.4 59.8h5.6m-2.8-2.4v4.8M461.2 43.8h5.6m-2.8-2.4v4.8M340.6 60.2h5.6m-2.8-2.4v4.8M412.5 70.6h5.6m-2.8-2.4v4.8M216.0 75.0h5.6m-2.8-2.4v4.8M356.7 65.2h5.6m-2.8-2.4v4.8M355.6 78.3h5.6m-2.8-2.4v4.8M471.2 40.2h5.6m-2.8-2.4v4.8M482.9 60.7h5.6m-2.8-2.4v4.8M247.2 78.6h5.6m-2.8-2.4v4.8M511.8 51.8h5.6m-2.8-2.4v4.8M350.4 82.3h5.6m-2.8-2.4v4.8M430.5 47.1h5.6m-2.8-2.4v4.8M415.3 64.9h5.6m-2.8-2.4v4.8M527.6 39.3h5.6m-2.8-2.4v4.8M226.9 90.6h5.6m-2.8-2.4v4.8M510.7 47.0h5.6m-2.8-2.4v4.8M247.5 98.2h5.6m-2.8-2.4v4.8M302.0 65.5h5.6m-2.8-2.4v4.8M395.6 51.2h5.6m-2.8-2.4v4.8M445.5 57.1h5.6m-2.8-2.4v4.8M433.0 60.1h5.6m-2.8-2.4v4.8M349.4 78.8h5.6m-2.8-2.4v4.8M302.0 73.7h5.6m-2.8-2.4v4.8M327.0 90.1h5.6m-2.8-2.4v4.8M401.1 53.7h5.6m-2.8-2.4v4.8M158.8 95.7h5.6m-2.8-2.4v4.8M287.2 71.1h5.6m-2.8-2.4v4.8M388.0 56.8h5.6m-2.8-2.4v4.8M327.4 69.4h5.6m-2.8-2.4v4.8M164.5 105.3h5.6m-2.8-2.4v4.8M268.5 75.7h5.6m-2.8-2.4v4.8M525.2 41.3h5.6m-2.8-2.4v4.8M411.1 51.3h5.6m-2.8-2.4v4.8M161.0 101.8h5.6m-2.8-2.4v4.8M274.0 74.7h5.6m-2.8-2.4v4.8M392.6 57.6h5.6m-2.8-2.4v4.8M470.7 68.4h5.6m-2.8-2.4v4.8M208.4 108.4h5.6m-2.8-2.4v4.8M153.1 124.7h5.6m-2.8-2.4v4.8M171.2 117.7h5.6m-2.8-2.4v4.8M426.4 47.8h5.6m-2.8-2.4v4.8M431.1 48.2h5.6m-2.8-2.4v4.8M217.4 89.8h5.6m-2.8-2.4v4.8M501.1 58.8h5.6m-2.8-2.4v4.8M445.8 65.7h5.6m-2.8-2.4v4.8M144.9 103.8h5.6m-2.8-2.4v4.8M227.4 86.3h5.6m-2.8-2.4v4.8M216.3 90.2h5.6m-2.8-2.4v4.8M271.8 81.2h5.6m-2.8-2.4v4.8M488.9 30.4h5.6m-2.8-2.4v4.8M332.6 68.4h5.6m-2.8-2.4v4.8M365.6 54.8h5.6m-2.8-2.4v4.8M197.5 105.7h5.6m-2.8-2.4v4.8M354.0 53.9h5.6m-2.8-2.4v4.8M444.6 41.5h5.6m-2.8-2.4v4.8M349.6 64.3h5.6m-2.8-2.4v4.8M387.3 54.2h5.6m-2.8-2.4v4.8M460.4 62.7h5.6m-2.8-2.4v4.8M389.0 51.5h5.6m-2.8-2.4v4.8M470.9 35.7h5.6m-2.8-2.4v4.8M167.3 106.1h5.6m-2.8-2.4v4.8M340.4 66.6h5.6m-2.8-2.4v4.8M197.6 112.6h5.6m-2.8-2.4v4.8M149.8 120.6h5.6m-2.8-2.4v4.8M444.9 40.7h5.6m-2.8-2.4v4.8M499.0 36.4h5.6m-2.8-2.4v4.8M329.2 80.2h5.6m-2.8-2.4v4.8M321.5 97.1h5.6m-2.8-2.4v4.8M172.9 114.7h5.6m-2.8-2.4v4.8M260.6 98.0h5.6m-2.8-2.4v4.8M146.4 109.1h5.6m-2.8-2.4v4.8M243.2 79.6h5.6m-2.8-2.4v4.8M287.7 78.0h5.6m-2.8-2.4v4.8M148.9 103.6h5.6m-2.8-2.4v4.8M193.2 97.3h5.6m-2.8-2.4v4.8M263.4 80.6h5.6m-2.8-2.4v4.8M275.6 74.7h5.6m-2.8-2.4v4.8M145.6 102.7h5.6m-2.8-2.4v4.8M276.0 92.8h5.6m-2.8-2.4v4.8M277.3 90.3h5.6m-2.8-2.4v4.8M430.2 72.7h5.6m-2.8-2.4v4.8M290.2 93.9h5.6m-2.8-2.4v4.8M257.3 99.0h5.6m-2.8-2.4v4.8M197.7 92.5h5.6m-2.8-2.4v4.8M222.2 79.1h5.6m-2.8-2.4v4.8M390.0 52.6h5.6m-2.8-2.4v4.8M277.9 78.2h5.6m-2.8-2.4v4.8M331.2 86.2h5.6m-2.8-2.4v4.8M331.4 85.3h5.6m-2.8-2.4v4.8M138.7 111.9h5.6m-2.8-2.4v4.8M221.4 102.2h5.6m-2.8-2.4v4.8M290.2 96.4h5.6m-2.8-2.4v4.8M225.8 84.0h5.6m-2.8-2.4v4.8M139.6 142.9h5.6m-2.8-2.4v4.8M405.7 63.9h5.6m-2.8-2.4v4.8M210.9 112.7h5.6m-2.8-2.4v4.8M166.3 98.9h5.6m-2.8-2.4v4.8M386.5 45.5h5.6m-2.8-2.4v4.8M394.9 57.8h5.6m-2.8-2.4v4.8M140.3 105.1h5.6m-2.8-2.4v4.8M200.5 91.7h5.6m-2.8-2.4v4.8M499.4 36.3h5.6m-2.8-2.4v4.8M227.6 77.9h5.6m-2.8-2.4v4.8M516.9 31.2h5.6m-2.8-2.4v4.8M230.6 106.5h5.6m-2.8-2.4v4.8M436.5 64.4h5.6m-2.8-2.4v4.8M143.1 110.8h5.6m-2.8-2.4v4.8M338.3 81.3h5.6m-2.8-2.4v4.8M275.4 78.9h5.6m-2.8-2.4v4.8M173.5 113.0h5.6m-2.8-2.4v4.8M171.4 115.8h5.6m-2.8-2.4v4.8M322.1 64.2h5.6m-2.8-2.4v4.8M463.2 36.9h5.6m-2.8-2.4v4.8M480.4 53.5h5.6m-2.8-2.4v4.8M352.2 84.3h5.6m-2.8-2.4v4.8M390.7 56.2h5.6m-2.8-2.4v4.8M270.7 82.6h5.6m-2.8-2.4v4.8M516.2 52.4h5.6m-2.8-2.4v4.8M179.9 117.9h5.6m-2.8-2.4v4.8M414.4 64.7h5.6m-2.8-2.4v4.8M218.2 80.3h5.6m-2.8-2.4v4.8M394.8 76.5h5.6m-2.8-2.4v4.8M226.3 107.2h5.6m-2.8-2.4v4.8M381.2 73.9h5.6m-2.8-2.4v4.8M450.7 37.9h5.6m-2.8-2.4v4.8M435.7 69.5h5.6m-2.8-2.4v4.8M240.7 95.5h5.6m-2.8-2.4v4.8M390.4 56.3h5.6m-2.8-2.4v4.8M177.5 112.9h5.6m-2.8-2.4v4.8M369.1 52.7h5.6m-2.8-2.4v4.8M269.4 98.7h5.6m-2.8-2.4v4.8M339.9 65.6h5.6m-2.8-2.4v4.8M526.5 31.5h5.6m-2.8-2.4v4.8M238.1 83.4h5.6m-2.8-2.4v4.8M353.2 65.2h5.6m-2.8-2.4v4.8M445.9 44.9h5.6m-2.8-2.4v4.8M213.0 90.9h5.6m-2.8-2.4v4.8M179.0 115.9h5.6m-2.8-2.4v4.8M323.6 87.1h5.6m-2.8-2.4v4.8M191.7 110.2h5.6m-2.8-2.4v4.8M428.4 60.3h5.6m-2.8-2.4v4.8M312.4 70.5h5.6m-2.8-2.4v4.8M390.6 52.8h5.6m-2.8-2.4v4.8M466.2 56.1h5.6m-2.8-2.4v4.8M359.7 57.4h5.6m-2.8-2.4v4.8M374.9 77.8h5.6m-2.8-2.4v4.8M171.3 120.3h5.6m-2.8-2.4v4.8M150.5 121.6h5.6m-2.8-2.4v4.8M180.3 110.2h5.6m-2.8-2.4v4.8M238.1 80.6h5.6m-2.8-2.4v4.8M361.3 61.9h5.6m-2.8-2.4v4.8M315.8 66.7h5.6m-2.8-2.4v4.8M142.2 111.6h5.6m-2.8-2.4v4.8M140.7 136.9h5.6m-2.8-2.4v4.8M492.9 54.5h5.6m-2.8-2.4v4.8M166.8 123.7h5.6m-2.8-2.4v4.8M377.4 73.2h5.6m-2.8-2.4v4.8M348.5 78.3h5.6m-2.8-2.4v4.8M310.9 87.0h5.6m-2.8-2.4v4.8M491.9 29.6h5.6m-2.8-2.4v4.8M256.0 100.2h5.6m-2.8-2.4v4.8M273.1 77.0h5.6m-2.8-2.4v4.8M381.3 75.4h5.6m-2.8-2.4v4.8M305.9 65.8h5.6m-2.8-2.4v4.8M229.6 107.7h5.6m-2.8-2.4v4.8M140.6 139.4h5.6m-2.8-2.4v4.8M245.3 80.0h5.6m-2.8-2.4v4.8M248.4 82.8h5.6m-2.8-2.4v4.8M295.0 90.0h5.6m-2.8-2.4v4.8M406.2 69.3h5.6m-2.8-2.4v4.8M141.5 103.8h5.6m-2.8-2.4v4.8M427.1 41.4h5.6m-2.8-2.4v4.8M442.2 46.9h5.6m-2.8-2.4v4.8M194.6 115.2h5.6m-2.8-2.4v4.8M458.7 62.4h5.6m-2.8-2.4v4.8M274.7 78.6h5.6m-2.8-2.4v4.8M211.5 110.6h5.6m-2.8-2.4v4.8M147.9 109.3h5.6m-2.8-2.4v4.8M299.1 85.7h5.6m-2.8-2.4v4.8M461.2 57.4h5.6m-2.8-2.4v4.8M476.5 42.5h5.6m-2.8-2.4v4.8M296.2 98.7h5.6m-2.8-2.4v4.8M470.5 56.4h5.6m-2.8-2.4v4.8M197.6 105.9h5.6m-2.8-2.4v4.8M157.4 123.5h5.6m-2.8-2.4v4.8M222.6 82.7h5.6m-2.8-2.4v4.8M324.7 62.1h5.6m-2.8-2.4v4.8M257.3 102.6h5.6m-2.8-2.4v4.8M316.4 67.6h5.6m-2.8-2.4v4.8M261.5 95.0h5.6m-2.8-2.4v4.8M429.3 47.3h5.6m-2.8-2.4v4.8M466.5 57.3h5.6m-2.8-2.4v4.8M227.8 107.2h5.6m-2.8-2.4v4.8M230.1 102.3h5.6m-2.8-2.4v4.8M481.8 55.9h5.6m-2.8-2.4v4.8M466.7 56.0h5.6m-2.8-2.4v4.8M343.1 80.5h5.6m-2.8-2.4v4.8M219.8 101.3h5.6m-2.8-2.4v4.8M356.9 79.6h5.6m-2.8-2.4v4.8M155.9 96.2h5.6m-2.8-2.4v4.8M264.2 81.1h5.6m-2.8-2.4v4.8M443.2 63.4h5.6m-2.8-2.4v4.8M440.4 49.8h5.6m-2.8-2.4v4.8M259.9 80.4h5.6m-2.8-2.4v4.8M372.0 81.2h5.6m-2.8-2.4v4.8M196.3 88.7h5.6m-2.8-2.4v4.8M384.4 75.3h5.6m-2.8-2.4v4.8M218.9 107.1h5.6m-2.8-2.4v4.8M269.0 81.3h5.6m-2.8-2.4v4.8M267.4 82.2h5.6m-2.8-2.4v4.8M318.1 82.8h5.6m-2.8-2.4v4.8M350.4 79.4h5.6m-2.8-2.4v4.8M231.1 85.9h5.6m-2.8-2.4v4.8M284.2 89.1h5.6m-2.8-2.4v4.8M317.0 83.6h5.6m-2.8-2.4v4.8M171.1 116.3h5.6m-2.8-2.4v4.8M369.6 73.0h5.6m-2.8-2.4v4.8M225.5 88.7h5.6m-2.8-2.4v4.8M383.7 70.7h5.6m-2.8-2.4v4.8M302.4 66.8h5.6m-2.8-2.4v4.8M230.1 104.2h5.6m-2.8-2.4v4.8M518.3 47.9h5.6m-2.8-2.4v4.8M494.7 56.7h5.6m-2.8-2.4v4.8M200.3 106.8h5.6m-2.8-2.4v4.8M395.0 75.7h5.6m-2.8-2.4v4.8M417.9 67.6h5.6m-2.8-2.4v4.8M439.5 42.9h5.6m-2.8-2.4v4.8M208.8 94.5h5.6m-2.8-2.4v4.8M181.1 115.0h5.6m-2.8-2.4v4.8M332.2 85.0h5.6m-2.8-2.4v4.8M142.3 106.8h5.6m-2.8-2.4v4.8M316.9 92.2h5.6m-2.8-2.4v4.8M201.3 107.8h5.6m-2.8-2.4v4.8M328.9 81.9h5.6m-2.8-2.4v4.8M370.4 59.8h5.6m-2.8-2.4v4.8M330.8 69.1h5.6m-2.8-2.4v4.8M520.9 35.0h5.6m-2.8-2.4v4.8M525.3 48.3h5.6m-2.8-2.4v4.8M375.8 74.3h5.6m-2.8-2.4v4.8M495.2 32.8h5.6m-2.8-2.4v4.8M266.8 80.0h5.6m-2.8-2.4v4.8M443.5 58.2h5.6m-2.8-2.4v4.8M207.7 90.0h5.6m-2.8-2.4v4.8M402.0 72.4h5.6m-2.8-2.4v4.8M485.4 34.6h5.6m-2.8-2.4v4.8M192.0 118.5h5.6m-2.8-2.4v4.8M402.3 53.6h5.6m-2.8-2.4v4.8M338.8 67.6h5.6m-2.8-2.4v4.8M155.1 100.1h5.6m-2.8-2.4v4.8M213.7 89.0h5.6m-2.8-2.4v4.8M304.5 70.1h5.6m-2.8-2.4v4.8M292.6 78.6h5.6m-2.8-2.4v4.8M455.7 59.5h5.6m-2.8-2.4v4.8M204.4 106.3h5.6m-2.8-2.4v4.8M510.4 31.9h5.6m-2.8-2.4v4.8M336.0 85.6h5.6m-2.8-2.4v4.8M321.6 82.3h5.6m-2.8-2.4v4.8M458.4 60.9h5.6m-2.8-2.4v4.8M304.3 85.7h5.6m-2.8-2.4v4.8M526.3 25.7h5.6m-2.8-2.4v4.8M338.3 81.3h5.6m-2.8-2.4v4.8M390.9 51.9h5.6m-2.8-2.4v4.8M196.9 90.1h5.6m-2.8-2.4v4.8M495.2 49.8h5.6m-2.8-2.4v4.8M524.1 37.7h5.6m-2.8-2.4v4.8M431.4 44.1h5.6m-2.8-2.4v4.8M447.6 42.1h5.6m-2.8-2.4v4.8M207.6 108.7h5.6m-2.8-2.4v4.8M253.3 97.9h5.6m-2.8-2.4v4.8M517.2 52.2h5.6m-2.8-2.4v4.8M399.7 52.5h5.6m-2.8-2.4v4.8M398.5 69.1h5.6m-2.8-2.4v4.8M365.4 59.9h5.6m-2.8-2.4v4.8M505.0 48.7h5.6m-2.8-2.4v4.8M186.7 115.3h5.6m-2.8-2.4v4.8M297.6 87.1h5.6m-2.8-2.4v4.8M277.9 77.7h5.6m-2.8-2.4v4.8M308.2 68.4h5.6m-2.8-2.4v4.8M270.5 77.6h5.6m-2.8-2.4v4.8M450.0 56.6h5.6m-2.8-2.4v4.8M170.7 121.8h5.6m-2.8-2.4v4.8M347.7 62.5h5.6m-2.8-2.4v4.8M509.0 28.8h5.6m-2.8-2.4v4.8M382.6 68.9h5.6m-2.8-2.4v4.8M259.3 74.4h5.6m-2.8-2.4v4.8M187.6 120.1h5.6m-2.8-2.4v4.8M337.8 58.0h5.6m-2.8-2.4v4.8M438.8 49.6h5.6m-2.8-2.4v4.8M485.8 37.0h5.6m-2.8-2.4v4.8M266.2 96.3h5.6m-2.8-2.4v4.8M352.1 84.0h5.6m-2.8-2.4v4.8M509.5 48.0h5.6m-2.8-2.4v4.8M423.7 44.2h5.6m-2.8-2.4v4.8M514.5 30.7h5.6m-2.8-2.4v4.8M350.8 83.5h5.6m-2.8-2.4v4.8M279.2 77.0h5.6m-2.8-2.4v4.8M161.4 96.2h5.6m-2.8-2.4v4.8M359.9 59.2h5.6m-2.8-2.4v4.8M290.4 69.4h5.6m-2.8-2.4v4.8M291.9 90.3h5.6m-2.8-2.4v4.8M461.9 39.5h5.6m-2.8-2.4v4.8M376.3 77.2h5.6m-2.8-2.4v4.8M411.7 70.8h5.6m-2.8-2.4v4.8M496.3 50.0h5.6m-2.8-2.4v4.8M471.1 52.4h5.6m-2.8-2.4v4.8M192.7 112.1h5.6m-2.8-2.4v4.8M388.1 72.4h5.6m-2.8-2.4v4.8M220.4 82.0h5.6m-2.8-2.4v4.8M205.2 106.7h5.6m-2.8-2.4v4.8M273.1 98.3h5.6m-2.8-2.4v4.8M388.9 71.5h5.6m-2.8-2.4v4.8M510.4 48.0h5.6m-2.8-2.4v4.8M232.5 89.5h5.6m-2.8-2.4v4.8M404.4 70.7h5.6m-2.8-2.4v4.8M191.2 96.7h5.6m-2.8-2.4v4.8M269.7 96.0h5.6m-2.8-2.4v4.8M401.4 67.3h5.6m-2.8-2.4v4.8M444.2 59.0h5.6m-2.8-2.4v4.8M154.8 125.9h5.6m-2.8-2.4v4.8M483.8 37.6h5.6m-2.8-2.4v4.8M457.8 64.5h5.6m-2.8-2.4v4.8M324.2 83.1h5.6m-2.8-2.4v4.8M170.2 103.5h5.6m-2.8-2.4v4.8M362.7 73.5h5.6m-2.8-2.4v4.8M173.4 100.8h5.6m-2.8-2.4v4.8M453.3 39.6h5.6m-2.8-2.4v4.8M400.4 51.2h5.6m-2.8-2.4v4.8M445.0 62.4h5.6m-2.8-2.4v4.8M264.0 72.9h5.6m-2.8-2.4v4.8M432.6 62.6h5.6m-2.8-2.4v4.8M417.8 70.0h5.6m-2.8-2.4v4.8M300.9 63.3h5.6m-2.8-2.4v4.8M321.6 66.2h5.6m-2.8-2.4v4.8M502.4 58.8h5.6m-2.8-2.4v4.8M168.8 120.8h5.6m-2.8-2.4v4.8M185.3 95.5h5.6m-2.8-2.4v4.8M232.6 104.5h5.6m-2.8-2.4v4.8M352.5 79.4h5.6m-2.8-2.4v4.8M190.1 119.1h5.6m-2.8-2.4v4.8M297.3 88.5h5.6m-2.8-2.4v4.8M439.2 48.9h5.6m-2.8-2.4v4.8M285.3 88.6h5.6m-2.8-2.4v4.8M451.4 56.9h5.6m-2.8-2.4v4.8M142.5 135.3h5.6m-2.8-2.4v4.8M306.8 85.8h5.6m-2.8-2.4v4.8M440.5 48.4h5.6m-2.8-2.4v4.8M195.5 87.7h5.6m-2.8-2.4v4.8M467.2 56.8h5.6m-2.8-2.4v4.8M289.1 90.3h5.6m-2.8-2.4v4.8M493.3 53.9h5.6m-2.8-2.4v4.8M151.6 120.4h5.6m-2.8-2.4v4.8M306.1 70.5h5.6m-2.8-2.4v4.8M340.0 80.2h5.6m-2.8-2.4v4.8M357.7 76.4h5.6m-2.8-2.4v4.8M240.6 104.5h5.6m-2.8-2.4v4.8M254.5 97.2h5.6m-2.8-2.4v4.8M384.0 56.7h5.6m-2.8-2.4v4.8M517.6 36.1h5.6m-2.8-2.4v4.8M332.7 68.0h5.6m-2.8-2.4v4.8M153.3 100.5h5.6m-2.8-2.4v4.8M331.2 63.4h5.6m-2.8-2.4v4.8M201.4 109.4h5.6m-2.8-2.4v4.8M205.9 94.6h5.6m-2.8-2.4v4.8M140.5 124.3h5.6m-2.8-2.4v4.8M275.6 97.8h5.6m-2.8-2.4v4.8M215.2 103.1h5.6m-2.8-2.4v4.8M236.1 102.4h5.6m-2.8-2.4v4.8M236.6 84.4h5.6m-2.8-2.4v4.8M226.1 105.8h5.6m-2.8-2.4v4.8M464.4 61.2h5.6m-2.8-2.4v4.8M164.5 102.2h5.6m-2.8-2.4v4.8M379.2 77.5h5.6m-2.8-2.4v4.8M156.6 105.3h5.6m-2.8-2.4v4.8M233.1 85.4h5.6m-2.8-2.4v4.8M238.1 85.8h5.6m-2.8-2.4v4.8M514.6 34.3h5.6m-2.8-2.4v4.8M422.7 47.6h5.6m-2.8-2.4v4.8M140.2 120.6h5.6m-2.8-2.4v4.8M247.3 80.9h5.6m-2.8-2.4v4.8M231.4 102.4h5.6m-2.8-2.4v4.8M302.5 84.6h5.6m-2.8-2.4v4.8M200.7 112.7h5.6m-2.8-2.4v4.8M141.5 131.4h5.6m-2.8-2.4v4.8M260.9 93.1h5.6m-2.8-2.4v4.8M211.5 109.6h5.6m-2.8-2.4v4.8M396.2 75.0h5.6m-2.8-2.4v4.8M225.0 103.2h5.6m-2.8-2.4v4.8M212.2 92.9h5.6m-2.8-2.4v4.8M244.1 96.7h5.6m-2.8-2.4v4.8M315.8 72.1h5.6m-2.8-2.4v4.8M331.5 68.1h5.6m-2.8-2.4v4.8M431.0 45.3h5.6m-2.8-2.4v4.8M353.8 65.9h5.6m-2.8-2.4v4.8M407.8 66.7h5.6m-2.8-2.4v4.8M348.1 60.0h5.6m-2.8-2.4v4.8M496.8 59.7h5.6m-2.8-2.4v4.8M336.2 62.7h5.6m-2.8-2.4v4.8M302.6 71.4h5.6m-2.8-2.4v4.8M494.5 54.7h5.6m-2.8-2.4v4.8M426.9 45.5h5.6m-2.8-2.4v4.8M309.6 85.7h5.6m-2.8-2.4v4.8M166.2 103.5h5.6m-2.8-2.4v4.8M182.7 99.6h5.6m-2.8-2.4v4.8M342.6 64.4h5.6m-2.8-2.4v4.8M462.1 57.7h5.6m-2.8-2.4v4.8M182.1 112.7h5.6m-2.8-2.4v4.8M461.9 42.9h5.6m-2.8-2.4v4.8M512.5 51.4h5.6m-2.8-2.4v4.8M167.1 116.9h5.6m-2.8-2.4v4.8M191.3 117.4h5.6m-2.8-2.4v4.8M160.5 123.8h5.6m-2.8-2.4v4.8M447.9 42.5h5.6m-2.8-2.4v4.8M298.5 67.6h5.6m-2.8-2.4v4.8M174.9 93.4h5.6m-2.8-2.4v4.8M365.4 57.5h5.6m-2.8-2.4v4.8M231.1 86.1h5.6m-2.8-2.4v4.8M401.4 55.5h5.6m-2.8-2.4v4.8M184.1 112.8h5.6m-2.8-2.4v4.8M408.9 43.4h5.6m-2.8-2.4v4.8M357.5 77.7h5.6m-2.8-2.4v4.8M193.7 114.8h5.6m-2.8-2.4v4.8M517.9 35.7h5.6m-2.8-2.4v4.8M150.5 125.3h5.6m-2.8-2.4v4.8M158.9 100.2h5.6m-2.8-2.4v4.8M349.3 82.4h5.6m-2.8-2.4v4.8M524.7 34.3h5.6m-2.8-2.4v4.8M417.2 48.6h5.6m-2.8-2.4v4.8M457.9 59.8h5.6m-2.8-2.4v4.8M457.4 62.1h5.6m-2.8-2.4v4.8M515.6 32.4h5.6m-2.8-2.4v4.8M336.5 64.6h5.6m-2.8-2.4v4.8M519.4 36.4h5.6m-2.8-2.4v4.8M368.7 60.6h5.6m-2.8-2.4v4.8M391.0 72.1h5.6m-2.8-2.4v4.8M241.8 83.6h5.6m-2.8-2.4v4.8M355.4 58.3h5.6m-2.8-2.4v4.8M412.2 67.4h5.6m-2.8-2.4v4.8M438.8 48.2h5.6m-2.8-2.4v4.8M224.6 89.8h5.6m-2.8-2.4v4.8M165.0 116.6h5.6m-2.8-2.4v4.8M184.3 113.7h5.6m-2.8-2.4v4.8M246.4 80.7h5.6m-2.8-2.4v4.8M145.3 130.9h5.6m-2.8-2.4v4.8M279.0 95.1h5.6m-2.8-2.4v4.8M288.7 95.1h5.6m-2.8-2.4v4.8M359.1 79.4h5.6m-2.8-2.4v4.8M450.7 60.1h5.6m-2.8-2.4v4.8M438.5 63.4h5.6m-2.8-2.4v4.8M171.3 97.1h5.6m-2.8-2.4v4.8M510.5 34.5h5.6m-2.8-2.4v4.8M209.8 93.9h5.6m-2.8-2.4v4.8M473.7 38.0h5.6m-2.8-2.4v4.8M421.1 71.4h5.6m-2.8-2.4v4.8M487.0 28.0h5.6m-2.8-2.4v4.8M259.1 74.5h5.6m-2.8-2.4v4.8M472.9 39.8h5.6m-2.8-2.4v4.8M407.5 68.1h5.6m-2.8-2.4v4.8M301.5 92.3h5.6m-2.8-2.4v4.8M350.5 81.7h5.6m-2.8-2.4v4.8M525.0 45.5h5.6m-2.8-2.4v4.8M499.5 55.5h5.6m-2.8-2.4v4.8M177.0 111.2h5.6m-2.8-2.4v4.8M517.5 31.3h5.6m-2.8-2.4v4.8M324.4 65.3h5.6m-2.8-2.4v4.8M272.9 93.9h5.6m-2.8-2.4v4.8M244.6 102.0h5.6m-2.8-2.4v4.8M409.1 51.5h5.6m-2.8-2.4v4.8M284.1 95.4h5.6m-2.8-2.4v4.8M363.5 58.1h5.6m-2.8-2.4v4.8M314.8 85.3h5.6m-2.8-2.4v4.8M275.7 94.1h5.6m-2.8-2.4v4.8M229.6 90.7h5.6m-2.8-2.4v4.8M175.4 119.7h5.6m-2.8-2.4v4.8M424.0 62.4h5.6m-2.8-2.4v4.8M432.0 66.5h5.6m-2.8-2.4v4.8M388.3 67.5h5.6m-2.8-2.4v4.8M287.5 96.7h5.6m-2.8-2.4v4.8M317.2 92.4h5.6m-2.8-2.4v4.8M251.1 102.9h5.6m-2.8-2.4v4.8M142.7 124.7h5.6m-2.8-2.4v4.8M309.0 70.1h5.6m-2.8-2.4v4.8M332.8 81.4h5.6m-2.8-2.4v4.8M152.8 107.3h5.6m-2.8-2.4v4.8M245.0 104.4h5.6m-2.8-2.4v4.8M298.0 96.2h5.6m-2.8-2.4v4.8M280.4 76.7h5.6m-2.8-2.4v4.8M250.5 100.1h5.6m-2.8-2.4v4.8M479.6 59.5h5.6m-2.8-2.4v4.8M280.3 73.1h5.6m-2.8-2.4v4.8M451.8 61.6h5.6m-2.8-2.4v4.8M320.4 70.7h5.6m-2.8-2.4v4.8M396.4 58.3h5.6m-2.8-2.4v4.8M310.1 90.3h5.6m-2.8-2.4v4.8M351.7 82.6h5.6m-2.8-2.4v4.8M339.4 83.7h5.6m-2.8-2.4v4.8M424.8 48.4h5.6m-2.8-2.4v4.8M446.0 59.4h5.6m-2.8-2.4v4.8M191.3 97.1h5.6m-2.8-2.4v4.8M152.5 106.4h5.6m-2.8-2.4v4.8M398.8 69.1h5.6m-2.8-2.4v4.8M292.5 95.9h5.6m-2.8-2.4v4.8M307.4 88.0h5.6m-2.8-2.4v4.8M147.8 123.7h5.6m-2.8-2.4v4.8M208.2 95.6h5.6m-2.8-2.4v4.8M522.4 31.7h5.6m-2.8-2.4v4.8M441.6 62.4h5.6m-2.8-2.4v4.8M288.6 89.0h5.6m-2.8-2.4v4.8M269.3 95.4h5.6m-2.8-2.4v4.8M142.7 136.0h5.6m-2.8-2.4v4.8M354.8 80.8h5.6m-2.8-2.4v4.8M403.8 78.3h5.6m-2.8-2.4v4.8M318.3 88.5h5.6m-2.8-2.4v4.8M279.1 74.9h5.6m-2.8-2.4v4.8M241.8 81.0h5.6m-2.8-2.4v4.8M255.4 80.4h5.6m-2.8-2.4v4.8M485.1 51.3h5.6m-2.8-2.4v4.8M321.5 68.2h5.6m-2.8-2.4v4.8M431.9 48.9h5.6m-2.8-2.4v4.8M265.4 97.2h5.6m-2.8-2.4v4.8M517.1 48.0h5.6m-2.8-2.4v4.8M327.7 86.4h5.6m-2.8-2.4v4.8M487.2 37.9h5.6m-2.8-2.4v4.8M447.8 56.1h5.6m-2.8-2.4v4.8M445.1 40.1h5.6m-2.8-2.4v4.8M459.4 41.0h5.6m-2.8-2.4v4.8M206.5 94.4h5.6m-2.8-2.4v4.8M237.0 78.2h5.6m-2.8-2.4v4.8M522.6 32.6h5.6m-2.8-2.4v4.8M379.7 47.0h5.6m-2.8-2.4v4.8M159.1 121.9h5.6m-2.8-2.4v4.8M158.9 103.4h5.6m-2.8-2.4v4.8M380.4 54.9h5.6m-2.8-2.4v4.8M286.9 94.2h5.6m-2.8-2.4v4.8M441.1 60.8h5.6m-2.8-2.4v4.8M474.7 35.3h5.6m-2.8-2.4v4.8M277.9 75.2h5.6m-2.8-2.4v4.8M393.3 50.8h5.6m-2.8-2.4v4.8M157.0 123.3h5.6m-2.8-2.4v4.8M372.8 76.6h5.6m-2.8-2.4v4.8M505.3 36.8h5.6m-2.8-2.4v4.8M234.6 86.6h5.6m-2.8-2.4v4.8M457.2 39.1h5.6m-2.8-2.4v4.8M487.4 51.0h5.6m-2.8-2.4v4.8M252.7 101.4h5.6m-2.8-2.4v4.8M244.5 98.1h5.6m-2.8-2.4v4.8M525.6 43.1h5.6m-2.8-2.4v4.8M481.1 37.5h5.6m-2.8-2.4v4.8M469.7 38.9h5.6m-2.8-2.4v4.8M287.1 89.4h5.6m-2.8-2.4v4.8M310.3 72.4h5.6m-2.8-2.4v4.8M483.4 53.0h5.6m-2.8-2.4v4.8M436.1 61.1h5.6m-2.8-2.4v4.8M295.3 73.5h5.6m-2.8-2.4v4.8M324.6 63.4h5.6m-2.8-2.4v4.8M272.5 81.0h5.6m-2.8-2.4v4.8M256.9 98.5h5.6m-2.8-2.4v4.8M464.5 54.7h5.6m-2.8-2.4v4.8M295.7 71.1h5.6m-2.8-2.4v4.8M165.0 96.8h5.6m-2.8-2.4v4.8M277.3 98.6h5.6m-2.8-2.4v4.8M195.5 108.2h5.6m-2.8-2.4v4.8M343.6 80.3h5.6m-2.8-2.4v4.8M417.9 49.6h5.6m-2.8-2.4v4.8M383.7 69.9h5.6m-2.8-2.4v4.8M400.0 52.2h5.6m-2.8-2.4v4.8M292.7 97.2h5.6m-2.8-2.4v4.8M445.7 68.3h5.6m-2.8-2.4v4.8M198.8 113.2h5.6m-2.8-2.4v4.8M205.2 107.0h5.6m-2.8-2.4v4.8M202.6 94.4h5.6m-2.8-2.4v4.8M233.6 103.3h5.6m-2.8-2.4v4.8M490.9 50.2h5.6m-2.8-2.4v4.8M424.8 66.1h5.6m-2.8-2.4v4.8M184.8 94.5h5.6m-2.8-2.4v4.8M167.2 102.4h5.6m-2.8-2.4v4.8M503.2 32.8h5.6m-2.8-2.4v4.8M314.4 87.4h5.6m-2.8-2.4v4.8M506.8 36.8h5.6m-2.8-2.4v4.8M159.6 116.0h5.6m-2.8-2.4v4.8M148.6 127.3h5.6m-2.8-2.4v4.8M330.2 68.3h5.6m-2.8-2.4v4.8M520.0 52.9h5.6m-2.8-2.4v4.8M494.1 53.1h5.6m-2.8-2.4v4.8M139.0 112.6h5.6m-2.8-2.4v4.8M472.9 35.1h5.6m-2.8-2.4v4.8M246.1 84.4h5.6m-2.8-2.4v4.8M410.1 45.6h5.6m-2.8-2.4v4.8M217.9 105.8h5.6m-2.8-2.4v4.8M506.0 35.6h5.6m-2.8-2.4v4.8M356.4 59.8h5.6m-2.8-2.4v4.8M254.8 81.5h5.6m-2.8-2.4v4.8M379.9 59.9h5.6m-2.8-2.4v4.8M222.9 87.0h5.6m-2.8-2.4v4.8M338.2 60.1h5.6m-2.8-2.4v4.8M431.8 44.7h5.6m-2.8-2.4v4.8M207.4 95.6h5.6m-2.8-2.4v4.8M468.9 36.3h5.6m-2.8-2.4v4.8M412.3 48.0h5.6m-2.8-2.4v4.8M431.9 65.9h5.6m-2.8-2.4v4.8M174.7 96.3h5.6m-2.8-2.4v4.8M268.8 80.4h5.6m-2.8-2.4v4.8M437.2 49.8h5.6m-2.8-2.4v4.8M205.4 111.7h5.6m-2.8-2.4v4.8M167.5 103.8h5.6m-2.8-2.4v4.8M298.3 72.5h5.6m-2.8-2.4v4.8M222.4 83.0h5.6m-2.8-2.4v4.8M160.8 123.1h5.6m-2.8-2.4v4.8M273.7 98.4h5.6m-2.8-2.4v4.8M325.7 83.0h5.6m-2.8-2.4v4.8M257.0 74.3h5.6m-2.8-2.4v4.8M475.4 59.5h5.6m-2.8-2.4v4.8M212.4 111.3h5.6m-2.8-2.4v4.8M168.2 120.9h5.6m-2.8-2.4v4.8M449.1 58.3h5.6m-2.8-2.4v4.8M462.7 28.3h5.6m-2.8-2.4v4.8M189.9 99.3h5.6m-2.8-2.4v4.8M439.6 69.2h5.6m-2.8-2.4v4.8M223.5 102.0h5.6m-2.8-2.4v4.8M296.3 90.1h5.6m-2.8-2.4v4.8M441.3 43.3h5.6m-2.8-2.4v4.8M172.1 101.2h5.6m-2.8-2.4v4.8M370.4 58.5h5.6m-2.8-2.4v4.8M269.5 78.5h5.6m-2.8-2.4v4.8M523.2 38.3h5.6m-2.8-2.4v4.8M353.5 61.1h5.6m-2.8-2.4v4.8M427.3 59.4h5.6m-2.8-2.4v4.8M206.3 93.7h5.6m-2.8-2.4v4.8M217.0 84.9h5.6m-2.8-2.4v4.8M237.1 101.7h5.6m-2.8-2.4v4.8M219.3 102.0h5.6m-2.8-2.4v4.8M450.8 44.5h5.6m-2.8-2.4v4.8M475.2 54.2h5.6m-2.8-2.4v4.8M215.6 91.3h5.6m-2.8-2.4v4.8M152.7 123.3h5.6m-2.8-2.4v4.8M142.3 133.1h5.6m-2.8-2.4v4.8M214.0 88.0h5.6m-2.8-2.4v4.8M334.6 85.8h5.6m-2.8-2.4v4.8M189.8 94.5h5.6m-2.8-2.4v4.8M382.5 73.9h5.6m-2.8-2.4v4.8M355.5 57.1h5.6m-2.8-2.4v4.8M186.0 113.7h5.6m-2.8-2.4v4.8M351.5 61.7h5.6m-2.8-2.4v4.8M154.7 118.6h5.6m-2.8-2.4v4.8M352.7 57.0h5.6m-2.8-2.4v4.8M195.2 92.3h5.6m-2.8-2.4v4.8M215.9 102.7h5.6m-2.8-2.4v4.8M305.9 70.9h5.6m-2.8-2.4v4.8M241.5 76.6h5.6m-2.8-2.4v4.8M474.3 54.4h5.6m-2.8-2.4v4.8M188.6 117.0h5.6m-2.8-2.4v4.8M432.4 49.5h5.6m-2.8-2.4v4.8M171.3 115.0h5.6m-2.8-2.4v4.8M200.4 88.3h5.6m-2.8-2.4v4.8M526.3 52.3h5.6m-2.8-2.4v4.8M196.9 110.6h5.6m-2.8-2.4v4.8M321.3 82.7h5.6m-2.8-2.4v4.8M477.1 35.2h5.6m-2.8-2.4v4.8M426.3 64.6h5.6m-2.8-2.4v4.8M445.6 43.4h5.6m-2.8-2.4v4.8M240.2 80.4h5.6m-2.8-2.4v4.8M500.6 56.6h5.6m-2.8-2.4v4.8M332.4 64.7h5.6m-2.8-2.4v4.8M340.2 67.2h5.6m-2.8-2.4v4.8M426.0 48.3h5.6m-2.8-2.4v4.8M486.3 37.5h5.6m-2.8-2.4v4.8M431.8 61.5h5.6m-2.8-2.4v4.8M316.8 69.4h5.6m-2.8-2.4v4.8M361.7 60.0h5.6m-2.8-2.4v4.8M289.7 78.4h5.6m-2.8-2.4v4.8M259.5 78.7h5.6m-2.8-2.4v4.8M522.2 29.6h5.6m-2.8-2.4v4.8M156.1 101.4h5.6m-2.8-2.4v4.8M509.4 34.8h5.6m-2.8-2.4v4.8M405.8 47.3h5.6m-2.8-2.4v4.8M284.4 87.8h5.6m-2.8-2.4v4.8M393.5 72.3h5.6m-2.8-2.4v4.8M396.1 58.1h5.6m-2.8-2.4v4.8M182.5 94.2h5.6m-2.8-2.4v4.8M314.4 67.5h5.6m-2.8-2.4v4.8M333.6 87.6h5.6m-2.8-2.4v4.8M320.0 64.1h5.6m-2.8-2.4v4.8M142.8 120.7h5.6m-2.8-2.4v4.8M367.7 78.5h5.6m-2.8-2.4v4.8M303.7 89.6h5.6m-2.8-2.4v4.8M294.6 70.8h5.6m-2.8-2.4v4.8M453.9 61.4h5.6m-2.8-2.4v4.8M197.5 110.3h5.6m-2.8-2.4v4.8M342.2 81.3h5.6m-2.8-2.4v4.8M417.2 66.1h5.6m-2.8-2.4v4.8M486.3 51.8h5.6m-2.8-2.4v4.8M342.2 62.4h5.6m-2.8-2.4v4.8M344.7 61.8h5.6m-2.8-2.4v4.8M480.7 58.9h5.6m-2.8-2.4v4.8M226.5 84.1h5.6m-2.8-2.4v4.8M177.9 118.1h5.6m-2.8-2.4v4.8M311.6 88.5h5.6m-2.8-2.4v4.8M206.6 111.4h5.6m-2.8-2.4v4.8M325.7 82.1h5.6m-2.8-2.4v4.8M331.7 65.0h5.6m-2.8-2.4v4.8M257.6 97.5h5.6m-2.8-2.4v4.8M335.3 80.8h5.6m-2.8-2.4v4.8M509.1 46.3h5.6m-2.8-2.4v4.8M140.8 127.6h5.6m-2.8-2.4v4.8M234.8 84.1h5.6m-2.8-2.4v4.8M374.1 61.7h5.6m-2.8-2.4v4.8M207.2 93.5h5.6m-2.8-2.4v4.8M192.3 93.0h5.6m-2.8-2.4v4.8M197.8 110.4h5.6m-2.8-2.4v4.8M449.2 36.6h5.6m-2.8-2.4v4.8M429.2 61.0h5.6m-2.8-2.4v4.8M412.3 49.2h5.6m-2.8-2.4v4.8M151.8 105.2h5.6m-2.8-2.4v4.8M478.2 28.2h5.6m-2.8-2.4v4.8M265.4 80.9h5.6m-2.8-2.4v4.8M206.7 94.0h5.6m-2.8-2.4v4.8M229.8 89.5h5.6m-2.8-2.4v4.8M183.9 116.2h5.6m-2.8-2.4v4.8M141.3 130.8h5.6m-2.8-2.4v4.8M518.8 51.2h5.6m-2.8-2.4v4.8M457.8 43.3h5.6m-2.8-2.4v4.8M302.8 84.3h5.6m-2.8-2.4v4.8M417.8 46.8h5.6m-2.8-2.4v4.8M158.0 101.9h5.6m-2.8-2.4v4.8M432.7 62.3h5.6m-2.8-2.4v4.8M169.8 104.5h5.6m-2.8-2.4v4.8M249.4 103.7h5.6m-2.8-2.4v4.8M266.2 76.5h5.6m-2.8-2.4v4.8M262.5 93.9h5.6m-2.8-2.4v4.8M508.7 34.8h5.6m-2.8-2.4v4.8M334.2 65.5h5.6m-2.8-2.4v4.8M454.5 42.0h5.6m-2.8-2.4v4.8M380.1 73.8h5.6m-2.8-2.4v4.8M308.1 68.9h5.6m-2.8-2.4v4.8M317.0 69.5h5.6m-2.8-2.4v4.8M524.7 33.2h5.6m-2.8-2.4v4.8M394.5 52.7h5.6m-2.8-2.4v4.8M173.0 99.5h5.6m-2.8-2.4v4.8M321.1 66.5h5.6m-2.8-2.4v4.8M150.8 107.9h5.6m-2.8-2.4v4.8M174.1 98.9h5.6m-2.8-2.4v4.8M400.6 55.9h5.6m-2.8-2.4v4.8M224.2 84.7h5.6m-2.8-2.4v4.8M247.7 84.0h5.6m-2.8-2.4v4.8M212.8 90.2h5.6m-2.8-2.4v4.8M154.9 101.1h5.6m-2.8-2.4v4.8M222.5 108.0h5.6m-2.8-2.4v4.8M460.3 60.4h5.6m-2.8-2.4v4.8M500.1 55.9h5.6m-2.8-2.4v4.8M398.2 69.6h5.6m-2.8-2.4v4.8M309.0 74.2h5.6m-2.8-2.4v4.8M167.2 118.3h5.6m-2.8-2.4v4.8M475.8 35.3h5.6m-2.8-2.4v4.8M237.7 103.2h5.6m-2.8-2.4v4.8M284.5 88.1h5.6m-2.8-2.4v4.8M324.4 67.1h5.6m-2.8-2.4v4.8M157.3 118.0h5.6m-2.8-2.4v4.8M146.2 126.4h5.6m-2.8-2.4v4.8M333.3 84.2h5.6m-2.8-2.4v4.8M480.4 60.3h5.6m-2.8-2.4v4.8M192.5 112.9h5.6m-2.8-2.4v4.8M497.6 56.3h5.6m-2.8-2.4v4.8M200.4 92.9h5.6m-2.8-2.4v4.8M425.2 65.5h5.6m-2.8-2.4v4.8M216.6 84.8h5.6m-2.8-2.4v4.8M184.3 115.4h5.6m-2.8-2.4v4.8M483.3 56.3h5.6m-2.8-2.4v4.8M236.2 80.8h5.6m-2.8-2.4v4.8M463.5 39.9h5.6m-2.8-2.4v4.8M143.9 135.8h5.6m-2.8-2.4v4.8M365.0 78.4h5.6m-2.8-2.4v4.8M294.4 72.0h5.6m-2.8-2.4v4.8M264.8 81.3h5.6m-2.8-2.4v4.8M157.3 104.7h5.6m-2.8-2.4v4.8M492.6 30.1h5.6m-2.8-2.4v4.8M176.5 114.3h5.6m-2.8-2.4v4.8M301.7 90.1h5.6m-2.8-2.4v4.8M325.6 66.2h5.6m-2.8-2.4v4.8M416.0 51.2h5.6m-2.8-2.4v4.8M287.3 89.6h5.6m-2.8-2.4v4.8M304.1 65.4h5.6m-2.8-2.4v4.8M277.3 72.4h5.6m-2.8-2.4v4.8M453.3 42.7h5.6m-2.8-2.4v4.8M404.6 50.6h5.6m-2.8-2.4v4.8M371.3 56.4h5.6m-2.8-2.4v4.8M401.5 53.8h5.6m-2.8-2.4v4.8M178.8 94.2h5.6m-2.8-2.4v4.8M368.1 54.4h5.6m-2.8-2.4v4.8M297.7 73.9h5.6m-2.8-2.4v4.8M392.9 54.4h5.6m-2.8-2.4v4.8M355.1 83.5h5.6m-2.8-2.4v4.8M333.7 83.1h5.6m-2.8-2.4v4.8M469.6 53.0h5.6m-2.8-2.4v4.8M356.4 83.3h5.6m-2.8-2.4v4.8M300.3 74.3h5.6m-2.8-2.4v4.8M158.4 117.4h5.6m-2.8-2.4v4.8M415.2 52.3h5.6m-2.8-2.4v4.8M485.5 55.0h5.6m-2.8-2.4v4.8M310.1 86.1h5.6m-2.8-2.4v4.8M452.4 44.9h5.6m-2.8-2.4v4.8M234.9 99.4h5.6m-2.8-2.4v4.8M231.5 88.1h5.6m-2.8-2.4v4.8M459.7 44.3h5.6m-2.8-2.4v4.8M240.2 97.3h5.6m-2.8-2.4v4.8M260.7 92.3h5.6m-2.8-2.4v4.8M149.5 103.4h5.6m-2.8-2.4v4.8M267.0 78.6h5.6m-2.8-2.4v4.8M147.4 104.7h5.6m-2.8-2.4v4.8M191.8 98.0h5.6m-2.8-2.4v4.8M272.1 96.0h5.6m-2.8-2.4v4.8M402.2 46.4h5.6m-2.8-2.4v4.8M417.3 53.5h5.6m-2.8-2.4v4.8M179.3 97.8h5.6m-2.8-2.4v4.8M449.6 55.8h5.6m-2.8-2.4v4.8M517.4 47.6h5.6m-2.8-2.4v4.8M238.9 98.0h5.6m-2.8-2.4v4.8M200.3 109.2h5.6m-2.8-2.4v4.8M513.0 53.6h5.6m-2.8-2.4v4.8M521.7 30.8h5.6m-2.8-2.4v4.8M255.5 100.4h5.6m-2.8-2.4v4.8M407.8 46.2h5.6m-2.8-2.4v4.8M173.6 93.0h5.6m-2.8-2.4v4.8M360.9 62.0h5.6m-2.8-2.4v4.8M154.1 126.8h5.6m-2.8-2.4v4.8M456.9 59.7h5.6m-2.8-2.4v4.8M519.1 48.9h5.6m-2.8-2.4v4.8M519.0 30.6h5.6m-2.8-2.4v4.8M461.4 45.8h5.6m-2.8-2.4v4.8M153.7 123.4h5.6m-2.8-2.4v4.8M519.5 55.2h5.6m-2.8-2.4v4.8M349.6 76.0h5.6m-2.8-2.4v4.8M182.3 94.0h5.6m-2.8-2.4v4.8M140.6 130.4h5.6m-2.8-2.4v4.8M480.5 54.9h5.6m-2.8-2.4v4.8M503.3 49.9h5.6m-2.8-2.4v4.8M501.0 51.4h5.6m-2.8-2.4v4.8M481.9 41.5h5.6m-2.8-2.4v4.8M188.4 88.4h5.6m-2.8-2.4v4.8M489.3 53.0h5.6m-2.8-2.4v4.8M464.7 55.6h5.6m-2.8-2.4v4.8M459.4 46.1h5.6m-2.8-2.4v4.8M398.1 75.4h5.6m-2.8-2.4v4.8M457.2 61.4h5.6m-2.8-2.4v4.8M252.3 105.0h5.6m-2.8-2.4v4.8M509.4 32.9h5.6m-2.8-2.4v4.8M427.8 65.5h5.6m-2.8-2.4v4.8M201.8 106.0h5.6m-2.8-2.4v4.8M314.8 69.9h5.6m-2.8-2.4v4.8M495.6 50.5h5.6m-2.8-2.4v4.8M156.2 96.4h5.6m-2.8-2.4v4.8M289.3 77.9h5.6m-2.8-2.4v4.8M421.3 65.1h5.6m-2.8-2.4v4.8M476.5 53.9h5.6m-2.8-2.4v4.8M294.1 78.6h5.6m-2.8-2.4v4.8M502.5 56.3h5.6m-2.8-2.4v4.8M198.3 89.5h5.6m-2.8-2.4v4.8M496.5 54.1h5.6m-2.8-2.4v4.8M414.9 67.3h5.6m-2.8-2.4v4.8M236.8 101.4h5.6m-2.8-2.4v4.8M415.0 68.0h5.6m-2.8-2.4v4.8M196.5 107.1h5.6m-2.8-2.4v4.8M198.3 109.4h5.6m-2.8-2.4v4.8M495.1 51.4h5.6m-2.8-2.4v4.8M282.1 69.4h5.6m-2.8-2.4v4.8M359.2 78.6h5.6m-2.8-2.4v4.8M487.5 50.7h5.6m-2.8-2.4v4.8M524.6 45.4h5.6m-2.8-2.4v4.8M338.9 64.7h5.6m-2.8-2.4v4.8M508.2 32.8h5.6m-2.8-2.4v4.8M516.1 34.2h5.6m-2.8-2.4v4.8M401.5 51.6h5.6m-2.8-2.4v4.8M194.3 97.6h5.6m-2.8-2.4v4.8M208.9 109.1h5.6m-2.8-2.4v4.8M276.3 76.9h5.6m-2.8-2.4v4.8M466.5 53.6h5.6m-2.8-2.4v4.8M336.1 87.4h5.6m-2.8-2.4v4.8M315.7 68.2h5.6m-2.8-2.4v4.8M453.1 58.2h5.6m-2.8-2.4v4.8M280.7 88.0h5.6m-2.8-2.4v4.8M488.6 50.9h5.6m-2.8-2.4v4.8M184.4 115.7h5.6m-2.8-2.4v4.8M276.9 91.0h5.6m-2.8-2.4v4.8M396.1 56.4h5.6m-2.8-2.4v4.8M201.5 79.4h5.6m-2.8-2.4v4.8M340.9 62.7h5.6m-2.8-2.4v4.8M270.0 95.2h5.6m-2.8-2.4v4.8M156.2 121.6h5.6m-2.8-2.4v4.8M251.5 101.1h5.6m-2.8-2.4v4.8M209.2 110.4h5.6m-2.8-2.4v4.8M309.9 89.8h5.6m-2.8-2.4v4.8M522.9 52.2h5.6m-2.8-2.4v4.8M369.5 59.9h5.6m-2.8-2.4v4.8M367.0 71.7h5.6m-2.8-2.4v4.8M445.7 61.0h5.6m-2.8-2.4v4.8M475.6 41.6h5.6m-2.8-2.4v4.8M253.5 85.1h5.6m-2.8-2.4v4.8M386.2 51.6h5.6m-2.8-2.4v4.8M505.6 53.7h5.6m-2.8-2.4v4.8M410.1 46.7h5.6m-2.8-2.4v4.8M216.8 85.0h5.6m-2.8-2.4v4.8M290.2 73.8h5.6m-2.8-2.4v4.8M172.1 94.3h5.6m-2.8-2.4v4.8M385.0 74.1h5.6m-2.8-2.4v4.8M182.4 98.2h5.6m-2.8-2.4v4.8M353.5 86.2h5.6m-2.8-2.4v4.8M302.8 86.8h5.6m-2.8-2.4v4.8M289.4 91.5h5.6m-2.8-2.4v4.8M257.7 96.2h5.6m-2.8-2.4v4.8M357.4 77.6h5.6m-2.8-2.4v4.8M374.6 77.7h5.6m-2.8-2.4v4.8M350.7 78.1h5.6m-2.8-2.4v4.8M336.3 68.7h5.6m-2.8-2.4v4.8M454.1 39.1h5.6m-2.8-2.4v4.8M493.9 54.6h5.6m-2.8-2.4v4.8M321.6 83.5h5.6m-2.8-2.4v4.8M177.2 115.3h5.6m-2.8-2.4v4.8M301.2 87.9h5.6m-2.8-2.4v4.8M296.5 75.9h5.6m-2.8-2.4v4.8M216.1 89.2h5.6m-2.8-2.4v4.8M178.3 112.8h5.6m-2.8-2.4v4.8M163.7 104.0h5.6m-2.8-2.4v4.8M338.9 63.7h5.6m-2.8-2.4v4.8M139.8 111.8h5.6m-2.8-2.4v4.8M293.2 75.9h5.6m-2.8-2.4v4.8M406.5 63.9h5.6m-2.8-2.4v4.8M391.3 54.2h5.6m-2.8-2.4v4.8M198.4 89.8h5.6m-2.8-2.4v4.8M280.2 92.9h5.6m-2.8-2.4v4.8M420.3 69.4h5.6m-2.8-2.4v4.8M188.5 100.8h5.6m-2.8-2.4v4.8M396.0 71.4h5.6m-2.8-2.4v4.8M504.9 50.5h5.6m-2.8-2.4v4.8M156.0 117.2h5.6m-2.8-2.4v4.8M321.2 67.7h5.6m-2.8-2.4v4.8M283.3 93.5h5.6m-2.8-2.4v4.8M407.1 47.6h5.6m-2.8-2.4v4.8M199.2 89.5h5.6m-2.8-2.4v4.8M435.7 67.9h5.6m-2.8-2.4v4.8M363.3 55.7h5.6m-2.8-2.4v4.8M497.3 39.1h5.6m-2.8-2.4v4.8M337.2 63.8h5.6m-2.8-2.4v4.8M393.2 52.8h5.6m-2.8-2.4v4.8M409.5 51.0h5.6m-2.8-2.4v4.8M317.2 71.2h5.6m-2.8-2.4v4.8M447.6 38.5h5.6m-2.8-2.4v4.8M139.9 125.1h5.6m-2.8-2.4v4.8M174.1 97.3h5.6m-2.8-2.4v4.8M199.5 107.1h5.6m-2.8-2.4v4.8M143.3 134.2h5.6m-2.8-2.4v4.8M371.0 79.6h5.6m-2.8-2.4v4.8M352.3 63.2h5.6m-2.8-2.4v4.8M428.1 43.5h5.6m-2.8-2.4v4.8M473.8 41.4h5.6m-2.8-2.4v4.8M320.0 86.5h5.6m-2.8-2.4v4.8M343.0 77.7h5.6m-2.8-2.4v4.8M367.5 78.0h5.6m-2.8-2.4v4.8M268.4 80.1h5.6m-2.8-2.4v4.8M435.4 48.9h5.6m-2.8-2.4v4.8M407.3 66.5h5.6m-2.8-2.4v4.8M222.1 102.6h5.6m-2.8-2.4v4.8M363.5 79.5h5.6m-2.8-2.4v4.8M230.7 90.3h5.6m-2.8-2.4v4.8M433.8 62.2h5.6m-2.8-2.4v4.8M141.7 121.4h5.6m-2.8-2.4v4.8M218.8 83.6h5.6m-2.8-2.4v4.8M334.3 84.1h5.6m-2.8-2.4v4.8M469.6 51.9h5.6m-2.8-2.4v4.8M522.5 28.0h5.6m-2.8-2.4v4.8M248.8 100.6h5.6m-2.8-2.4v4.8M227.3 104.6h5.6m-2.8-2.4v4.8M182.1 92.8h5.6m-2.8-2.4v4.8M418.4 72.4h5.6m-2.8-2.4v4.8M183.7 95.0h5.6m-2.8-2.4v4.8M281.8 69.5h5.6m-2.8-2.4v4.8M184.2 100.1h5.6m-2.8-2.4v4.8M138.8 115.0h5.6m-2.8-2.4v4.8M245.8 96.5h5.6m-2.8-2.4v4.8M281.5 67.3h5.6m-2.8-2.4v4.8M141.9 140.5h5.6m-2.8-2.4v4.8M161.8 105.4h5.6m-2.8-2.4v4.8M419.9 68.3h5.6m-2.8-2.4v4.8M217.7 87.4h5.6m-2.8-2.4v4.8M523.0 38.4h5.6m-2.8-2.4v4.8M508.1 36.1h5.6m-2.8-2.4v4.8M480.1 38.2h5.6m-2.8-2.4v4.8M165.0 119.2h5.6m-2.8-2.4v4.8M286.5 89.6h5.6m-2.8-2.4v4.8M358.7 81.7h5.6m-2.8-2.4v4.8M403.4 65.1h5.6m-2.8-2.4v4.8M241.4 101.3h5.6m-2.8-2.4v4.8M213.6 93.5h5.6m-2.8-2.4v4.8M368.7 59.3h5.6m-2.8-2.4v4.8M508.1 53.1h5.6m-2.8-2.4v4.8M439.8 44.8h5.6m-2.8-2.4v4.8M524.7 50.6h5.6m-2.8-2.4v4.8M351.8 64.8h5.6m-2.8-2.4v4.8M479.2 37.0h5.6m-2.8-2.4v4.8M192.4 115.8h5.6m-2.8-2.4v4.8M394.8 73.6h5.6m-2.8-2.4v4.8M491.5 52.1h5.6m-2.8-2.4v4.8M382.3 80.0h5.6m-2.8-2.4v4.8M459.0 60.5h5.6m-2.8-2.4v4.8M299.2 90.9h5.6m-2.8-2.4v4.8M162.2 116.9h5.6m-2.8-2.4v4.8M196.8 109.5h5.6m-2.8-2.4v4.8M319.9 89.0h5.6m-2.8-2.4v4.8M143.9 127.9h5.6m-2.8-2.4v4.8M356.3 63.5h5.6m-2.8-2.4v4.8M327.7 87.3h5.6m-2.8-2.4v4.8M472.6 34.8h5.6m-2.8-2.4v4.8M157.9 122.2h5.6m-2.8-2.4v4.8M502.7 58.9h5.6m-2.8-2.4v4.8M512.8 34.3h5.6m-2.8-2.4v4.8M201.8 107.2h5.6m-2.8-2.4v4.8M318.4 84.7h5.6m-2.8-2.4v4.8M280.5 70.5h5.6m-2.8-2.4v4.8M243.2 98.5h5.6m-2.8-2.4v4.8M338.0 59.5h5.6m-2.8-2.4v4.8M313.6 70.3h5.6m-2.8-2.4v4.8M265.3 77.6h5.6m-2.8-2.4v4.8M326.8 63.0h5.6m-2.8-2.4v4.8M448.7 56.8h5.6m-2.8-2.4v4.8M513.3 33.3h5.6m-2.8-2.4v4.8M502.9 50.4h5.6m-2.8-2.4v4.8M286.8 72.6h5.6m-2.8-2.4v4.8M144.4 129.1h5.6m-2.8-2.4v4.8M231.5 79.8h5.6m-2.8-2.4v4.8M488.4 55.2h5.6m-2.8-2.4v4.8M465.8 38.2h5.6m-2.8-2.4v4.8M262.8 91.7h5.6m-2.8-2.4v4.8M265.2 94.3h5.6m-2.8-2.4v4.8M219.2 100.6h5.6m-2.8-2.4v4.8M305.9 84.0h5.6m-2.8-2.4v4.8M294.6 74.9h5.6m-2.8-2.4v4.8M169.6 120.1h5.6m-2.8-2.4v4.8M264.1 92.0h5.6m-2.8-2.4v4.8M323.9 82.1h5.6m-2.8-2.4v4.8M285.9 70.9h5.6m-2.8-2.4v4.8M262.7 77.7h5.6m-2.8-2.4v4.8M328.4 83.1h5.6m-2.8-2.4v4.8M488.3 33.5h5.6m-2.8-2.4v4.8M166.8 121.7h5.6m-2.8-2.4v4.8M458.9 43.2h5.6m-2.8-2.4v4.8M459.3 39.5h5.6m-2.8-2.4v4.8M205.7 109.5h5.6m-2.8-2.4v4.8M426.6 46.9h5.6m-2.8-2.4v4.8M490.4 51.4h5.6m-2.8-2.4v4.8M312.1 93.3h5.6m-2.8-2.4v4.8M400.7 70.1h5.6m-2.8-2.4v4.8M216.4 105.2h5.6m-2.8-2.4v4.8M322.3 87.0h5.6m-2.8-2.4v4.8M427.1 61.2h5.6m-2.8-2.4v4.8M254.5 83.9h5.6m-2.8-2.4v4.8M421.9 64.4h5.6m-2.8-2.4v4.8M370.4 57.9h5.6m-2.8-2.4v4.8M224.0 107.4h5.6m-2.8-2.4v4.8M346.9 56.5h5.6m-2.8-2.4v4.8M291.6 76.3h5.6m-2.8-2.4v4.8M447.6 40.4h5.6m-2.8-2.4v4.8M171.4 116.7h5.6m-2.8-2.4v4.8M213.2 104.5h5.6m-2.8-2.4v4.8M208.8 92.9h5.6m-2.8-2.4v4.8M266.6 78.4h5.6m-2.8-2.4v4.8M369.2 76.3h5.6m-2.8-2.4v4.8M327.7 66.0h5.6m-2.8-2.4v4.8M405.2 48.9h5.6m-2.8-2.4v4.8M361.6 80.7h5.6m-2.8-2.4v4.8M187.4 95.7h5.6m-2.8-2.4v4.8M374.1 74.0h5.6m-2.8-2.4v4.8M317.5 84.5h5.6m-2.8-2.4v4.8M343.8 65.1h5.6m-2.8-2.4v4.8M475.3 40.6h5.6m-2.8-2.4v4.8M156.6 104.2h5.6m-2.8-2.4v4.8M185.5 100.2h5.6m-2.8-2.4v4.8M422.9 48.9h5.6m-2.8-2.4v4.8M178.5 110.6h5.6m-2.8-2.4v4.8M140.8 119.7h5.6m-2.8-2.4v4.8M519.0 52.0h5.6m-2.8-2.4v4.8M182.9 95.4h5.6m-2.8-2.4v4.8M526.4 40.4h5.6m-2.8-2.4v4.8M167.6 104.4h5.6m-2.8-2.4v4.8M440.5 66.3h5.6m-2.8-2.4v4.8M527.5 28.7h5.6m-2.8-2.4v4.8M486.5 58.6h5.6m-2.8-2.4v4.8M474.0 56.9h5.6m-2.8-2.4v4.8M220.8 105.9h5.6m-2.8-2.4v4.8M247.9 84.0h5.6m-2.8-2.4v4.8M302.4 92.2h5.6m-2.8-2.4v4.8M370.9 74.9h5.6m-2.8-2.4v4.8M527.4 32.4h5.6m-2.8-2.4v4.8M487.6 57.9h5.6m-2.8-2.4v4.8M219.0 80.0h5.6m-2.8-2.4v4.8M483.4 54.9h5.6m-2.8-2.4v4.8M409.8 50.8h5.6m-2.8-2.4v4.8M487.8 34.5h5.6m-2.8-2.4v4.8M432.2 48.2h5.6m-2.8-2.4v4.8M270.0 97.1h5.6m-2.8-2.4v4.8M262.4 71.6h5.6m-2.8-2.4v4.8M213.1 106.7h5.6m-2.8-2.4v4.8M422.9 65.9h5.6m-2.8-2.4v4.8M494.2 33.1h5.6m-2.8-2.4v4.8M392.4 69.5h5.6m-2.8-2.4v4.8M338.4 79.0h5.6m-2.8-2.4v4.8M278.3 94.0h5.6m-2.8-2.4v4.8M458.8 74.0h5.6m-2.8-2.4v4.8M178.6 115.1h5.6m-2.8-2.4v4.8M369.3 54.8h5.6m-2.8-2.4v4.8M467.2 54.9h5.6m-2.8-2.4v4.8M286.1 92.2h5.6m-2.8-2.4v4.8M459.3 38.7h5.6m-2.8-2.4v4.8M468.4 41.6h5.6m-2.8-2.4v4.8M449.6 33.6h5.6m-2.8-2.4v4.8M265.3 92.7h5.6m-2.8-2.4v4.8M393.9 49.6h5.6m-2.8-2.4v4.8M416.5 67.6h5.6m-2.8-2.4v4.8M394.7 68.9h5.6m-2.8-2.4v4.8M526.2 34.4h5.6m-2.8-2.4v4.8M527.5 39.1h5.6m-2.8-2.4v4.8M357.4 65.0h5.6m-2.8-2.4v4.8M155.8 100.2h5.6m-2.8-2.4v4.8M430.5 61.0h5.6m-2.8-2.4v4.8M273.3 80.3h5.6m-2.8-2.4v4.8M401.6 70.7h5.6m-2.8-2.4v4.8M232.6 86.1h5.6m-2.8-2.4v4.8M286.2 72.6h5.6m-2.8-2.4v4.8M442.0 47.9h5.6m-2.8-2.4v4.8M496.8 37.7h5.6m-2.8-2.4v4.8M247.3 79.9h5.6m-2.8-2.4v4.8M526.2 30.6h5.6m-2.8-2.4v4.8M349.5 76.6h5.6m-2.8-2.4v4.8M279.7 91.3h5.6m-2.8-2.4v4.8M504.8 54.6h5.6m-2.8-2.4v4.8M512.5 46.3h5.6m-2.8-2.4v4.8M200.8 94.7h5.6m-2.8-2.4v4.8M422.4 51.5h5.6m-2.8-2.4v4.8M236.1 99.1h5.6m-2.8-2.4v4.8M314.0 91.6h5.6m-2.8-2.4v4.8M158.6 119.6h5.6m-2.8-2.4v4.8M262.7 94.3h5.6m-2.8-2.4v4.8M491.3 36.0h5.6m-2.8-2.4v4.8M340.2 64.3h5.6m-2.8-2.4v4.8M350.7 59.8h5.6m-2.8-2.4v4.8M410.8 67.9h5.6m-2.8-2.4v4.8M264.2 77.6h5.6m-2.8-2.4v4.8M184.7 99.3h5.6m-2.8-2.4v4.8M379.8 57.0h5.6m-2.8-2.4v4.8M510.8 29.5h5.6m-2.8-2.4v4.8M360.3 74.0h5.6m-2.8-2.4v4.8M215.2 90.8h5.6m-2.8-2.4v4.8M269.8 95.2h5.6m-2.8-2.4v4.8M480.5 35.5h5.6m-2.8-2.4v4.8M257.3 96.8h5.6m-2.8-2.4v4.8M505.6 31.4h5.6m-2.8-2.4v4.8M325.1 62.8h5.6m-2.8-2.4v4.8M501.8 53.6h5.6m-2.8-2.4v4.8M147.3 124.3h5.6m-2.8-2.4v4.8M520.9 52.3h5.6m-2.8-2.4v4.8M160.8 101.4h5.6m-2.8-2.4v4.8M523.5 52.4h5.6m-2.8-2.4v4.8M412.9 68.7h5.6m-2.8-2.4v4.8M396.3 57.5h5.6m-2.8-2.4v4.8M390.2 74.1h5.6m-2.8-2.4v4.8M461.4 39.9h5.6m-2.8-2.4v4.8M285.0 74.3h5.6m-2.8-2.4v4.8M215.8 102.3h5.6m-2.8-2.4v4.8M521.6 50.4h5.6m-2.8-2.4v4.8M312.7 88.4h5.6m-2.8-2.4v4.8M244.2 84.7h5.6m-2.8-2.4v4.8M391.9 44.6h5.6m-2.8-2.4v4.8M401.3 71.0h5.6m-2.8-2.4v4.8M370.1 71.9h5.6m-2.8-2.4v4.8M374.9 56.3h5.6m-2.8-2.4v4.8M287.3 77.9h5.6m-2.8-2.4v4.8M174.9 112.5h5.6m-2.8-2.4v4.8M330.8 67.9h5.6m-2.8-2.4v4.8M315.4 73.4h5.6m-2.8-2.4v4.8M469.9 39.3h5.6m-2.8-2.4v4.8M354.2 80.0h5.6m-2.8-2.4v4.8M422.5 63.2h5.6m-2.8-2.4v4.8M309.3 67.6h5.6m-2.8-2.4v4.8M322.9 67.2h5.6m-2.8-2.4v4.8M296.7 92.6h5.6m-2.8-2.4v4.8M340.6 85.4h5.6m-2.8-2.4v4.8M342.1 52.7h5.6m-2.8-2.4v4.8M456.6 58.9h5.6m-2.8-2.4v4.8M215.0 105.1h5.6m-2.8-2.4v4.8M441.7 48.0h5.6m-2.8-2.4v4.8M176.2 117.4h5.6m-2.8-2.4v4.8M471.9 58.8h5.6m-2.8-2.4v4.8M354.6 63.2h5.6m-2.8-2.4v4.8M306.3 68.0h5.6m-2.8-2.4v4.8M357.7 60.6h5.6m-2.8-2.4v4.8M347.9 59.6h5.6m-2.8-2.4v4.8M379.7 72.9h5.6m-2.8-2.4v4.8M257.7 93.8h5.6m-2.8-2.4v4.8M488.3 57.2h5.6m-2.8-2.4v4.8M525.9 33.9h5.6m-2.8-2.4v4.8M189.5 113.8h5.6m-2.8-2.4v4.8M382.1 56.4h5.6m-2.8-2.4v4.8M402.8 65.9h5.6m-2.8-2.4v4.8M360.7 75.6h5.6m-2.8-2.4v4.8M254.6 97.8h5.6m-2.8-2.4v4.8M252.0 104.5h5.6m-2.8-2.4v4.8M407.4 67.7h5.6m-2.8-2.4v4.8M404.2 66.3h5.6m-2.8-2.4v4.8M148.2 110.5h5.6m-2.8-2.4v4.8M264.5 74.1h5.6m-2.8-2.4v4.8M379.6 54.2h5.6m-2.8-2.4v4.8M517.5 47.6h5.6m-2.8-2.4v4.8M171.1 119.3h5.6m-2.8-2.4v4.8M351.9 80.3h5.6m-2.8-2.4v4.8M403.4 51.7h5.6m-2.8-2.4v4.8M165.1 121.7h5.6m-2.8-2.4v4.8M390.6 68.3h5.6m-2.8-2.4v4.8M164.6 119.0h5.6m-2.8-2.4v4.8M334.2 66.5h5.6m-2.8-2.4v4.8M139.8 126.8h5.6m-2.8-2.4v4.8M215.1 88.4h5.6m-2.8-2.4v4.8M262.9 80.2h5.6m-2.8-2.4v4.8M190.4 112.6h5.6m-2.8-2.4v4.8M378.6 73.5h5.6m-2.8-2.4v4.8M505.6 36.1h5.6m-2.8-2.4v4.8M153.9 105.1h5.6m-2.8-2.4v4.8M438.5 49.6h5.6m-2.8-2.4v4.8M244.4 97.5h5.6m-2.8-2.4v4.8M447.5 45.1h5.6m-2.8-2.4v4.8M501.1 35.0h5.6m-2.8-2.4v4.8M501.7 39.8h5.6m-2.8-2.4v4.8M187.2 117.8h5.6m-2.8-2.4v4.8M143.1 126.9h5.6m-2.8-2.4v4.8M435.9 62.7h5.6m-2.8-2.4v4.8M204.5 88.1h5.6m-2.8-2.4v4.8M141.7 104.8h5.6m-2.8-2.4v4.8M235.4 105.4h5.6m-2.8-2.4v4.8M401.5 67.2h5.6m-2.8-2.4v4.8M252.7 81.6h5.6m-2.8-2.4v4.8M185.6 99.0h5.6m-2.8-2.4v4.8M504.3 35.4h5.6m-2.8-2.4v4.8M436.3 43.6h5.6m-2.8-2.4v4.8M423.2 51.0h5.6m-2.8-2.4v4.8M361.1 56.6h5.6m-2.8-2.4v4.8M319.3 82.8h5.6m-2.8-2.4v4.8M238.9 100.9h5.6m-2.8-2.4v4.8M441.6 67.4h5.6m-2.8-2.4v4.8M498.6 50.7h5.6m-2.8-2.4v4.8M153.8 117.8h5.6m-2.8-2.4v4.8M418.3 51.1h5.6m-2.8-2.4v4.8M498.8 37.6h5.6m-2.8-2.4v4.8M241.4 79.0h5.6m-2.8-2.4v4.8M234.0 88.0h5.6m-2.8-2.4v4.8M223.2 88.5h5.6m-2.8-2.4v4.8M345.5 57.9h5.6m-2.8-2.4v4.8M363.7 61.3h5.6m-2.8-2.4v4.8M305.6 87.0h5.6m-2.8-2.4v4.8M254.3 81.1h5.6m-2.8-2.4v4.8M212.9 87.1h5.6m-2.8-2.4v4.8M415.3 74.5h5.6m-2.8-2.4v4.8M516.3 57.3h5.6m-2.8-2.4v4.8M486.8 37.4h5.6m-2.8-2.4v4.8M293.1 96.6h5.6m-2.8-2.4v4.8M352.3 82.1h5.6m-2.8-2.4v4.8M364.8 76.3h5.6m-2.8-2.4v4.8M480.7 42.1h5.6m-2.8-2.4v4.8M179.8 117.8h5.6m-2.8-2.4v4.8M456.0 39.5h5.6m-2.8-2.4v4.8M240.8 84.0h5.6m-2.8-2.4v4.8M180.5 96.5h5.6m-2.8-2.4v4.8M520.0 52.3h5.6m-2.8-2.4v4.8M280.1 91.1h5.6m-2.8-2.4v4.8M251.8 86.1h5.6m-2.8-2.4v4.8M350.1 60.4h5.6m-2.8-2.4v4.8M229.3 84.4h5.6m-2.8-2.4v4.8M158.5 115.4h5.6m-2.8-2.4v4.8M497.1 31.7h5.6m-2.8-2.4v4.8M140.6 116.2h5.6m-2.8-2.4v4.8M477.1 58.8h5.6m-2.8-2.4v4.8M372.5 74.0h5.6m-2.8-2.4v4.8M232.2 90.1h5.6m-2.8-2.4v4.8M188.7 116.1h5.6m-2.8-2.4v4.8M340.6 62.5h5.6m-2.8-2.4v4.8M482.5 53.4h5.6m-2.8-2.4v4.8M177.5 99.8h5.6m-2.8-2.4v4.8M149.1 107.4h5.6m-2.8-2.4v4.8M500.4 50.8h5.6m-2.8-2.4v4.8M523.4 50.9h5.6m-2.8-2.4v4.8M147.9 126.4h5.6m-2.8-2.4v4.8M265.6 75.6h5.6m-2.8-2.4v4.8M151.0 105.9h5.6m-2.8-2.4v4.8M143.4 110.9h5.6m-2.8-2.4v4.8M297.1 90.2h5.6m-2.8-2.4v4.8M179.7 98.7h5.6m-2.8-2.4v4.8M275.7 75.1h5.6m-2.8-2.4v4.8M508.6 47.0h5.6m-2.8-2.4v4.8M252.9 83.2h5.6m-2.8-2.4v4.8M362.6 75.1h5.6m-2.8-2.4v4.8M330.7 66.0h5.6m-2.8-2.4v4.8M318.3 83.8h5.6m-2.8-2.4v4.8M278.5 71.0h5.6m-2.8-2.4v4.8M326.5 80.8h5.6m-2.8-2.4v4.8M148.1 107.5h5.6m-2.8-2.4v4.8M475.7 41.2h5.6m-2.8-2.4v4.8M196.8 91.1h5.6m-2.8-2.4v4.8M359.2 78.1h5.6m-2.8-2.4v4.8M172.4 101.7h5.6m-2.8-2.4v4.8M237.4 99.8h5.6m-2.8-2.4v4.8M405.0 68.9h5.6m-2.8-2.4v4.8M142.1 124.3h5.6m-2.8-2.4v4.8M295.2 72.0h5.6m-2.8-2.4v4.8M467.2 39.6h5.6m-2.8-2.4v4.8M260.2 96.5h5.6m-2.8-2.4v4.8M430.4 64.3h5.6m-2.8-2.4v4.8M188.8 95.3h5.6m-2.8-2.4v4.8M440.3 41.8h5.6m-2.8-2.4v4.8M499.8 52.2h5.6m-2.8-2.4v4.8M391.2 53.2h5.6m-2.8-2.4v4.8M207.1 109.5h5.6m-2.8-2.4v4.8M437.5 62.2h5.6m-2.8-2.4v4.8M303.5 89.6h5.6m-2.8-2.4v4.8M410.5 64.5h5.6m-2.8-2.4v4.8M483.9 58.6h5.6m-2.8-2.4v4.8M367.9 55.6h5.6m-2.8-2.4v4.8M228.0 102.3h5.6m-2.8-2.4v4.8M380.1 78.6h5.6m-2.8-2.4v4.8M360.7 75.8h5.6m-2.8-2.4v4.8M214.0 91.5h5.6m-2.8-2.4v4.8M363.1 61.0h5.6m-2.8-2.4v4.8M329.9 65.2h5.6m-2.8-2.4v4.8M243.2 82.6h5.6m-2.8-2.4v4.8M271.7 80.6h5.6m-2.8-2.4v4.8M374.3 57.2h5.6m-2.8-2.4v4.8M283.7 89.3h5.6m-2.8-2.4v4.8M488.8 32.3h5.6m-2.8-2.4v4.8M430.7 67.1h5.6m-2.8-2.4v4.8M520.2 35.3h5.6m-2.8-2.4v4.8M376.6 58.7h5.6m-2.8-2.4v4.8M306.1 72.8h5.6m-2.8-2.4v4.8M291.5 91.6h5.6m-2.8-2.4v4.8M153.0 122.5h5.6m-2.8-2.4v4.8M147.5 127.7h5.6m-2.8-2.4v4.8M230.7 101.4h5.6m-2.8-2.4v4.8M425.9 44.9h5.6m-2.8-2.4v4.8M438.8 62.1h5.6m-2.8-2.4v4.8M378.3 57.2h5.6m-2.8-2.4v4.8M148.9 121.2h5.6m-2.8-2.4v4.8M346.6 56.5h5.6m-2.8-2.4v4.8M355.5 60.0h5.6m-2.8-2.4v4.8M384.7 69.6h5.6m-2.8-2.4v4.8M254.5 80.7h5.6m-2.8-2.4v4.8M466.1 53.2h5.6m-2.8-2.4v4.8M148.1 110.9h5.6m-2.8-2.4v4.8M214.9 92.4h5.6m-2.8-2.4v4.8M527.1 34.1h5.6m-2.8-2.4v4.8M451.4 42.7h5.6m-2.8-2.4v4.8M365.1 73.0h5.6m-2.8-2.4v4.8M525.7 32.3h5.6m-2.8-2.4v4.8M248.6 77.8h5.6m-2.8-2.4v4.8M489.2 36.0h5.6m-2.8-2.4v4.8M337.1 63.9h5.6m-2.8-2.4v4.8M219.8 107.1h5.6m-2.8-2.4v4.8M411.0 52.0h5.6m-2.8-2.4v4.8M367.9 57.9h5.6m-2.8-2.4v4.8M476.6 35.4h5.6m-2.8-2.4v4.8M316.9 70.9h5.6m-2.8-2.4v4.8M232.1 89.9h5.6m-2.8-2.4v4.8M190.5 98.4h5.6m-2.8-2.4v4.8M141.7 125.0h5.6m-2.8-2.4v4.8M256.9 103.0h5.6m-2.8-2.4v4.8M182.2 115.9h5.6m-2.8-2.4v4.8M373.6 59.2h5.6m-2.8-2.4v4.8M282.5 91.7h5.6m-2.8-2.4v4.8M500.0 56.9h5.6m-2.8-2.4v4.8M473.4 54.3h5.6m-2.8-2.4v4.8M256.8 98.4h5.6m-2.8-2.4v4.8M479.3 42.0h5.6m-2.8-2.4v4.8M362.7 76.8h5.6m-2.8-2.4v4.8M166.0 106.3h5.6m-2.8-2.4v4.8M468.8 57.9h5.6m-2.8-2.4v4.8M195.0 110.0h5.6m-2.8-2.4v4.8M336.9 69.2h5.6m-2.8-2.4v4.8M277.7 90.4h5.6m-2.8-2.4v4.8M316.7 70.8h5.6m-2.8-2.4v4.8M314.6 88.5h5.6m-2.8-2.4v4.8M287.0 76.0h5.6m-2.8-2.4v4.8M297.1 88.9h5.6m-2.8-2.4v4.8M306.4 84.6h5.6m-2.8-2.4v4.8M524.2 46.2h5.6m-2.8-2.4v4.8M452.0 40.4h5.6m-2.8-2.4v4.8M375.7 55.2h5.6m-2.8-2.4v4.8M143.3 113.0h5.6m-2.8-2.4v4.8M380.1 59.6h5.6m-2.8-2.4v4.8M278.9 93.8h5.6m-2.8-2.4v4.8M412.5 72.6h5.6m-2.8-2.4v4.8M288.3 91.4h5.6m-2.8-2.4v4.8M459.8 39.1h5.6m-2.8-2.4v4.8M398.8 71.9h5.6m-2.8-2.4v4.8M181.8 93.7h5.6m-2.8-2.4v4.8M226.1 78.0h5.6m-2.8-2.4v4.8M243.7 97.5h5.6m-2.8-2.4v4.8M377.1 74.7h5.6m-2.8-2.4v4.8M278.3 74.3h5.6m-2.8-2.4v4.8M341.7 78.7h5.6m-2.8-2.4v4.8M439.8 62.8h5.6m-2.8-2.4v4.8M293.7 97.3h5.6m-2.8-2.4v4.8M340.7 61.9h5.6m-2.8-2.4v4.8M255.2 101.8h5.6m-2.8-2.4v4.8M320.9 89.9h5.6m-2.8-2.4v4.8M377.2 57.5h5.6m-2.8-2.4v4.8M406.7 67.1h5.6m-2.8-2.4v4.8M345.5 77.0h5.6m-2.8-2.4v4.8M316.8 70.7h5.6m-2.8-2.4v4.8M437.0 67.0h5.6m-2.8-2.4v4.8M470.7 39.6h5.6m-2.8-2.4v4.8M426.8 61.8h5.6m-2.8-2.4v4.8M314.3 87.1h5.6m-2.8-2.4v4.8M324.9 84.3h5.6m-2.8-2.4v4.8M523.2 42.1h5.6m-2.8-2.4v4.8M437.2 63.9h5.6m-2.8-2.4v4.8M465.2 41.5h5.6m-2.8-2.4v4.8M156.5 102.0h5.6m-2.8-2.4v4.8M377.3 75.8h5.6m-2.8-2.4v4.8M204.0 92.0h5.6m-2.8-2.4v4.8M283.9 91.3h5.6m-2.8-2.4v4.8M204.1 112.8h5.6m-2.8-2.4v4.8M212.5 90.8h5.6m-2.8-2.4v4.8M168.6 104.8h5.6m-2.8-2.4v4.8M329.4 84.9h5.6m-2.8-2.4v4.8M504.2 53.8h5.6m-2.8-2.4v4.8M198.2 91.5h5.6m-2.8-2.4v4.8M337.4 67.4h5.6m-2.8-2.4v4.8M507.5 35.0h5.6m-2.8-2.4v4.8M314.3 90.3h5.6m-2.8-2.4v4.8M220.7 84.3h5.6m-2.8-2.4v4.8M362.3 82.2h5.6m-2.8-2.4v4.8M307.7 94.2h5.6m-2.8-2.4v4.8M198.1 107.1h5.6m-2.8-2.4v4.8M264.5 97.6h5.6m-2.8-2.4v4.8M324.9 82.3h5.6m-2.8-2.4v4.8M413.3 65.3h5.6m-2.8-2.4v4.8M436.3 63.0h5.6m-2.8-2.4v4.8M326.2 60.6h5.6m-2.8-2.4v4.8M183.2 100.1h5.6m-2.8-2.4v4.8M398.6 50.5h5.6m-2.8-2.4v4.8M228.8 104.2h5.6m-2.8-2.4v4.8M426.2 68.0h5.6m-2.8-2.4v4.8M510.0 34.5h5.6m-2.8-2.4v4.8M471.1 36.4h5.6m-2.8-2.4v4.8M245.8 102.2h5.6m-2.8-2.4v4.8M311.7 91.9h5.6m-2.8-2.4v4.8M367.3 76.1h5.6m-2.8-2.4v4.8M360.4 63.3h5.6m-2.8-2.4v4.8M472.5 40.9h5.6m-2.8-2.4v4.8M523.9 45.0h5.6m-2.8-2.4v4.8M362.5 55.7h5.6m-2.8-2.4v4.8M413.9 50.2h5.6m-2.8-2.4v4.8M363.4 57.3h5.6m-2.8-2.4v4.8M202.0 87.4h5.6m-2.8-2.4v4.8M492.3 33.2h5.6m-2.8-2.4v4.8M317.6 71.9h5.6m-2.8-2.4v4.8M476.5 37.3h5.6m-2.8-2.4v4.8M369.5 59.1h5.6m-2.8-2.4v4.8M242.0 95.4h5.6m-2.8-2.4v4.8M428.1 61.9h5.6m-2.8-2.4v4.8M519.7 31.5h5.6m-2.8-2.4v4.8M376.0 61.5h5.6m-2.8-2.4v4.8M427.8 62.4h5.6m-2.8-2.4v4.8M245.4 83.9h5.6m-2.8-2.4v4.8M344.4 76.5h5.6m-2.8-2.4v4.8M288.2 74.1h5.6m-2.8-2.4v4.8M405.5 69.7h5.6m-2.8-2.4v4.8M505.4 27.0h5.6m-2.8-2.4v4.8M141.3 122.2h5.6m-2.8-2.4v4.8M348.5 77.4h5.6m-2.8-2.4v4.8M447.1 41.0h5.6m-2.8-2.4v4.8M375.5 55.6h5.6m-2.8-2.4v4.8M480.4 55.9h5.6m-2.8-2.4v4.8M340.8 85.0h5.6m-2.8-2.4v4.8M467.3 39.5h5.6m-2.8-2.4v4.8M347.5 75.8h5.6m-2.8-2.4v4.8M163.0 117.7h5.6m-2.8-2.4v4.8M517.6 35.2h5.6m-2.8-2.4v4.8M155.9 120.9h5.6m-2.8-2.4v4.8M247.2 97.8h5.6m-2.8-2.4v4.8M391.4 71.7h5.6m-2.8-2.4v4.8M222.1 84.6h5.6m-2.8-2.4v4.8M484.3 35.4h5.6m-2.8-2.4v4.8M312.8 95.3h5.6m-2.8-2.4v4.8M474.9 42.4h5.6m-2.8-2.4v4.8M219.6 84.3h5.6m-2.8-2.4v4.8M478.3 59.0h5.6m-2.8-2.4v4.8M410.2 67.1h5.6m-2.8-2.4v4.8M179.6 96.2h5.6m-2.8-2.4v4.8M282.9 74.3h5.6m-2.8-2.4v4.8M242.3 95.5h5.6m-2.8-2.4v4.8M468.2 53.6h5.6m-2.8-2.4v4.8M526.3 55.2h5.6m-2.8-2.4v4.8M176.5 113.7h5.6m-2.8-2.4v4.8M402.9 51.2h5.6m-2.8-2.4v4.8M296.7 91.5h5.6m-2.8-2.4v4.8M479.8 40.1h5.6m-2.8-2.4v4.8M346.9 75.9h5.6m-2.8-2.4v4.8M367.1 60.7h5.6m-2.8-2.4v4.8M437.0 47.5h5.6m-2.8-2.4v4.8M215.6 91.4h5.6m-2.8-2.4v4.8M293.4 76.1h5.6m-2.8-2.4v4.8M156.6 122.3h5.6m-2.8-2.4v4.8M387.7 53.2h5.6m-2.8-2.4v4.8M225.2 105.2h5.6m-2.8-2.4v4.8M263.8 77.4h5.6m-2.8-2.4v4.8M220.6 101.5h5.6m-2.8-2.4v4.8M165.4 121.0h5.6m-2.8-2.4v4.8M380.1 74.1h5.6m-2.8-2.4v4.8M341.4 82.7h5.6m-2.8-2.4v4.8M157.3 102.2h5.6m-2.8-2.4v4.8M507.4 52.4h5.6m-2.8-2.4v4.8M327.3 62.9h5.6m-2.8-2.4v4.8M350.0 76.4h5.6m-2.8-2.4v4.8M288.4 91.7h5.6m-2.8-2.4v4.8M179.7 111.0h5.6m-2.8-2.4v4.8M411.1 49.3h5.6m-2.8-2.4v4.8M147.6 121.9h5.6m-2.8-2.4v4.8M223.0 79.5h5.6m-2.8-2.4v4.8M365.7 73.6h5.6m-2.8-2.4v4.8M213.4 111.1h5.6m-2.8-2.4v4.8M521.1 36.4h5.6m-2.8-2.4v4.8M160.6 119.8h5.6m-2.8-2.4v4.8M425.6 46.2h5.6m-2.8-2.4v4.8M427.7 47.3h5.6m-2.8-2.4v4.8M141.1 114.6h5.6m-2.8-2.4v4.8M531.4 148.6h5.6m-2.8-2.4v4.8M528.7 48.9h5.6m-2.8-2.4v4.8M531.3 158.6h5.6m-2.8-2.4v4.8M530.1 81.9h5.6m-2.8-2.4v4.8M529.9 67.2h5.6m-2.8-2.4v4.8M531.0 86.2h5.6m-2.8-2.4v4.8M530.8 141.4h5.6m-2.8-2.4v4.8M530.8 116.8h5.6m-2.8-2.4v4.8M531.2 167.7h5.6m-2.8-2.4v4.8M529.1 59.5h5.6m-2.8-2.4v4.8M532.5 171.7h5.6m-2.8-2.4v4.8M530.1 47.4h5.6m-2.8-2.4v4.8M531.5 130.8h5.6m-2.8-2.4v4.8M530.7 63.6h5.6m-2.8-2.4v4.8M530.3 47.8h5.6m-2.8-2.4v4.8M532.0 101.1h5.6m-2.8-2.4v4.8M531.5 176.1h5.6m-2.8-2.4v4.8M531.5 173.6h5.6m-2.8-2.4v4.8M530.9 118.0h5.6m-2.8-2.4v4.8M529.7 81.1h5.6m-2.8-2.4v4.8M530.7 118.0h5.6m-2.8-2.4v4.8M531.1 127.5h5.6m-2.8-2.4v4.8M530.2 128.0h5.6m-2.8-2.4v4.8M530.7 61.9h5.6m-2.8-2.4v4.8M531.1 147.3h5.6m-2.8-2.4v4.8M529.7 78.0h5.6m-2.8-2.4v4.8M529.7 81.6h5.6m-2.8-2.4v4.8M531.2 113.0h5.6m-2.8-2.4v4.8M530.5 109.2h5.6m-2.8-2.4v4.8M532.0 142.0h5.6m-2.8-2.4v4.8M529.9 111.3h5.6m-2.8-2.4v4.8M531.0 167.0h5.6m-2.8-2.4v4.8M530.6 93.5h5.6m-2.8-2.4v4.8M529.9 61.2h5.6m-2.8-2.4v4.8M530.5 73.8h5.6m-2.8-2.4v4.8M530.1 49.2h5.6m-2.8-2.4v4.8M531.8 85.0h5.6m-2.8-2.4v4.8M531.9 139.2h5.6m-2.8-2.4v4.8M531.3 151.9h5.6m-2.8-2.4v4.8M530.6 107.9h5.6m-2.8-2.4v4.8M531.1 127.2h5.6m-2.8-2.4v4.8M530.0 73.9h5.6m-2.8-2.4v4.8M531.4 153.1h5.6m-2.8-2.4v4.8M530.6 114.1h5.6m-2.8-2.4v4.8M531.3 129.7h5.6m-2.8-2.4v4.8M530.4 104.7h5.6m-2.8-2.4v4.8M529.9 88.1h5.6m-2.8-2.4v4.8M530.9 87.9h5.6m-2.8-2.4v4.8M530.9 149.9h5.6m-2.8-2.4v4.8M531.4 141.4h5.6m-2.8-2.4v4.8M530.7 65.3h5.6m-2.8-2.4v4.8M530.4 74.7h5.6m-2.8-2.4v4.8M530.7 118.7h5.6m-2.8-2.4v4.8M530.2 96.6h5.6m-2.8-2.4v4.8M530.1 94.3h5.6m-2.8-2.4v4.8M530.4 52.7h5.6m-2.8-2.4v4.8M529.0 80.7h5.6m-2.8-2.4v4.8M530.8 128.1h5.6m-2.8-2.4v4.8M532.2 175.8h5.6m-2.8-2.4v4.8M531.2 100.2h5.6m-2.8-2.4v4.8M531.6 208.8h5.6m-2.8-2.4v4.8M532.0 215.9h5.6m-2.8-2.4v4.8M531.8 205.4h5.6m-2.8-2.4v4.8M531.3 193.6h5.6m-2.8-2.4v4.8M531.8 220.9h5.6m-2.8-2.4v4.8M531.3 191.4h5.6m-2.8-2.4v4.8M532.1 183.4h5.6m-2.8-2.4v4.8M531.0 196.6h5.6m-2.8-2.4v4.8M531.4 218.7h5.6m-2.8-2.4v4.8M530.7 185.7h5.6m-2.8-2.4v4.8M531.7 223.4h5.6m-2.8-2.4v4.8M531.7 225.1h5.6m-2.8-2.4v4.8M533.1 234.8h5.6m-2.8-2.4v4.8M531.6 203.2h5.6m-2.8-2.4v4.8M532.7 238.3h5.6m-2.8-2.4v4.8M532.6 203.2h5.6m-2.8-2.4v4.8M574.9 298.6h5.6m-2.8-2.4v4.8M591.1 265.0h5.6m-2.8-2.4v4.8M537.4 261.1h5.6m-2.8-2.4v4.8M552.4 281.8h5.6m-2.8-2.4v4.8M619.7 277.4h5.6m-2.8-2.4v4.8M652.5 257.0h5.6m-2.8-2.4v4.8M555.5 251.3h5.6m-2.8-2.4v4.8M557.2 275.1h5.6m-2.8-2.4v4.8M547.9 320.9h5.6m-2.8-2.4v4.8M612.4 281.0h5.6m-2.8-2.4v4.8M616.3 249.8h5.6m-2.8-2.4v4.8M609.1 243.7h5.6m-2.8-2.4v4.8M626.1 302.0h5.6m-2.8-2.4v4.8M549.6 271.0h5.6m-2.8-2.4v4.8M544.2 260.6h5.6m-2.8-2.4v4.8M600.0 269.9h5.6m-2.8-2.4v4.8M609.8 257.5h5.6m-2.8-2.4v4.8M585.8 252.1h5.6m-2.8-2.4v4.8M641.6 269.7h5.6m-2.8-2.4v4.8M536.5 261.4h5.6m-2.8-2.4v4.8M636.3 246.8h5.6m-2.8-2.4v4.8M554.9 275.6h5.6m-2.8-2.4v4.8M620.2 288.1h5.6m-2.8-2.4v4.8M624.8 287.1h5.6m-2.8-2.4v4.8M597.2 261.7h5.6m-2.8-2.4v4.8M592.4 255.4h5.6m-2.8-2.4v4.8M609.1 283.7h5.6m-2.8-2.4v4.8M585.5 272.9h5.6m-2.8-2.4v4.8M654.1 245.0h5.6m-2.8-2.4v4.8M612.2 280.3h5.6m-2.8-2.4v4.8M617.8 278.1h5.6m-2.8-2.4v4.8M574.3 275.1h5.6m-2.8-2.4v4.8M568.5 250.8h5.6m-2.8-2.4v4.8M601.7 250.5h5.6m-2.8-2.4v4.8M591.4 282.6h5.6m-2.8-2.4v4.8M588.8 254.3h5.6m-2.8-2.4v4.8M588.8 278.0h5.6m-2.8-2.4v4.8M549.8 249.5h5.6m-2.8-2.4v4.8M633.6 255.5h5.6m-2.8-2.4v4.8M589.9 285.9h5.6m-2.8-2.4v4.8M588.4 292.1h5.6m-2.8-2.4v4.8M644.7 280.3h5.6m-2.8-2.4v4.8M557.3 266.9h5.6m-2.8-2.4v4.8M592.2 256.7h5.6m-2.8-2.4v4.8M557.7 272.8h5.6m-2.8-2.4v4.8M579.6 279.9h5.6m-2.8-2.4v4.8M554.6 290.8h5.6m-2.8-2.4v4.8M573.9 267.9h5.6m-2.8-2.4v4.8M620.4 252.5h5.6m-2.8-2.4v4.8M631.2 293.7h5.6m-2.8-2.4v4.8M597.2 272.6h5.6m-2.8-2.4v4.8M564.4 278.7h5.6m-2.8-2.4v4.8M649.5 258.1h5.6m-2.8-2.4v4.8M562.0 246.6h5.6m-2.8-2.4v4.8M625.2 271.6h5.6m-2.8-2.4v4.8M563.9 268.8h5.6m-2.8-2.4v4.8M571.3 261.9h5.6m-2.8-2.4v4.8M619.7 269.3h5.6m-2.8-2.4v4.8M628.2 288.6h5.6m-2.8-2.4v4.8M631.4 289.7h5.6m-2.8-2.4v4.8M620.5 276.1h5.6m-2.8-2.4v4.8M572.0 254.9h5.6m-2.8-2.4v4.8M570.9 281.0h5.6m-2.8-2.4v4.8M606.4 281.8h5.6m-2.8-2.4v4.8M577.7 279.9h5.6m-2.8-2.4v4.8M614.4 267.8h5.6m-2.8-2.4v4.8M538.7 288.1h5.6m-2.8-2.4v4.8M574.2 252.2h5.6m-2.8-2.4v4.8M557.0 257.5h5.6m-2.8-2.4v4.8M577.4 266.7h5.6m-2.8-2.4v4.8M615.0 283.7h5.6m-2.8-2.4v4.8M592.5 307.7h5.6m-2.8-2.4v4.8M616.5 258.8h5.6m-2.8-2.4v4.8M653.0 260.1h5.6m-2.8-2.4v4.8M566.7 269.5h5.6m-2.8-2.4v4.8M625.2 266.4h5.6m-2.8-2.4v4.8M567.0 274.4h5.6m-2.8-2.4v4.8M593.2 276.5h5.6m-2.8-2.4v4.8M613.5 252.4h5.6m-2.8-2.4v4.8M622.1 283.7h5.6m-2.8-2.4v4.8M556.9 269.9h5.6m-2.8-2.4v4.8M590.6 263.1h5.6m-2.8-2.4v4.8M613.3 307.1h5.6m-2.8-2.4v4.8M538.9 249.3h5.6m-2.8-2.4v4.8M636.0 260.0h5.6m-2.8-2.4v4.8M619.2 265.9h5.6m-2.8-2.4v4.8M579.7 259.8h5.6m-2.8-2.4v4.8M612.3 312.9h5.6m-2.8-2.4v4.8M608.5 265.8h5.6m-2.8-2.4v4.8M632.2 246.7h5.6m-2.8-2.4v4.8M640.1 287.7h5.6m-2.8-2.4v4.8M582.9 264.8h5.6m-2.8-2.4v4.8M596.1 258.4h5.6m-2.8-2.4v4.8M537.4 253.9h5.6m-2.8-2.4v4.8M572.8 294.8h5.6m-2.8-2.4v4.8M607.4 253.7h5.6m-2.8-2.4v4.8M590.8 321.0h5.6m-2.8-2.4v4.8M538.8 272.7h5.6m-2.8-2.4v4.8M597.2 281.7h5.6m-2.8-2.4v4.8M548.5 272.6h5.6m-2.8-2.4v4.8M640.5 264.7h5.6m-2.8-2.4v4.8M651.7 246.2h5.6m-2.8-2.4v4.8M565.0 314.2h5.6m-2.8-2.4v4.8M614.4 260.1h5.6m-2.8-2.4v4.8M568.6 261.2h5.6m-2.8-2.4v4.8M591.2 283.6h5.6m-2.8-2.4v4.8M558.9 270.1h5.6m-2.8-2.4v4.8M549.5 260.0h5.6m-2.8-2.4v4.8M593.7 269.2h5.6m-2.8-2.4v4.8M574.9 276.5h5.6m-2.8-2.4v4.8M643.1 279.3h5.6m-2.8-2.4v4.8M623.0 244.9h5.6m-2.8-2.4v4.8M540.0 293.6h5.6m-2.8-2.4v4.8M623.5 279.8h5.6m-2.8-2.4v4.8M579.0 248.5h5.6m-2.8-2.4v4.8M557.6 331.0h5.6m-2.8-2.4v4.8M559.3 301.5h5.6m-2.8-2.4v4.8M553.4 258.5h5.6m-2.8-2.4v4.8M602.2 273.5h5.6m-2.8-2.4v4.8M577.5 271.4h5.6m-2.8-2.4v4.8M625.8 286.5h5.6m-2.8-2.4v4.8M646.2 279.7h5.6m-2.8-2.4v4.8M628.5 291.8h5.6m-2.8-2.4v4.8M553.7 272.4h5.6m-2.8-2.4v4.8M588.1 269.5h5.6m-2.8-2.4v4.8M638.7 266.9h5.6m-2.8-2.4v4.8M578.2 253.1h5.6m-2.8-2.4v4.8M554.7 258.2h5.6m-2.8-2.4v4.8M562.1 279.7h5.6m-2.8-2.4v4.8M640.7 278.2h5.6m-2.8-2.4v4.8M568.9 271.9h5.6m-2.8-2.4v4.8M564.6 267.9h5.6m-2.8-2.4v4.8M572.0 266.8h5.6m-2.8-2.4v4.8M610.1 287.2h5.6m-2.8-2.4v4.8M592.2 273.7h5.6m-2.8-2.4v4.8M654.0 213.9h5.6m-2.8-2.4v4.8M595.7 261.1h5.6m-2.8-2.4v4.8M589.3 298.5h5.6m-2.8-2.4v4.8M637.3 241.6h5.6m-2.8-2.4v4.8M601.3 284.6h5.6m-2.8-2.4v4.8M591.1 269.4h5.6m-2.8-2.4v4.8M538.7 277.0h5.6m-2.8-2.4v4.8M565.4 272.2h5.6m-2.8-2.4v4.8M589.4 269.4h5.6m-2.8-2.4v4.8M555.8 293.5h5.6m-2.8-2.4v4.8M563.5 265.1h5.6m-2.8-2.4v4.8M603.7 255.8h5.6m-2.8-2.4v4.8M540.3 279.6h5.6m-2.8-2.4v4.8M601.4 322.8h5.6m-2.8-2.4v4.8M569.1 266.2h5.6m-2.8-2.4v4.8M583.4 283.7h5.6m-2.8-2.4v4.8M646.6 299.4h5.6m-2.8-2.4v4.8M654.6 224.6h5.6m-2.8-2.4v4.8M628.1 267.5h5.6m-2.8-2.4v4.8M565.6 281.9h5.6m-2.8-2.4v4.8M640.8 283.8h5.6m-2.8-2.4v4.8M605.3 288.9h5.6m-2.8-2.4v4.8M606.7 266.0h5.6m-2.8-2.4v4.8M601.0 248.1h5.6m-2.8-2.4v4.8M650.7 252.0h5.6m-2.8-2.4v4.8M552.7 288.6h5.6m-2.8-2.4v4.8M537.9 299.1h5.6m-2.8-2.4v4.8M607.4 254.6h5.6m-2.8-2.4v4.8M593.7 274.6h5.6m-2.8-2.4v4.8M627.3 280.3h5.6m-2.8-2.4v4.8M618.8 305.7h5.6m-2.8-2.4v4.8M627.3 272.3h5.6m-2.8-2.4v4.8M582.2 292.6h5.6m-2.8-2.4v4.8M595.1 277.9h5.6m-2.8-2.4v4.8M619.3 281.0h5.6m-2.8-2.4v4.8M541.8 273.3h5.6m-2.8-2.4v4.8M564.9 284.4h5.6m-2.8-2.4v4.8M637.1 252.9h5.6m-2.8-2.4v4.8M599.8 261.7h5.6m-2.8-2.4v4.8M643.3 276.7h5.6m-2.8-2.4v4.8M550.9 288.3h5.6m-2.8-2.4v4.8M640.8 228.9h5.6m-2.8-2.4v4.8M564.1 290.8h5.6m-2.8-2.4v4.8M625.4 312.6h5.6m-2.8-2.4v4.8M549.2 276.5h5.6m-2.8-2.4v4.8M616.0 250.4h5.6m-2.8-2.4v4.8M609.4 275.2h5.6m-2.8-2.4v4.8M609.1 260.4h5.6m-2.8-2.4v4.8M605.2 261.4h5.6m-2.8-2.4v4.8M538.7 285.8h5.6m-2.8-2.4v4.8M541.5 293.5h5.6m-2.8-2.4v4.8M573.9 291.9h5.6m-2.8-2.4v4.8M601.4 252.4h5.6m-2.8-2.4v4.8M576.5 290.1h5.6m-2.8-2.4v4.8M549.7 277.4h5.6m-2.8-2.4v4.8M636.1 253.2h5.6m-2.8-2.4v4.8M628.7 279.2h5.6m-2.8-2.4v4.8M544.0 256.3h5.6m-2.8-2.4v4.8M636.0 291.4h5.6m-2.8-2.4v4.8M578.0 281.2h5.6m-2.8-2.4v4.8M556.4 283.1h5.6m-2.8-2.4v4.8M630.5 271.8h5.6m-2.8-2.4v4.8M576.0 273.7h5.6m-2.8-2.4v4.8M620.0 270.4h5.6m-2.8-2.4v4.8M600.6 280.1h5.6m-2.8-2.4v4.8M566.2 246.6h5.6m-2.8-2.4v4.8M547.3 258.4h5.6m-2.8-2.4v4.8M613.2 268.8h5.6m-2.8-2.4v4.8M572.3 268.5h5.6m-2.8-2.4v4.8M613.0 241.7h5.6m-2.8-2.4v4.8M582.7 313.9h5.6m-2.8-2.4v4.8M586.3 268.2h5.6m-2.8-2.4v4.8M584.4 268.4h5.6m-2.8-2.4v4.8M548.9 281.7h5.6m-2.8-2.4v4.8M638.2 275.3h5.6m-2.8-2.4v4.8M654.4 246.4h5.6m-2.8-2.4v4.8M592.3 293.5h5.6m-2.8-2.4v4.8M551.0 283.9h5.6m-2.8-2.4v4.8M546.6 256.1h5.6m-2.8-2.4v4.8M560.9 242.1h5.6m-2.8-2.4v4.8M626.5 239.9h5.6m-2.8-2.4v4.8M601.7 244.2h5.6m-2.8-2.4v4.8M563.3 296.9h5.6m-2.8-2.4v4.8M581.5 278.8h5.6m-2.8-2.4v4.8M599.0 281.5h5.6m-2.8-2.4v4.8M578.6 301.8h5.6m-2.8-2.4v4.8M553.5 254.9h5.6m-2.8-2.4v4.8M578.4 274.9h5.6m-2.8-2.4v4.8M629.1 276.7h5.6m-2.8-2.4v4.8M547.9 276.4h5.6m-2.8-2.4v4.8M637.3 245.5h5.6m-2.8-2.4v4.8M594.0 260.7h5.6m-2.8-2.4v4.8M635.6 249.8h5.6m-2.8-2.4v4.8M566.3 257.4h5.6m-2.8-2.4v4.8M556.4 274.4h5.6m-2.8-2.4v4.8M632.8 270.1h5.6m-2.8-2.4v4.8M651.9 239.0h5.6m-2.8-2.4v4.8M600.8 271.3h5.6m-2.8-2.4v4.8M550.3 262.5h5.6m-2.8-2.4v4.8M542.1 250.4h5.6m-2.8-2.4v4.8M570.9 291.6h5.6m-2.8-2.4v4.8M575.7 257.5h5.6m-2.8-2.4v4.8M559.9 293.5h5.6m-2.8-2.4v4.8M580.2 274.6h5.6m-2.8-2.4v4.8M638.2 238.6h5.6m-2.8-2.4v4.8M638.2 254.6h5.6m-2.8-2.4v4.8M614.2 261.7h5.6m-2.8-2.4v4.8M609.1 271.8h5.6m-2.8-2.4v4.8M587.4 293.9h5.6m-2.8-2.4v4.8M630.1 300.6h5.6m-2.8-2.4v4.8M604.1 300.9h5.6m-2.8-2.4v4.8M649.4 259.6h5.6m-2.8-2.4v4.8M548.8 259.0h5.6m-2.8-2.4v4.8M610.7 257.9h5.6m-2.8-2.4v4.8M615.4 290.3h5.6m-2.8-2.4v4.8M553.4 254.3h5.6m-2.8-2.4v4.8M635.5 274.3h5.6m-2.8-2.4v4.8M617.4 285.7h5.6m-2.8-2.4v4.8M644.9 267.6h5.6m-2.8-2.4v4.8M607.6 242.5h5.6m-2.8-2.4v4.8M548.0 263.1h5.6m-2.8-2.4v4.8M543.4 270.0h5.6m-2.8-2.4v4.8M539.7 257.2h5.6m-2.8-2.4v4.8M609.0 266.6h5.6m-2.8-2.4v4.8M601.9 340.8h5.6m-2.8-2.4v4.8M613.6 297.4h5.6m-2.8-2.4v4.8M615.3 251.2h5.6m-2.8-2.4v4.8M542.1 267.5h5.6m-2.8-2.4v4.8M560.1 299.3h5.6m-2.8-2.4v4.8M539.0 260.1h5.6m-2.8-2.4v4.8M639.3 272.2h5.6m-2.8-2.4v4.8M594.6 272.6h5.6m-2.8-2.4v4.8M624.1 274.3h5.6m-2.8-2.4v4.8M570.2 258.8h5.6m-2.8-2.4v4.8M592.0 286.3h5.6m-2.8-2.4v4.8M622.0 270.7h5.6m-2.8-2.4v4.8M611.5 308.3h5.6m-2.8-2.4v4.8M630.7 244.0h5.6m-2.8-2.4v4.8M609.1 256.8h5.6m-2.8-2.4v4.8M616.5 284.9h5.6m-2.8-2.4v4.8M573.4 297.7h5.6m-2.8-2.4v4.8M578.2 284.7h5.6m-2.8-2.4v4.8M599.8 264.3h5.6m-2.8-2.4v4.8M581.8 256.7h5.6m-2.8-2.4v4.8M603.8 264.0h5.6m-2.8-2.4v4.8M557.8 254.3h5.6m-2.8-2.4v4.8M548.9 268.5h5.6m-2.8-2.4v4.8M654.5 221.8h5.6m-2.8-2.4v4.8M634.1 276.5h5.6m-2.8-2.4v4.8M631.9 269.7h5.6m-2.8-2.4v4.8M610.2 258.3h5.6m-2.8-2.4v4.8M576.1 282.7h5.6m-2.8-2.4v4.8M586.0 267.9h5.6m-2.8-2.4v4.8M595.7 260.4h5.6m-2.8-2.4v4.8M589.2 252.2h5.6m-2.8-2.4v4.8M621.0 292.3h5.6m-2.8-2.4v4.8M568.8 262.0h5.6m-2.8-2.4v4.8M556.8 290.9h5.6m-2.8-2.4v4.8M596.9 285.9h5.6m-2.8-2.4v4.8M539.4 262.7h5.6m-2.8-2.4v4.8M634.0 255.1h5.6m-2.8-2.4v4.8M545.4 270.4h5.6m-2.8-2.4v4.8M593.9 262.2h5.6m-2.8-2.4v4.8M612.9 297.2h5.6m-2.8-2.4v4.8M572.4 282.5h5.6m-2.8-2.4v4.8M547.3 290.1h5.6m-2.8-2.4v4.8M543.1 260.0h5.6m-2.8-2.4v4.8M616.7 270.2h5.6m-2.8-2.4v4.8M582.8 268.6h5.6m-2.8-2.4v4.8M633.4 250.8h5.6m-2.8-2.4v4.8M596.9 287.3h5.6m-2.8-2.4v4.8M638.2 238.4h5.6m-2.8-2.4v4.8M575.9 275.1h5.6m-2.8-2.4v4.8M615.2 264.5h5.6m-2.8-2.4v4.8M548.5 246.9h5.6m-2.8-2.4v4.8M552.2 264.6h5.6m-2.8-2.4v4.8M572.0 298.0h5.6m-2.8-2.4v4.8M606.4 273.7h5.6m-2.8-2.4v4.8M556.6 258.5h5.6m-2.8-2.4v4.8M606.4 280.5h5.6m-2.8-2.4v4.8M615.5 269.2h5.6m-2.8-2.4v4.8M599.7 275.2h5.6m-2.8-2.4v4.8M605.5 277.6h5.6m-2.8-2.4v4.8M536.8 260.0h5.6m-2.8-2.4v4.8M611.1 308.0h5.6m-2.8-2.4v4.8M654.0 245.4h5.6m-2.8-2.4v4.8M587.1 294.8h5.6m-2.8-2.4v4.8M540.9 276.6h5.6m-2.8-2.4v4.8M609.4 288.6h5.6m-2.8-2.4v4.8M603.1 261.3h5.6m-2.8-2.4v4.8M547.1 306.9h5.6m-2.8-2.4v4.8M542.3 250.6h5.6m-2.8-2.4v4.8M575.8 271.2h5.6m-2.8-2.4v4.8M595.8 243.6h5.6m-2.8-2.4v4.8M609.9 270.8h5.6m-2.8-2.4v4.8M569.0 255.6h5.6m-2.8-2.4v4.8M558.6 264.5h5.6m-2.8-2.4v4.8M638.1 268.1h5.6m-2.8-2.4v4.8M543.5 288.9h5.6m-2.8-2.4v4.8M567.8 261.7h5.6m-2.8-2.4v4.8M555.3 277.5h5.6m-2.8-2.4v4.8M541.3 253.1h5.6m-2.8-2.4v4.8M568.7 275.6h5.6m-2.8-2.4v4.8M556.1 262.6h5.6m-2.8-2.4v4.8M588.5 304.4h5.6m-2.8-2.4v4.8M612.9 291.8h5.6m-2.8-2.4v4.8M583.6 253.2h5.6m-2.8-2.4v4.8M549.5 270.0h5.6m-2.8-2.4v4.8M578.4 258.0h5.6m-2.8-2.4v4.8M587.9 264.8h5.6m-2.8-2.4v4.8M596.0 291.1h5.6m-2.8-2.4v4.8M652.0 255.5h5.6m-2.8-2.4v4.8M636.3 275.0h5.6m-2.8-2.4v4.8M549.3 258.9h5.6m-2.8-2.4v4.8M560.0 282.6h5.6m-2.8-2.4v4.8M556.0 265.5h5.6m-2.8-2.4v4.8M634.2 260.6h5.6m-2.8-2.4v4.8M632.7 260.8h5.6m-2.8-2.4v4.8M581.7 310.3h5.6m-2.8-2.4v4.8M564.9 276.6h5.6m-2.8-2.4v4.8M544.0 287.8h5.6m-2.8-2.4v4.8M644.0 272.2h5.6m-2.8-2.4v4.8M624.7 272.1h5.6m-2.8-2.4v4.8M540.9 260.2h5.6m-2.8-2.4v4.8M555.8 268.4h5.6m-2.8-2.4v4.8M567.5 278.8h5.6m-2.8-2.4v4.8M581.9 273.1h5.6m-2.8-2.4v4.8M591.2 303.0h5.6m-2.8-2.4v4.8M614.0 292.2h5.6m-2.8-2.4v4.8M646.7 259.8h5.6m-2.8-2.4v4.8M607.7 266.5h5.6m-2.8-2.4v4.8M544.8 281.8h5.6m-2.8-2.4v4.8M583.5 275.5h5.6m-2.8-2.4v4.8M545.4 272.4h5.6m-2.8-2.4v4.8M543.8 258.9h5.6m-2.8-2.4v4.8M554.9 259.7h5.6m-2.8-2.4v4.8M570.4 253.9h5.6m-2.8-2.4v4.8M603.6 259.7h5.6m-2.8-2.4v4.8M536.0 285.0h5.6m-2.8-2.4v4.8M585.7 267.2h5.6m-2.8-2.4v4.8M610.3 312.8h5.6m-2.8-2.4v4.8M574.7 318.2h5.6m-2.8-2.4v4.8M543.1 271.7h5.6m-2.8-2.4v4.8M607.0 281.7h5.6m-2.8-2.4v4.8M566.3 270.0h5.6m-2.8-2.4v4.8M654.6 234.3h5.6m-2.8-2.4v4.8M590.2 284.7h5.6m-2.8-2.4v4.8M558.1 267.5h5.6m-2.8-2.4v4.8M542.1 260.2h5.6m-2.8-2.4v4.8M558.9 296.2h5.6m-2.8-2.4v4.8M548.6 256.7h5.6m-2.8-2.4v4.8M576.6 294.4h5.6m-2.8-2.4v4.8M623.5 316.5h5.6m-2.8-2.4v4.8M578.2 269.8h5.6m-2.8-2.4v4.8M573.7 265.7h5.6m-2.8-2.4v4.8M557.3 255.6h5.6m-2.8-2.4v4.8M581.0 265.6h5.6m-2.8-2.4v4.8M564.2 253.7h5.6m-2.8-2.4v4.8M551.6 283.8h5.6m-2.8-2.4v4.8M634.8 259.1h5.6m-2.8-2.4v4.8M540.0 261.6h5.6m-2.8-2.4v4.8M567.3 287.0h5.6m-2.8-2.4v4.8M543.2 290.2h5.6m-2.8-2.4v4.8M551.2 260.6h5.6m-2.8-2.4v4.8M535.7 277.9h5.6m-2.8-2.4v4.8M630.2 302.1h5.6m-2.8-2.4v4.8M541.0 254.2h5.6m-2.8-2.4v4.8M600.5 277.6h5.6m-2.8-2.4v4.8M605.6 287.0h5.6m-2.8-2.4v4.8M547.9 268.2h5.6m-2.8-2.4v4.8M615.8 255.2h5.6m-2.8-2.4v4.8M565.6 286.7h5.6m-2.8-2.4v4.8M627.6 266.3h5.6m-2.8-2.4v4.8M600.4 308.8h5.6m-2.8-2.4v4.8M547.2 282.6h5.6m-2.8-2.4v4.8M601.9 268.7h5.6m-2.8-2.4v4.8M548.4 283.2h5.6m-2.8-2.4v4.8M599.9 292.1h5.6m-2.8-2.4v4.8M625.8 254.2h5.6m-2.8-2.4v4.8M630.8 258.2h5.6m-2.8-2.4v4.8M646.8 260.0h5.6m-2.8-2.4v4.8M559.2 281.8h5.6m-2.8-2.4v4.8M618.3 262.2h5.6m-2.8-2.4v4.8M572.8 274.4h5.6m-2.8-2.4v4.8M542.6 284.1h5.6m-2.8-2.4v4.8M560.9 273.5h5.6m-2.8-2.4v4.8M536.1 240.7h5.6m-2.8-2.4v4.8M623.5 266.0h5.6m-2.8-2.4v4.8M559.6 279.3h5.6m-2.8-2.4v4.8M634.4 249.4h5.6m-2.8-2.4v4.8M561.3 276.4h5.6m-2.8-2.4v4.8M586.3 284.9h5.6m-2.8-2.4v4.8M562.8 289.5h5.6m-2.8-2.4v4.8M607.7 272.4h5.6m-2.8-2.4v4.8M570.5 274.2h5.6m-2.8-2.4v4.8M596.1 305.3h5.6m-2.8-2.4v4.8M573.7 284.6h5.6m-2.8-2.4v4.8M566.1 280.1h5.6m-2.8-2.4v4.8M536.7 278.8h5.6m-2.8-2.4v4.8M579.5 292.3h5.6m-2.8-2.4v4.8M626.9 248.0h5.6m-2.8-2.4v4.8M639.6 248.7h5.6m-2.8-2.4v4.8M633.9 293.8h5.6m-2.8-2.4v4.8M541.7 263.2h5.6m-2.8-2.4v4.8M589.8 278.6h5.6m-2.8-2.4v4.8M603.5 277.5h5.6m-2.8-2.4v4.8M629.8 291.7h5.6m-2.8-2.4v4.8M576.5 269.3h5.6m-2.8-2.4v4.8M625.2 287.3h5.6m-2.8-2.4v4.8M626.6 290.8h5.6m-2.8-2.4v4.8M628.9 260.3h5.6m-2.8-2.4v4.8M576.4 266.6h5.6m-2.8-2.4v4.8M544.3 268.7h5.6m-2.8-2.4v4.8M560.7 263.8h5.6m-2.8-2.4v4.8M628.4 264.5h5.6m-2.8-2.4v4.8M568.7 301.9h5.6m-2.8-2.4v4.8M622.2 277.6h5.6m-2.8-2.4v4.8M584.3 290.9h5.6m-2.8-2.4v4.8M635.1 289.7h5.6m-2.8-2.4v4.8M618.8 306.9h5.6m-2.8-2.4v4.8M548.3 263.5h5.6m-2.8-2.4v4.8M608.3 299.9h5.6m-2.8-2.4v4.8M593.3 306.1h5.6m-2.8-2.4v4.8M588.3 263.0h5.6m-2.8-2.4v4.8M556.5 252.9h5.6m-2.8-2.4v4.8M647.9 253.8h5.6m-2.8-2.4v4.8M588.5 242.5h5.6m-2.8-2.4v4.8M563.6 272.2h5.6m-2.8-2.4v4.8M600.1 280.2h5.6m-2.8-2.4v4.8M560.1 260.4h5.6m-2.8-2.4v4.8M601.3 267.2h5.6m-2.8-2.4v4.8M628.7 262.9h5.6m-2.8-2.4v4.8M637.4 272.1h5.6m-2.8-2.4v4.8M620.5 279.0h5.6m-2.8-2.4v4.8M570.5 290.8h5.6m-2.8-2.4v4.8M605.7 258.8h5.6m-2.8-2.4v4.8M633.6 237.6h5.6m-2.8-2.4v4.8M579.1 262.3h5.6m-2.8-2.4v4.8M568.1 267.2h5.6m-2.8-2.4v4.8M598.6 286.7h5.6m-2.8-2.4v4.8M617.6 276.4h5.6m-2.8-2.4v4.8M649.3 282.4h5.6m-2.8-2.4v4.8M540.6 263.6h5.6m-2.8-2.4v4.8M616.4 271.2h5.6m-2.8-2.4v4.8M616.8 302.6h5.6m-2.8-2.4v4.8M599.6 263.0h5.6m-2.8-2.4v4.8M571.8 274.6h5.6m-2.8-2.4v4.8M609.2 279.8h5.6m-2.8-2.4v4.8M589.2 269.2h5.6m-2.8-2.4v4.8M596.3 257.0h5.6m-2.8-2.4v4.8M573.5 270.7h5.6m-2.8-2.4v4.8M574.1 263.7h5.6m-2.8-2.4v4.8M570.3 256.4h5.6m-2.8-2.4v4.8M572.1 277.5h5.6m-2.8-2.4v4.8M538.8 287.7h5.6m-2.8-2.4v4.8M568.5 261.9h5.6m-2.8-2.4v4.8M593.4 260.3h5.6m-2.8-2.4v4.8M641.4 273.6h5.6m-2.8-2.4v4.8M569.7 276.0h5.6m-2.8-2.4v4.8M541.3 261.2h5.6m-2.8-2.4v4.8M651.2 246.2h5.6m-2.8-2.4v4.8M560.5 253.2h5.6m-2.8-2.4v4.8M646.6 262.8h5.6m-2.8-2.4v4.8M576.2 261.3h5.6m-2.8-2.4v4.8M592.9 322.3h5.6m-2.8-2.4v4.8M584.8 310.0h5.6m-2.8-2.4v4.8M579.1 254.8h5.6m-2.8-2.4v4.8M631.0 268.3h5.6m-2.8-2.4v4.8M566.2 289.2h5.6m-2.8-2.4v4.8M606.1 266.9h5.6m-2.8-2.4v4.8M589.3 260.5h5.6m-2.8-2.4v4.8M558.5 267.7h5.6m-2.8-2.4v4.8M610.6 269.0h5.6m-2.8-2.4v4.8M550.5 254.8h5.6m-2.8-2.4v4.8M579.1 253.7h5.6m-2.8-2.4v4.8M585.3 249.3h5.6m-2.8-2.4v4.8M540.4 292.9h5.6m-2.8-2.4v4.8M600.8 281.9h5.6m-2.8-2.4v4.8M637.4 272.7h5.6m-2.8-2.4v4.8M600.7 266.1h5.6m-2.8-2.4v4.8M559.1 295.4h5.6m-2.8-2.4v4.8M592.0 267.8h5.6m-2.8-2.4v4.8M541.8 287.1h5.6m-2.8-2.4v4.8M629.6 254.6h5.6m-2.8-2.4v4.8M576.9 280.9h5.6m-2.8-2.4v4.8M628.2 277.7h5.6m-2.8-2.4v4.8M628.2 275.5h5.6m-2.8-2.4v4.8M617.4 264.9h5.6m-2.8-2.4v4.8M584.6 260.4h5.6m-2.8-2.4v4.8M636.3 268.9h5.6m-2.8-2.4v4.8M552.4 279.0h5.6m-2.8-2.4v4.8M650.8 246.9h5.6m-2.8-2.4v4.8M549.8 267.4h5.6m-2.8-2.4v4.8M609.0 261.8h5.6m-2.8-2.4v4.8M544.6 311.6h5.6m-2.8-2.4v4.8M555.9 269.5h5.6m-2.8-2.4v4.8M597.0 267.6h5.6m-2.8-2.4v4.8M558.7 281.8h5.6m-2.8-2.4v4.8M638.8 274.0h5.6m-2.8-2.4v4.8M552.8 259.3h5.6m-2.8-2.4v4.8M577.1 279.2h5.6m-2.8-2.4v4.8M607.9 269.1h5.6m-2.8-2.4v4.8M619.7 270.8h5.6m-2.8-2.4v4.8M602.3 274.8h5.6m-2.8-2.4v4.8M561.5 248.5h5.6m-2.8-2.4v4.8M559.9 261.9h5.6m-2.8-2.4v4.8M582.3 312.7h5.6m-2.8-2.4v4.8M632.1 278.6h5.6m-2.8-2.4v4.8M624.1 312.4h5.6m-2.8-2.4v4.8M591.0 256.6h5.6m-2.8-2.4v4.8M651.7 251.7h5.6m-2.8-2.4v4.8M645.9 289.8h5.6m-2.8-2.4v4.8M641.3 277.9h5.6m-2.8-2.4v4.8M558.4 287.9h5.6m-2.8-2.4v4.8M537.9 274.7h5.6m-2.8-2.4v4.8M590.3 296.9h5.6m-2.8-2.4v4.8M613.7 266.8h5.6m-2.8-2.4v4.8M549.4 255.1h5.6m-2.8-2.4v4.8M612.0 256.2h5.6m-2.8-2.4v4.8M638.1 232.5h5.6m-2.8-2.4v4.8M583.7 266.0h5.6m-2.8-2.4v4.8M563.9 271.6h5.6m-2.8-2.4v4.8M629.0 240.7h5.6m-2.8-2.4v4.8M654.4 249.7h5.6m-2.8-2.4v4.8M538.1 268.2h5.6m-2.8-2.4v4.8M612.9 256.9h5.6m-2.8-2.4v4.8M616.9 256.8h5.6m-2.8-2.4v4.8M632.0 257.9h5.6m-2.8-2.4v4.8M607.9 289.8h5.6m-2.8-2.4v4.8M537.7 281.7h5.6m-2.8-2.4v4.8M570.5 270.0h5.6m-2.8-2.4v4.8M578.9 275.7h5.6m-2.8-2.4v4.8M614.5 262.5h5.6m-2.8-2.4v4.8M582.0 263.2h5.6m-2.8-2.4v4.8M558.9 280.9h5.6m-2.8-2.4v4.8M571.0 273.0h5.6m-2.8-2.4v4.8M541.0 275.2h5.6m-2.8-2.4v4.8M581.3 267.7h5.6m-2.8-2.4v4.8M611.1 293.6h5.6m-2.8-2.4v4.8M586.7 283.9h5.6m-2.8-2.4v4.8M599.0 267.5h5.6m-2.8-2.4v4.8M635.7 289.6h5.6m-2.8-2.4v4.8M568.3 256.8h5.6m-2.8-2.4v4.8M571.2 248.7h5.6m-2.8-2.4v4.8M575.7 244.6h5.6m-2.8-2.4v4.8M601.7 278.8h5.6m-2.8-2.4v4.8M634.8 266.1h5.6m-2.8-2.4v4.8M635.3 302.0h5.6m-2.8-2.4v4.8M547.6 269.1h5.6m-2.8-2.4v4.8M627.8 253.9h5.6m-2.8-2.4v4.8M573.6 299.0h5.6m-2.8-2.4v4.8M593.9 255.6h5.6m-2.8-2.4v4.8M575.1 331.4h5.6m-2.8-2.4v4.8M579.0 268.0h5.6m-2.8-2.4v4.8M606.5 280.6h5.6m-2.8-2.4v4.8M622.8 257.9h5.6m-2.8-2.4v4.8M622.5 297.1h5.6m-2.8-2.4v4.8M624.2 271.7h5.6m-2.8-2.4v4.8M551.5 248.9h5.6m-2.8-2.4v4.8M614.3 283.8h5.6m-2.8-2.4v4.8M609.1 310.4h5.6m-2.8-2.4v4.8M609.5 294.1h5.6m-2.8-2.4v4.8M625.9 263.7h5.6m-2.8-2.4v4.8M629.8 265.4h5.6m-2.8-2.4v4.8M612.4 272.8h5.6m-2.8-2.4v4.8M547.3 264.8h5.6m-2.8-2.4v4.8M626.4 258.8h5.6m-2.8-2.4v4.8M614.1 297.5h5.6m-2.8-2.4v4.8M550.6 254.0h5.6m-2.8-2.4v4.8M609.7 299.9h5.6m-2.8-2.4v4.8M604.6 258.7h5.6m-2.8-2.4v4.8M638.9 237.6h5.6m-2.8-2.4v4.8M590.1 273.1h5.6m-2.8-2.4v4.8M600.8 248.6h5.6m-2.8-2.4v4.8M606.1 278.3h5.6m-2.8-2.4v4.8M566.5 276.4h5.6m-2.8-2.4v4.8M596.1 254.4h5.6m-2.8-2.4v4.8M591.1 307.8h5.6m-2.8-2.4v4.8M639.8 287.6h5.6m-2.8-2.4v4.8M648.8 255.4h5.6m-2.8-2.4v4.8M628.9 261.4h5.6m-2.8-2.4v4.8M589.4 254.7h5.6m-2.8-2.4v4.8M572.6 301.8h5.6m-2.8-2.4v4.8M624.6 262.7h5.6m-2.8-2.4v4.8M576.1 280.1h5.6m-2.8-2.4v4.8M556.0 260.6h5.6m-2.8-2.4v4.8M568.6 257.7h5.6m-2.8-2.4v4.8M627.6 281.5h5.6m-2.8-2.4v4.8M577.9 243.2h5.6m-2.8-2.4v4.8M560.1 287.0h5.6m-2.8-2.4v4.8M602.8 259.6h5.6m-2.8-2.4v4.8M634.9 278.3h5.6m-2.8-2.4v4.8M562.9 269.8h5.6m-2.8-2.4v4.8M642.1 282.4h5.6m-2.8-2.4v4.8M543.3 261.5h5.6m-2.8-2.4v4.8M561.9 253.1h5.6m-2.8-2.4v4.8M564.8 263.9h5.6m-2.8-2.4v4.8M631.1 274.4h5.6m-2.8-2.4v4.8M557.6 260.8h5.6m-2.8-2.4v4.8M635.2 279.6h5.6m-2.8-2.4v4.8M538.3 246.8h5.6m-2.8-2.4v4.8M645.6 263.0h5.6m-2.8-2.4v4.8M583.0 297.2h5.6m-2.8-2.4v4.8M584.1 256.1h5.6m-2.8-2.4v4.8M562.8 274.7h5.6m-2.8-2.4v4.8M642.8 241.5h5.6m-2.8-2.4v4.8M557.2 249.6h5.6m-2.8-2.4v4.8M583.5 295.5h5.6m-2.8-2.4v4.8M626.4 254.8h5.6m-2.8-2.4v4.8M580.2 250.7h5.6m-2.8-2.4v4.8M545.1 270.2h5.6m-2.8-2.4v4.8M557.7 269.2h5.6m-2.8-2.4v4.8M592.2 262.3h5.6m-2.8-2.4v4.8M566.4 277.9h5.6m-2.8-2.4v4.8M605.4 286.1h5.6m-2.8-2.4v4.8M553.2 265.9h5.6m-2.8-2.4v4.8M620.2 261.1h5.6m-2.8-2.4v4.8M610.7 276.6h5.6m-2.8-2.4v4.8M622.5 237.6h5.6m-2.8-2.4v4.8M630.5 258.6h5.6m-2.8-2.4v4.8M553.0 266.5h5.6m-2.8-2.4v4.8M555.5 307.6h5.6m-2.8-2.4v4.8M636.4 244.1h5.6m-2.8-2.4v4.8M597.8 289.8h5.6m-2.8-2.4v4.8M540.5 252.1h5.6m-2.8-2.4v4.8M624.7 288.9h5.6m-2.8-2.4v4.8M625.4 257.6h5.6m-2.8-2.4v4.8M580.2 295.1h5.6m-2.8-2.4v4.8M551.1 321.9h5.6m-2.8-2.4v4.8M621.6 256.8h5.6m-2.8-2.4v4.8M576.1 260.2h5.6m-2.8-2.4v4.8M565.2 276.5h5.6m-2.8-2.4v4.8M535.9 287.5h5.6m-2.8-2.4v4.8M621.6 258.5h5.6m-2.8-2.4v4.8M626.0 255.9h5.6m-2.8-2.4v4.8M630.3 255.5h5.6m-2.8-2.4v4.8M615.9 261.9h5.6m-2.8-2.4v4.8M588.1 246.3h5.6m-2.8-2.4v4.8M591.3 288.3h5.6m-2.8-2.4v4.8M548.7 255.1h5.6m-2.8-2.4v4.8M654.3 224.5h5.6m-2.8-2.4v4.8M608.3 315.5h5.6m-2.8-2.4v4.8M608.6 269.6h5.6m-2.8-2.4v4.8M607.0 253.0h5.6m-2.8-2.4v4.8M630.4 281.9h5.6m-2.8-2.4v4.8M586.3 267.7h5.6m-2.8-2.4v4.8M579.3 254.9h5.6m-2.8-2.4v4.8M596.2 286.1h5.6m-2.8-2.4v4.8M556.0 277.1h5.6m-2.8-2.4v4.8M634.5 281.0h5.6m-2.8-2.4v4.8M650.6 260.9h5.6m-2.8-2.4v4.8M565.9 249.4h5.6m-2.8-2.4v4.8M593.2 278.5h5.6m-2.8-2.4v4.8M569.5 258.8h5.6m-2.8-2.4v4.8M543.7 293.8h5.6m-2.8-2.4v4.8M628.6 242.6h5.6m-2.8-2.4v4.8M544.0 273.4h5.6m-2.8-2.4v4.8M541.8 282.4h5.6m-2.8-2.4v4.8M628.5 296.0h5.6m-2.8-2.4v4.8M583.2 277.5h5.6m-2.8-2.4v4.8M601.0 309.0h5.6m-2.8-2.4v4.8M545.9 265.9h5.6m-2.8-2.4v4.8M620.2 258.8h5.6m-2.8-2.4v4.8M636.7 257.1h5.6m-2.8-2.4v4.8M566.6 262.5h5.6m-2.8-2.4v4.8M541.1 268.1h5.6m-2.8-2.4v4.8M564.5 254.4h5.6m-2.8-2.4v4.8M594.0 266.2h5.6m-2.8-2.4v4.8M589.7 274.7h5.6m-2.8-2.4v4.8M568.0 322.7h5.6m-2.8-2.4v4.8M606.1 253.5h5.6m-2.8-2.4v4.8M606.6 272.9h5.6m-2.8-2.4v4.8M594.8 286.0h5.6m-2.8-2.4v4.8M620.8 287.8h5.6m-2.8-2.4v4.8M563.2 264.8h5.6m-2.8-2.4v4.8M577.7 264.8h5.6m-2.8-2.4v4.8M610.9 290.7h5.6m-2.8-2.4v4.8M605.8 278.5h5.6m-2.8-2.4v4.8M559.6 240.3h5.6m-2.8-2.4v4.8M619.1 258.3h5.6m-2.8-2.4v4.8M560.2 271.3h5.6m-2.8-2.4v4.8M642.5 231.0h5.6m-2.8-2.4v4.8M613.3 288.8h5.6m-2.8-2.4v4.8M579.1 311.2h5.6m-2.8-2.4v4.8M617.1 298.5h5.6m-2.8-2.4v4.8M628.5 257.7h5.6m-2.8-2.4v4.8M587.7 256.8h5.6m-2.8-2.4v4.8M542.7 258.4h5.6m-2.8-2.4v4.8M615.5 269.4h5.6m-2.8-2.4v4.8M599.9 253.0h5.6m-2.8-2.4v4.8M607.9 268.0h5.6m-2.8-2.4v4.8M568.3 265.5h5.6m-2.8-2.4v4.8M555.9 267.9h5.6m-2.8-2.4v4.8M589.6 266.9h5.6m-2.8-2.4v4.8M607.2 266.3h5.6m-2.8-2.4v4.8M599.2 257.1h5.6m-2.8-2.4v4.8M623.2 261.8h5.6m-2.8-2.4v4.8M543.4 263.6h5.6m-2.8-2.4v4.8M548.5 276.1h5.6m-2.8-2.4v4.8M632.2 266.7h5.6m-2.8-2.4v4.8M632.0 275.1h5.6m-2.8-2.4v4.8M589.7 257.3h5.6m-2.8-2.4v4.8M572.9 265.0h5.6m-2.8-2.4v4.8M603.7 268.2h5.6m-2.8-2.4v4.8M594.0 297.3h5.6m-2.8-2.4v4.8M583.7 292.7h5.6m-2.8-2.4v4.8M565.8 262.2h5.6m-2.8-2.4v4.8M628.7 270.3h5.6m-2.8-2.4v4.8M620.1 257.5h5.6m-2.8-2.4v4.8M565.1 267.2h5.6m-2.8-2.4v4.8M604.2 248.7h5.6m-2.8-2.4v4.8M607.7 271.9h5.6m-2.8-2.4v4.8M588.0 263.1h5.6m-2.8-2.4v4.8M588.8 273.7h5.6m-2.8-2.4v4.8M549.0 294.7h5.6m-2.8-2.4v4.8M603.8 266.7h5.6m-2.8-2.4v4.8M634.1 270.8h5.6m-2.8-2.4v4.8M574.5 262.7h5.6m-2.8-2.4v4.8M634.3 280.1h5.6m-2.8-2.4v4.8M545.4 267.9h5.6m-2.8-2.4v4.8M547.5 320.4h5.6m-2.8-2.4v4.8M563.8 307.9h5.6m-2.8-2.4v4.8M555.6 261.6h5.6m-2.8-2.4v4.8M627.6 287.6h5.6m-2.8-2.4v4.8M565.7 284.5h5.6m-2.8-2.4v4.8M603.4 308.7h5.6m-2.8-2.4v4.8M596.6 267.8h5.6m-2.8-2.4v4.8M627.0 245.8h5.6m-2.8-2.4v4.8M540.2 264.4h5.6m-2.8-2.4v4.8M605.7 257.2h5.6m-2.8-2.4v4.8M570.2 262.5h5.6m-2.8-2.4v4.8M567.4 287.3h5.6m-2.8-2.4v4.8M607.6 304.9h5.6m-2.8-2.4v4.8M539.4 292.6h5.6m-2.8-2.4v4.8M624.6 262.4h5.6m-2.8-2.4v4.8M625.8 285.1h5.6m-2.8-2.4v4.8M595.8 247.5h5.6m-2.8-2.4v4.8M576.7 316.0h5.6m-2.8-2.4v4.8M588.5 278.6h5.6m-2.8-2.4v4.8M582.4 271.4h5.6m-2.8-2.4v4.8M603.8 268.5h5.6m-2.8-2.4v4.8M573.3 326.4h5.6m-2.8-2.4v4.8M652.9 240.2h5.6m-2.8-2.4v4.8M618.1 260.9h5.6m-2.8-2.4v4.8M640.6 256.4h5.6m-2.8-2.4v4.8M596.4 256.2h5.6m-2.8-2.4v4.8M555.3 287.1h5.6m-2.8-2.4v4.8M620.4 288.1h5.6m-2.8-2.4v4.8M558.3 259.4h5.6m-2.8-2.4v4.8M538.8 277.4h5.6m-2.8-2.4v4.8M596.9 269.0h5.6m-2.8-2.4v4.8M603.7 291.7h5.6m-2.8-2.4v4.8M581.0 291.1h5.6m-2.8-2.4v4.8M641.0 283.1h5.6m-2.8-2.4v4.8M634.6 266.9h5.6m-2.8-2.4v4.8M614.4 252.1h5.6m-2.8-2.4v4.8M540.8 260.6h5.6m-2.8-2.4v4.8M551.0 265.1h5.6m-2.8-2.4v4.8M649.8 249.2h5.6m-2.8-2.4v4.8M614.8 263.1h5.6m-2.8-2.4v4.8M608.4 279.7h5.6m-2.8-2.4v4.8M589.0 262.9h5.6m-2.8-2.4v4.8M577.4 270.4h5.6m-2.8-2.4v4.8M606.0 289.8h5.6m-2.8-2.4v4.8M629.9 302.9h5.6m-2.8-2.4v4.8M620.1 285.2h5.6m-2.8-2.4v4.8M615.8 273.6h5.6m-2.8-2.4v4.8M572.9 263.0h5.6m-2.8-2.4v4.8M631.2 258.1h5.6m-2.8-2.4v4.8M611.3 291.2h5.6m-2.8-2.4v4.8M610.8 276.1h5.6m-2.8-2.4v4.8M642.3 274.1h5.6m-2.8-2.4v4.8M639.9 258.3h5.6m-2.8-2.4v4.8M620.2 267.4h5.6m-2.8-2.4v4.8M546.6 256.5h5.6m-2.8-2.4v4.8M550.0 263.2h5.6m-2.8-2.4v4.8M550.5 280.6h5.6m-2.8-2.4v4.8M592.6 319.4h5.6m-2.8-2.4v4.8M545.4 307.8h5.6m-2.8-2.4v4.8M576.5 277.3h5.6m-2.8-2.4v4.8M579.8 258.9h5.6m-2.8-2.4v4.8M613.3 256.9h5.6m-2.8-2.4v4.8M612.5 246.2h5.6m-2.8-2.4v4.8M601.4 284.9h5.6m-2.8-2.4v4.8M604.3 268.4h5.6m-2.8-2.4v4.8M568.2 240.5h5.6m-2.8-2.4v4.8M539.7 264.2h5.6m-2.8-2.4v4.8M562.9 314.0h5.6m-2.8-2.4v4.8M653.3 237.3h5.6m-2.8-2.4v4.8M598.2 253.8h5.6m-2.8-2.4v4.8M631.3 274.9h5.6m-2.8-2.4v4.8M540.4 280.5h5.6m-2.8-2.4v4.8M596.3 260.1h5.6m-2.8-2.4v4.8M614.3 255.2h5.6m-2.8-2.4v4.8M637.4 259.6h5.6m-2.8-2.4v4.8M604.4 267.0h5.6m-2.8-2.4v4.8M536.8 282.8h5.6m-2.8-2.4v4.8M559.7 259.7h5.6m-2.8-2.4v4.8M622.5 263.7h5.6m-2.8-2.4v4.8M625.5 275.8h5.6m-2.8-2.4v4.8M638.1 284.7h5.6m-2.8-2.4v4.8M594.4 267.4h5.6m-2.8-2.4v4.8M608.0 277.4h5.6m-2.8-2.4v4.8M546.6 307.3h5.6m-2.8-2.4v4.8M586.4 287.3h5.6m-2.8-2.4v4.8M646.4 265.3h5.6m-2.8-2.4v4.8M605.5 256.6h5.6m-2.8-2.4v4.8M645.8 258.8h5.6m-2.8-2.4v4.8M564.0 259.7h5.6m-2.8-2.4v4.8M593.3 293.8h5.6m-2.8-2.4v4.8M562.3 261.8h5.6m-2.8-2.4v4.8M538.3 273.5h5.6m-2.8-2.4v4.8M583.4 272.4h5.6m-2.8-2.4v4.8M641.6 247.2h5.6m-2.8-2.4v4.8M633.3 247.0h5.6m-2.8-2.4v4.8M640.4 231.5h5.6m-2.8-2.4v4.8M602.3 261.8h5.6m-2.8-2.4v4.8M562.9 260.7h5.6m-2.8-2.4v4.8M592.4 285.3h5.6m-2.8-2.4v4.8M577.2 257.8h5.6m-2.8-2.4v4.8M578.2 326.2h5.6m-2.8-2.4v4.8M624.3 257.0h5.6m-2.8-2.4v4.8M552.3 281.5h5.6m-2.8-2.4v4.8M539.9 269.0h5.6m-2.8-2.4v4.8M578.7 266.7h5.6m-2.8-2.4v4.8M558.5 247.0h5.6m-2.8-2.4v4.8M574.4 253.9h5.6m-2.8-2.4v4.8M592.9 259.5h5.6m-2.8-2.4v4.8M634.1 240.5h5.6m-2.8-2.4v4.8M557.5 282.9h5.6m-2.8-2.4v4.8M628.4 249.3h5.6m-2.8-2.4v4.8M569.3 256.8h5.6m-2.8-2.4v4.8M582.7 290.0h5.6m-2.8-2.4v4.8M587.5 304.2h5.6m-2.8-2.4v4.8M559.8 259.9h5.6m-2.8-2.4v4.8M555.2 279.6h5.6m-2.8-2.4v4.8M618.8 264.8h5.6m-2.8-2.4v4.8M593.3 267.8h5.6m-2.8-2.4v4.8M583.8 276.4h5.6m-2.8-2.4v4.8M631.5 240.6h5.6m-2.8-2.4v4.8M613.3 257.4h5.6m-2.8-2.4v4.8M628.1 254.7h5.6m-2.8-2.4v4.8M620.2 264.2h5.6m-2.8-2.4v4.8M598.3 280.0h5.6m-2.8-2.4v4.8M598.2 249.4h5.6m-2.8-2.4v4.8M596.7 285.8h5.6m-2.8-2.4v4.8M617.3 273.2h5.6m-2.8-2.4v4.8M586.8 259.1h5.6m-2.8-2.4v4.8M641.1 262.6h5.6m-2.8-2.4v4.8M619.4 278.6h5.6m-2.8-2.4v4.8M561.3 296.1h5.6m-2.8-2.4v4.8M644.4 270.4h5.6m-2.8-2.4v4.8M549.6 260.6h5.6m-2.8-2.4v4.8M589.5 269.2h5.6m-2.8-2.4v4.8M617.4 272.1h5.6m-2.8-2.4v4.8M540.9 271.4h5.6m-2.8-2.4v4.8M130.8 119.2h5.6m-2.8-2.4v4.8M653.5 193.4h5.6m-2.8-2.4v4.8M653.6 201.1h5.6m-2.8-2.4v4.8M654.6 210.5h5.6m-2.8-2.4v4.8M655.3 191.0h5.6m-2.8-2.4v4.8M654.8 219.0h5.6m-2.8-2.4v4.8M653.6 218.6h5.6m-2.8-2.4v4.8M654.9 208.8h5.6m-2.8-2.4v4.8M655.7 204.4h5.6m-2.8-2.4v4.8M654.7 207.6h5.6m-2.8-2.4v4.8M653.6 210.0h5.6m-2.8-2.4v4.8M655.8 224.2h5.6m-2.8-2.4v4.8M654.4 235.5h5.6m-2.8-2.4v4.8M653.9 198.6h5.6m-2.8-2.4v4.8M654.8 216.4h5.6m-2.8-2.4v4.8M654.0 221.5h5.6m-2.8-2.4v4.8M654.4 228.7h5.6m-2.8-2.4v4.8M652.9 233.1h5.6m-2.8-2.4v4.8M654.4 222.5h5.6m-2.8-2.4v4.8M653.1 204.0h5.6m-2.8-2.4v4.8M654.9 226.5h5.6m-2.8-2.4v4.8M642.5 246.6h5.6m-2.8-2.4v4.8M651.2 250.2h5.6m-2.8-2.4v4.8M643.0 270.5h5.6m-2.8-2.4v4.8M654.2 202.8h5.6m-2.8-2.4v4.8M646.0 256.5h5.6m-2.8-2.4v4.8M643.4 224.0h5.6m-2.8-2.4v4.8M652.9 205.0h5.6m-2.8-2.4v4.8M650.2 246.2h5.6m-2.8-2.4v4.8M650.3 249.4h5.6m-2.8-2.4v4.8M639.5 254.0h5.6m-2.8-2.4v4.8M654.4 203.3h5.6m-2.8-2.4v4.8M640.6 267.1h5.6m-2.8-2.4v4.8M654.6 215.2h5.6m-2.8-2.4v4.8M651.4 246.0h5.6m-2.8-2.4v4.8M654.6 207.9h5.6m-2.8-2.4v4.8M653.4 237.0h5.6m-2.8-2.4v4.8M644.1 266.0h5.6m-2.8-2.4v4.8M644.3 228.4h5.6m-2.8-2.4v4.8M650.4 249.3h5.6m-2.8-2.4v4.8M642.6 283.5h5.6m-2.8-2.4v4.8M650.1 239.4h5.6m-2.8-2.4v4.8M648.4 252.1h5.6m-2.8-2.4v4.8M640.1 235.1h5.6m-2.8-2.4v4.8M645.4 251.5h5.6m-2.8-2.4v4.8M644.0 212.7h5.6m-2.8-2.4v4.8M654.2 235.2h5.6m-2.8-2.4v4.8M642.0 258.4h5.6m-2.8-2.4v4.8M654.1 222.6h5.6m-2.8-2.4v4.8M653.1 222.1h5.6m-2.8-2.4v4.8M647.9 256.8h5.6m-2.8-2.4v4.8M652.6 199.7h5.6m-2.8-2.4v4.8M642.7 251.4h5.6m-2.8-2.4v4.8M643.5 260.7h5.6m-2.8-2.4v4.8M648.4 219.8h5.6m-2.8-2.4v4.8M647.5 253.9h5.6m-2.8-2.4v4.8M639.2 249.6h5.6m-2.8-2.4v4.8M653.2 224.0h5.6m-2.8-2.4v4.8M643.4 266.0h5.6m-2.8-2.4v4.8M654.2 230.0h5.6m-2.8-2.4v4.8M645.7 256.7h5.6m-2.8-2.4v4.8M654.0 232.1h5.6m-2.8-2.4v4.8M647.3 251.2h5.6m-2.8-2.4v4.8M642.2 240.0h5.6m-2.8-2.4v4.8M650.7 242.0h5.6m-2.8-2.4v4.8M653.2 225.1h5.6m-2.8-2.4v4.8M647.1 262.2h5.6m-2.8-2.4v4.8M643.2 261.3h5.6m-2.8-2.4v4.8M654.7 217.5h5.6m-2.8-2.4v4.8M645.3 251.9h5.6m-2.8-2.4v4.8M646.3 216.7h5.6m-2.8-2.4v4.8M651.6 245.5h5.6m-2.8-2.4v4.8M639.4 265.4h5.6m-2.8-2.4v4.8M653.3 227.2h5.6m-2.8-2.4v4.8M639.9 255.8h5.6m-2.8-2.4v4.8M640.2 251.0h5.6m-2.8-2.4v4.8M641.7 247.6h5.6m-2.8-2.4v4.8M639.5 251.9h5.6m-2.8-2.4v4.8M639.9 253.8h5.6m-2.8-2.4v4.8M643.8 232.9h5.6m-2.8-2.4v4.8M649.1 240.7h5.6m-2.8-2.4v4.8M652.0 209.5h5.6m-2.8-2.4v4.8M639.7 247.1h5.6m-2.8-2.4v4.8M639.7 260.6h5.6m-2.8-2.4v4.8M650.8 238.3h5.6m-2.8-2.4v4.8M643.0 242.9h5.6m-2.8-2.4v4.8M650.8 235.7h5.6m-2.8-2.4v4.8M644.5 238.4h5.6m-2.8-2.4v4.8M642.3 263.3h5.6m-2.8-2.4v4.8M642.9 259.1h5.6m-2.8-2.4v4.8M642.6 248.4h5.6m-2.8-2.4v4.8M641.1 258.9h5.6m-2.8-2.4v4.8M652.6 233.2h5.6m-2.8-2.4v4.8M648.5 232.7h5.6m-2.8-2.4v4.8M643.7 243.8h5.6m-2.8-2.4v4.8M645.7 245.7h5.6m-2.8-2.4v4.8M643.6 261.6h5.6m-2.8-2.4v4.8M646.4 205.3h5.6m-2.8-2.4v4.8M639.5 261.9h5.6m-2.8-2.4v4.8M643.5 248.5h5.6m-2.8-2.4v4.8M640.0 247.2h5.6m-2.8-2.4v4.8M653.7 230.6h5.6m-2.8-2.4v4.8M642.0 235.7h5.6m-2.8-2.4v4.8M647.4 238.9h5.6m-2.8-2.4v4.8M648.1 254.4h5.6m-2.8-2.4v4.8M639.7 234.4h5.6m-2.8-2.4v4.8M647.3 244.1h5.6m-2.8-2.4v4.8M642.1 256.5h5.6m-2.8-2.4v4.8M642.9 256.4h5.6m-2.8-2.4v4.8M654.5 227.9h5.6m-2.8-2.4v4.8M651.7 236.4h5.6m-2.8-2.4v4.8M652.8 228.4h5.6m-2.8-2.4v4.8M649.2 213.7h5.6m-2.8-2.4v4.8M642.8 236.9h5.6m-2.8-2.4v4.8M654.0 229.6h5.6m-2.8-2.4v4.8M652.0 251.3h5.6m-2.8-2.4v4.8M652.4 204.7h5.6m-2.8-2.4v4.8M645.1 241.7h5.6m-2.8-2.4v4.8M644.4 242.1h5.6m-2.8-2.4v4.8M653.3 200.2h5.6m-2.8-2.4v4.8M652.4 224.5h5.6m-2.8-2.4v4.8M648.6 206.8h5.6m-2.8-2.4v4.8M654.3 224.2h5.6m-2.8-2.4v4.8M651.1 219.4h5.6m-2.8-2.4v4.8M645.6 226.9h5.6m-2.8-2.4v4.8M652.5 229.0h5.6m-2.8-2.4v4.8M646.0 243.6h5.6m-2.8-2.4v4.8M646.6 226.1h5.6m-2.8-2.4v4.8M650.7 243.2h5.6m-2.8-2.4v4.8M645.4 238.9h5.6m-2.8-2.4v4.8M651.4 207.4h5.6m-2.8-2.4v4.8M654.7 206.8h5.6m-2.8-2.4v4.8M650.7 242.9h5.6m-2.8-2.4v4.8M649.5 230.0h5.6m-2.8-2.4v4.8M649.7 221.3h5.6m-2.8-2.4v4.8M646.4 234.1h5.6m-2.8-2.4v4.8M654.3 197.7h5.6m-2.8-2.4v4.8M651.2 216.0h5.6m-2.8-2.4v4.8M653.0 209.2h5.6m-2.8-2.4v4.8M649.2 241.2h5.6m-2.8-2.4v4.8M652.0 234.5h5.6m-2.8-2.4v4.8M654.5 214.8h5.6m-2.8-2.4v4.8M646.3 244.3h5.6m-2.8-2.4v4.8M643.4 250.3h5.6m-2.8-2.4v4.8M649.5 219.9h5.6m-2.8-2.4v4.8M652.8 215.4h5.6m-2.8-2.4v4.8M649.8 212.1h5.6m-2.8-2.4v4.8M643.8 220.4h5.6m-2.8-2.4v4.8M644.7 229.1h5.6m-2.8-2.4v4.8M652.3 226.6h5.6m-2.8-2.4v4.8M650.7 206.4h5.6m-2.8-2.4v4.8M644.7 238.0h5.6m-2.8-2.4v4.8M653.3 217.0h5.6m-2.8-2.4v4.8M644.8 221.9h5.6m-2.8-2.4v4.8M648.9 225.1h5.6m-2.8-2.4v4.8M648.3 223.5h5.6m-2.8-2.4v4.8M651.7 217.7h5.6m-2.8-2.4v4.8M644.2 231.0h5.6m-2.8-2.4v4.8M653.3 210.9h5.6m-2.8-2.4v4.8M654.1 208.4h5.6m-2.8-2.4v4.8M654.7 209.6h5.6m-2.8-2.4v4.8M651.2 228.9h5.6m-2.8-2.4v4.8M650.1 213.8h5.6m-2.8-2.4v4.8M650.6 233.7h5.6m-2.8-2.4v4.8M652.5 232.7h5.6m-2.8-2.4v4.8M648.3 227.3h5.6m-2.8-2.4v4.8M652.8 218.2h5.6m-2.8-2.4v4.8M644.5 247.7h5.6m-2.8-2.4v4.8M650.6 211.4h5.6m-2.8-2.4v4.8M649.5 224.1h5.6m-2.8-2.4v4.8M645.8 229.4h5.6m-2.8-2.4v4.8M647.9 246.3h5.6m-2.8-2.4v4.8M653.8 220.6h5.6m-2.8-2.4v4.8M652.1 211.4h5.6m-2.8-2.4v4.8M647.4 223.6h5.6m-2.8-2.4v4.8M651.9 237.3h5.6m-2.8-2.4v4.8M645.6 237.7h5.6m-2.8-2.4v4.8M652.4 215.1h5.6m-2.8-2.4v4.8M652.6 218.8h5.6m-2.8-2.4v4.8M654.2 214.1h5.6m-2.8-2.4v4.8M643.8 234.9h5.6m-2.8-2.4v4.8M643.5 236.2h5.6m-2.8-2.4v4.8M647.2 232.8h5.6m-2.8-2.4v4.8M653.5 217.7h5.6m-2.8-2.4v4.8M647.8 224.5h5.6m-2.8-2.4v4.8M652.2 223.0h5.6m-2.8-2.4v4.8M647.3 237.5h5.6m-2.8-2.4v4.8M653.2 220.6h5.6m-2.8-2.4v4.8M644.4 255.2h5.6m-2.8-2.4v4.8M652.8 219.9h5.6m-2.8-2.4v4.8M651.0 231.9h5.6m-2.8-2.4v4.8M645.9 226.8h5.6m-2.8-2.4v4.8M651.0 212.5h5.6m-2.8-2.4v4.8M646.3 238.4h5.6m-2.8-2.4v4.8M651.0 213.6h5.6m-2.8-2.4v4.8M653.4 213.0h5.6m-2.8-2.4v4.8M653.8 213.8h5.6m-2.8-2.4v4.8M645.6 223.9h5.6m-2.8-2.4v4.8M646.2 233.7h5.6m-2.8-2.4v4.8M648.4 230.6h5.6m-2.8-2.4v4.8M650.3 216.9h5.6m-2.8-2.4v4.8M646.2 227.8h5.6m-2.8-2.4v4.8M647.4 206.6h5.6m-2.8-2.4v4.8" stroke="#2ca02c" stroke-width="1.7" fill="none"/>
<rect x="106.6" y="2.1" width="576.1" height="376.1" fill="none" stroke="#000" stroke-width="1.9"/>
<path d="M100.2 17.4H106.6M100.2 137.05H106.6M100.2 255.4H106.6M100.2 374.5H106.6M139.0 378.2V385.4M244.3 378.2V385.4M347.1 378.2V385.4M452.1 378.2V385.4M556.3 378.2V385.4M659.4 378.2V385.4" stroke="#000" stroke-width="1.9" fill="none"/>
<text x="92.9" y="28.8" text-anchor="end" font-family="DejaVu Sans, Liberation Sans, sans-serif" font-size="27.9">10</text>
<text x="92.9" y="148.5" text-anchor="end" font-family="DejaVu Sans, Liberation Sans, sans-serif" font-size="27.9">0</text>
<text x="92.9" y="266.8" text-anchor="end" font-family="DejaVu Sans, Liberation Sans, sans-serif" font-size="27.9">−10</text>
<text x="92.9" y="385.9" text-anchor="end" font-family="DejaVu Sans, Liberation Sans, sans-serif" font-size="27.9">−20</text>
<text transform="translate(139.70,411.6) scale(0.965,1)" text-anchor="middle" font-family="DejaVu Sans, Liberation Sans, sans-serif" font-size="27.9">10</text>
<text transform="translate(242.70,411.6) scale(0.965,1)" text-anchor="middle" font-family="DejaVu Sans, Liberation Sans, sans-serif" font-size="27.9">20</text>
<text transform="translate(345.95,411.6) scale(0.965,1)" text-anchor="middle" font-family="DejaVu Sans, Liberation Sans, sans-serif" font-size="27.9">30</text>
<text transform="translate(451.00,411.6) scale(0.965,1)" text-anchor="middle" font-family="DejaVu Sans, Liberation Sans, sans-serif" font-size="27.9">40</text>
<text transform="translate(555.00,411.6) scale(0.965,1)" text-anchor="middle" font-family="DejaVu Sans, Liberation Sans, sans-serif" font-size="27.9">50</text>
<text transform="translate(658.50,411.6) scale(0.965,1)" text-anchor="middle" font-family="DejaVu Sans, Liberation Sans, sans-serif" font-size="27.9">60</text>
<text transform="translate(394.0,444.6) scale(0.994,1)" text-anchor="middle" font-family="DejaVu Sans, Liberation Sans, sans-serif" font-size="27.9">Lead screw position (mm)</text>
<text transform="translate(23.1,192.15) rotate(-90) scale(0.993,1)" x="0" y="0" text-anchor="middle" font-family="DejaVu Sans, Liberation Sans, sans-serif" font-size="27.9">Load cell value (N)</text>
</g>
</svg></body></html>
